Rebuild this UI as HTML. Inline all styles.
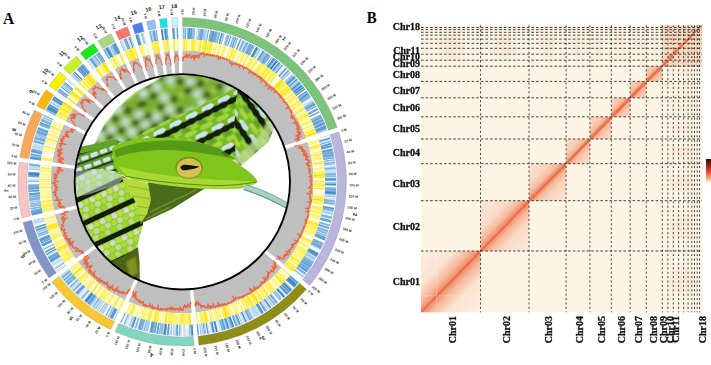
<!DOCTYPE html>
<html><head><meta charset="utf-8"><style>
html,body{margin:0;padding:0;background:#fff;}
body{width:711px;height:365px;overflow:hidden;position:relative;}
svg{position:absolute;left:0;top:0;}
.tk{font-family:"Liberation Sans",sans-serif;font-size:3.4px;font-weight:bold;fill:#333;dominant-baseline:central;}
.cn{font-family:"Liberation Sans",sans-serif;font-size:5.5px;fill:#222;}
.hl{font-family:"Liberation Serif",serif;font-weight:bold;font-size:10px;fill:#111;stroke:#111;stroke-width:0.3;}
.dv{stroke:#222;stroke-width:0.85;stroke-dasharray:2 2.4;}
.dh{stroke:#222;stroke-width:0.85;stroke-dasharray:2.6 2;}
.pl{font-family:"Liberation Serif",serif;font-weight:bold;font-size:15.5px;fill:#000;}
</style></head><body>
<svg width="711" height="365" viewBox="0 0 711 365">
<defs>
<clipPath id="pc"><circle cx="182.3" cy="181.8" r="108"/></clipPath>
<filter id="hb" x="-50%" y="-50%" width="200%" height="200%"><feGaussianBlur stdDeviation="3"/></filter>
<linearGradient id="dg0" x1="0" y1="0" x2="1" y2="1"><stop offset="0" stop-color="#fcefe4"/><stop offset="0.29" stop-color="#fae2d0"/><stop offset="0.42" stop-color="#f6b696"/><stop offset="0.48" stop-color="#f09070"/><stop offset="0.5" stop-color="#eb7050"/><stop offset="0.52" stop-color="#f09070"/><stop offset="0.58" stop-color="#f6b696"/><stop offset="0.71" stop-color="#fae2d0"/><stop offset="1" stop-color="#fcefe4"/></linearGradient>
<linearGradient id="dg1" x1="0" y1="0" x2="1" y2="1"><stop offset="0" stop-color="#fbeadd"/><stop offset="0.29" stop-color="#f9dbc7"/><stop offset="0.42" stop-color="#f6b696"/><stop offset="0.48" stop-color="#f09070"/><stop offset="0.5" stop-color="#eb7050"/><stop offset="0.52" stop-color="#f09070"/><stop offset="0.58" stop-color="#f6b696"/><stop offset="0.71" stop-color="#f9dbc7"/><stop offset="1" stop-color="#fbeadd"/></linearGradient>
<linearGradient id="dg2" x1="0" y1="0" x2="1" y2="1"><stop offset="0" stop-color="#fbe5d7"/><stop offset="0.29" stop-color="#f9d4bd"/><stop offset="0.42" stop-color="#f6b696"/><stop offset="0.47" stop-color="#f09070"/><stop offset="0.5" stop-color="#eb7050"/><stop offset="0.53" stop-color="#f09070"/><stop offset="0.58" stop-color="#f6b696"/><stop offset="0.71" stop-color="#f9d4bd"/><stop offset="1" stop-color="#fbe5d7"/></linearGradient>
<linearGradient id="dg3" x1="0" y1="0" x2="1" y2="1"><stop offset="0" stop-color="#fadfcf"/><stop offset="0.29" stop-color="#f8cdb2"/><stop offset="0.42" stop-color="#f6b696"/><stop offset="0.46" stop-color="#f09070"/><stop offset="0.5" stop-color="#eb7050"/><stop offset="0.54" stop-color="#f09070"/><stop offset="0.58" stop-color="#f6b696"/><stop offset="0.71" stop-color="#f8cdb2"/><stop offset="1" stop-color="#fadfcf"/></linearGradient>
<linearGradient id="dg4" x1="0" y1="0" x2="1" y2="1"><stop offset="0" stop-color="#fadece"/><stop offset="0.27" stop-color="#f8cbb0"/><stop offset="0.41" stop-color="#f6b696"/><stop offset="0.45" stop-color="#f09070"/><stop offset="0.5" stop-color="#eb7050"/><stop offset="0.55" stop-color="#f09070"/><stop offset="0.59" stop-color="#f6b696"/><stop offset="0.73" stop-color="#f8cbb0"/><stop offset="1" stop-color="#fadece"/></linearGradient>
<linearGradient id="dg5" x1="0" y1="0" x2="1" y2="1"><stop offset="0" stop-color="#faddcd"/><stop offset="0.24" stop-color="#f8caae"/><stop offset="0.4" stop-color="#f6b696"/><stop offset="0.44" stop-color="#f09070"/><stop offset="0.5" stop-color="#eb7050"/><stop offset="0.56" stop-color="#f09070"/><stop offset="0.6" stop-color="#f6b696"/><stop offset="0.76" stop-color="#f8caae"/><stop offset="1" stop-color="#faddcd"/></linearGradient>
<linearGradient id="dg6" x1="0" y1="0" x2="1" y2="1"><stop offset="0" stop-color="#fadccb"/><stop offset="0.19" stop-color="#f8c8ac"/><stop offset="0.38" stop-color="#f6b696"/><stop offset="0.43" stop-color="#f09070"/><stop offset="0.5" stop-color="#eb7050"/><stop offset="0.57" stop-color="#f09070"/><stop offset="0.62" stop-color="#f6b696"/><stop offset="0.81" stop-color="#f8c8ac"/><stop offset="1" stop-color="#fadccb"/></linearGradient>
<linearGradient id="dg7" x1="0" y1="0" x2="1" y2="1"><stop offset="0" stop-color="#fadccb"/><stop offset="0.19" stop-color="#f8c8ac"/><stop offset="0.38" stop-color="#f6b696"/><stop offset="0.43" stop-color="#f09070"/><stop offset="0.5" stop-color="#eb7050"/><stop offset="0.57" stop-color="#f09070"/><stop offset="0.62" stop-color="#f6b696"/><stop offset="0.81" stop-color="#f8c8ac"/><stop offset="1" stop-color="#fadccb"/></linearGradient>
<linearGradient id="dg8" x1="0" y1="0" x2="1" y2="1"><stop offset="0" stop-color="#f7c4a4"/><stop offset="0.5" stop-color="#ee7a58"/><stop offset="1" stop-color="#f7c4a4"/></linearGradient>
<linearGradient id="dg9" x1="0" y1="0" x2="1" y2="1"><stop offset="0" stop-color="#f7c4a4"/><stop offset="0.5" stop-color="#ee7a58"/><stop offset="1" stop-color="#f7c4a4"/></linearGradient>
<linearGradient id="dg10" x1="0" y1="0" x2="1" y2="1"><stop offset="0" stop-color="#f7c4a4"/><stop offset="0.5" stop-color="#ee7a58"/><stop offset="1" stop-color="#f7c4a4"/></linearGradient>
<linearGradient id="dg11" x1="0" y1="0" x2="1" y2="1"><stop offset="0" stop-color="#f7c4a4"/><stop offset="0.5" stop-color="#ee7a58"/><stop offset="1" stop-color="#f7c4a4"/></linearGradient>
<linearGradient id="dg12" x1="0" y1="0" x2="1" y2="1"><stop offset="0" stop-color="#f7c4a4"/><stop offset="0.5" stop-color="#ee7a58"/><stop offset="1" stop-color="#f7c4a4"/></linearGradient>
<linearGradient id="dg13" x1="0" y1="0" x2="1" y2="1"><stop offset="0" stop-color="#f7c4a4"/><stop offset="0.5" stop-color="#ee7a58"/><stop offset="1" stop-color="#f7c4a4"/></linearGradient>
<linearGradient id="dg14" x1="0" y1="0" x2="1" y2="1"><stop offset="0" stop-color="#f7c4a4"/><stop offset="0.5" stop-color="#ee7a58"/><stop offset="1" stop-color="#f7c4a4"/></linearGradient>
<linearGradient id="dg15" x1="0" y1="0" x2="1" y2="1"><stop offset="0" stop-color="#f7c4a4"/><stop offset="0.5" stop-color="#ee7a58"/><stop offset="1" stop-color="#f7c4a4"/></linearGradient>
<linearGradient id="dg16" x1="0" y1="0" x2="1" y2="1"><stop offset="0" stop-color="#f7c4a4"/><stop offset="0.5" stop-color="#ee7a58"/><stop offset="1" stop-color="#f7c4a4"/></linearGradient>
<linearGradient id="dg17" x1="0" y1="0" x2="1" y2="1"><stop offset="0" stop-color="#f7c4a4"/><stop offset="0.5" stop-color="#ee7a58"/><stop offset="1" stop-color="#f7c4a4"/></linearGradient>
<linearGradient id="cb" x1="0" y1="0" x2="0" y2="1"><stop offset="0" stop-color="#2b0d0a"/><stop offset="0.3" stop-color="#a0201a"/><stop offset="0.55" stop-color="#e8402a"/><stop offset="0.8" stop-color="#f8a070"/><stop offset="1" stop-color="#fde6cc"/></linearGradient>
</defs>
<text transform="translate(3 23.8) scale(1 1.12)" class="pl">A</text>
<text transform="translate(366.8 23.4) scale(0.96 1.12)" class="pl">B</text>
<g id="circos">
<path d="M182.43 50.3A131.5 131.5 0 0 1 306.27 138.23L284.57 145.85A108.5 108.5 0 0 0 182.39 73.3Z" fill="#bfbfbf"/>
<path d="M307.51 141.93A131.5 131.5 0 0 1 284.18 264.82L266.34 250.3A108.5 108.5 0 0 0 285.59 148.9Z" fill="#bfbfbf"/>
<path d="M281.67 267.81A131.5 131.5 0 0 1 195.6 312.62L193.26 289.73A108.5 108.5 0 0 0 264.27 252.77Z" fill="#bfbfbf"/>
<path d="M191.72 312.96A131.5 131.5 0 0 1 128.4 301.79L137.81 280.8A108.5 108.5 0 0 0 190.05 290.02Z" fill="#bfbfbf"/>
<path d="M124.86 300.14A131.5 131.5 0 0 1 77.94 261.94L96.18 247.93A108.5 108.5 0 0 0 134.89 279.44Z" fill="#bfbfbf"/>
<path d="M75.61 258.81A131.5 131.5 0 0 1 54.8 214.39L77.09 208.69A108.5 108.5 0 0 0 94.25 245.34Z" fill="#bfbfbf"/>
<path d="M53.89 210.6A131.5 131.5 0 0 1 51.64 166.12L74.47 168.86A108.5 108.5 0 0 0 76.33 205.56Z" fill="#bfbfbf"/>
<path d="M52.16 162.25A131.5 131.5 0 0 1 63.86 124.46L84.56 134.49A108.5 108.5 0 0 0 74.91 165.67Z" fill="#bfbfbf"/>
<path d="M65.61 120.98A131.5 131.5 0 0 1 73.31 108.08L92.36 120.97A108.5 108.5 0 0 0 86 131.62Z" fill="#bfbfbf"/>
<path d="M75.55 104.88A131.5 131.5 0 0 1 84.48 93.81L101.57 109.2A108.5 108.5 0 0 0 94.2 118.33Z" fill="#bfbfbf"/>
<path d="M87.13 90.95A131.5 131.5 0 0 1 97.59 81.14L112.39 98.75A108.5 108.5 0 0 0 103.76 106.84Z" fill="#bfbfbf"/>
<path d="M100.61 78.67A131.5 131.5 0 0 1 111.35 71.02L123.74 90.39A108.5 108.5 0 0 0 114.88 96.71Z" fill="#bfbfbf"/>
<path d="M114.67 68.96A131.5 131.5 0 0 1 125.28 63.26L135.23 83.99A108.5 108.5 0 0 0 126.48 88.7Z" fill="#bfbfbf"/>
<path d="M128.82 61.62A131.5 131.5 0 0 1 138.52 57.77L146.16 79.46A108.5 108.5 0 0 0 138.16 82.64Z" fill="#bfbfbf"/>
<path d="M142.22 56.53A131.5 131.5 0 0 1 149.83 54.35L155.49 76.64A108.5 108.5 0 0 0 149.21 78.44Z" fill="#bfbfbf"/>
<path d="M153.63 53.44A131.5 131.5 0 0 1 160.16 52.16L164.01 74.84A108.5 108.5 0 0 0 158.62 75.89Z" fill="#bfbfbf"/>
<path d="M164.01 51.56A131.5 131.5 0 0 1 169.82 50.88L171.99 73.78A108.5 108.5 0 0 0 167.19 74.34Z" fill="#bfbfbf"/>
<path d="M173.71 50.57A131.5 131.5 0 0 1 178.53 50.35L179.17 73.34A108.5 108.5 0 0 0 175.2 73.53Z" fill="#bfbfbf"/>
<path d="M182.49 17.5A164.3 164.3 0 0 1 337.22 127.36L328.63 130.38A155.2 155.2 0 0 0 182.47 26.6Z" fill="#7cc47c" stroke="#777" stroke-width="0.35" stroke-opacity="0.7"/>
<path d="M338.77 131.98A164.3 164.3 0 0 1 309.61 285.53L302.56 279.79A155.2 155.2 0 0 0 330.09 134.74Z" fill="#b9b5dc" stroke="#777" stroke-width="0.35" stroke-opacity="0.7"/>
<path d="M306.48 289.27A164.3 164.3 0 0 1 198.95 345.24L198.02 336.19A155.2 155.2 0 0 0 299.6 283.31Z" fill="#8e8e16" stroke="#777" stroke-width="0.35" stroke-opacity="0.7"/>
<path d="M194.09 345.67A164.3 164.3 0 0 1 114.98 331.72L118.7 323.42A155.2 155.2 0 0 0 193.43 336.59Z" fill="#82d5be" stroke="#777" stroke-width="0.35" stroke-opacity="0.7"/>
<path d="M110.56 329.66A164.3 164.3 0 0 1 51.94 281.93L59.15 276.39A155.2 155.2 0 0 0 114.53 321.47Z" fill="#f8c832" stroke="#777" stroke-width="0.35" stroke-opacity="0.7"/>
<path d="M49.03 278.02A164.3 164.3 0 0 1 23.03 222.52L31.84 220.27A155.2 155.2 0 0 0 56.4 272.7Z" fill="#8494c8" stroke="#777" stroke-width="0.35" stroke-opacity="0.7"/>
<path d="M21.89 217.78A164.3 164.3 0 0 1 19.07 162.2L28.11 163.29A155.2 155.2 0 0 0 30.77 215.79Z" fill="#f8c4c4" stroke="#777" stroke-width="0.35" stroke-opacity="0.7"/>
<path d="M19.73 157.37A164.3 164.3 0 0 1 34.34 110.16L42.53 114.13A155.2 155.2 0 0 0 28.72 158.73Z" fill="#f8a858" stroke="#777" stroke-width="0.35" stroke-opacity="0.7"/>
<path d="M36.53 105.81A164.3 164.3 0 0 1 46.15 89.69L53.69 94.79A155.2 155.2 0 0 0 44.6 110.02Z" fill="#f8b808" stroke="#777" stroke-width="0.35" stroke-opacity="0.7"/>
<path d="M48.94 85.69A164.3 164.3 0 0 1 60.1 71.86L66.86 77.95A155.2 155.2 0 0 0 56.32 91.01Z" fill="#f8f008" stroke="#777" stroke-width="0.35" stroke-opacity="0.7"/>
<path d="M63.42 68.29A164.3 164.3 0 0 1 76.48 56.03L82.34 63A155.2 155.2 0 0 0 70 74.58Z" fill="#c8f028" stroke="#777" stroke-width="0.35" stroke-opacity="0.7"/>
<path d="M80.26 52.95A164.3 164.3 0 0 1 93.68 43.39L98.58 51.05A155.2 155.2 0 0 0 85.9 60.09Z" fill="#18e818" stroke="#777" stroke-width="0.35" stroke-opacity="0.7"/>
<path d="M97.83 40.82A164.3 164.3 0 0 1 111.08 33.69L115.02 41.89A155.2 155.2 0 0 0 102.5 48.63Z" fill="#a8d880" stroke="#777" stroke-width="0.35" stroke-opacity="0.7"/>
<path d="M115.5 31.65A164.3 164.3 0 0 1 127.63 26.83L130.65 35.41A155.2 155.2 0 0 0 119.2 39.96Z" fill="#f87870" stroke="#777" stroke-width="0.35" stroke-opacity="0.7"/>
<path d="M132.25 25.28A164.3 164.3 0 0 1 141.76 22.56L144 31.38A155.2 155.2 0 0 0 135.01 33.95Z" fill="#5080f0" stroke="#777" stroke-width="0.35" stroke-opacity="0.7"/>
<path d="M146.5 21.43A164.3 164.3 0 0 1 154.66 19.82L156.18 28.8A155.2 155.2 0 0 0 148.48 30.31Z" fill="#90c0f8" stroke="#777" stroke-width="0.35" stroke-opacity="0.7"/>
<path d="M159.48 19.08A164.3 164.3 0 0 1 166.74 18.23L167.59 27.29A155.2 155.2 0 0 0 160.73 28.09Z" fill="#18e0f0" stroke="#777" stroke-width="0.35" stroke-opacity="0.7"/>
<path d="M171.6 17.84A164.3 164.3 0 0 1 177.61 17.56L177.87 26.66A155.2 155.2 0 0 0 172.18 26.92Z" fill="#c4f4f8" stroke="#777" stroke-width="0.35" stroke-opacity="0.7"/>
<path d="M182.47 27.8A154 154 0 0 1 327.5 130.77L316.93 134.48A142.8 142.8 0 0 0 182.45 39Z" fill="#a2c8e8"/>
<path d="M328.95 135.11A154 154 0 0 1 301.63 279.03L292.94 271.96A142.8 142.8 0 0 0 318.28 138.5Z" fill="#a2c8e8"/>
<path d="M298.69 282.53A154 154 0 0 1 197.9 335L196.75 323.86A142.8 142.8 0 0 0 290.22 275.2Z" fill="#a2c8e8"/>
<path d="M193.34 335.4A154 154 0 0 1 119.19 322.32L123.78 312.1A142.8 142.8 0 0 0 192.53 324.23Z" fill="#a2c8e8"/>
<path d="M115.05 320.39A154 154 0 0 1 60.11 275.66L68.99 268.83A142.8 142.8 0 0 0 119.94 310.31Z" fill="#a2c8e8"/>
<path d="M57.37 271.99A154 154 0 0 1 33 219.97L43.86 217.19A142.8 142.8 0 0 0 66.45 265.43Z" fill="#a2c8e8"/>
<path d="M31.94 215.53A154 154 0 0 1 29.3 163.43L40.42 164.77A142.8 142.8 0 0 0 42.87 213.07Z" fill="#a2c8e8"/>
<path d="M29.91 158.9A154 154 0 0 1 43.61 114.65L53.69 119.54A142.8 142.8 0 0 0 40.99 160.57Z" fill="#a2c8e8"/>
<path d="M45.66 110.57A154 154 0 0 1 54.68 95.46L63.95 101.74A142.8 142.8 0 0 0 55.59 115.75Z" fill="#a2c8e8"/>
<path d="M57.3 91.72A154 154 0 0 1 67.76 78.75L76.08 86.25A142.8 142.8 0 0 0 66.38 98.27Z" fill="#a2c8e8"/>
<path d="M70.86 75.4A154 154 0 0 1 83.11 63.92L90.31 72.49A142.8 142.8 0 0 0 78.96 83.14Z" fill="#a2c8e8"/>
<path d="M86.65 61.03A154 154 0 0 1 99.23 52.06L105.26 61.5A142.8 142.8 0 0 0 93.6 69.81Z" fill="#a2c8e8"/>
<path d="M103.11 49.66A154 154 0 0 1 115.54 42.98L120.39 53.07A142.8 142.8 0 0 0 108.87 59.27Z" fill="#a2c8e8"/>
<path d="M119.69 41.06A154 154 0 0 1 131.05 36.54L134.77 47.11A142.8 142.8 0 0 0 124.23 51.3Z" fill="#a2c8e8"/>
<path d="M135.38 35.09A154 154 0 0 1 144.29 32.54L147.05 43.39A142.8 142.8 0 0 0 138.78 45.76Z" fill="#a2c8e8"/>
<path d="M148.74 31.48A154 154 0 0 1 156.39 29.98L158.26 41.02A142.8 142.8 0 0 0 151.17 42.41Z" fill="#a2c8e8"/>
<path d="M160.9 29.28A154 154 0 0 1 167.71 28.48L168.76 39.63A142.8 142.8 0 0 0 162.45 40.37Z" fill="#a2c8e8"/>
<path d="M172.26 28.12A154 154 0 0 1 177.9 27.86L178.21 39.06A142.8 142.8 0 0 0 172.98 39.3Z" fill="#a2c8e8"/>
<path fill="#ffffff" d="M183.54 27.81L184.16 27.81L184.02 39.01L183.45 39.01ZM186.23 27.85L187.39 27.89L187.01 39.08L185.94 39.05ZM195.35 28.36L197.04 28.52L195.96 39.66L194.4 39.52ZM199.1 28.73L199.71 28.8L198.44 39.93L197.87 39.86ZM203.37 29.26L203.98 29.35L202.39 40.44L201.83 40.36ZM207.62 29.91L208.23 30.02L206.33 41.05L205.77 40.96ZM208.68 30.09L209.29 30.2L207.32 41.23L206.75 41.13ZM209.21 30.19L210.34 30.39L208.3 41.4L207.24 41.21ZM220.24 32.57L221.36 32.86L218.51 43.69L217.47 43.42ZM222.84 33.26L223.43 33.42L220.43 44.21L219.88 44.06ZM224.91 33.84L226.53 34.32L223.31 45.04L221.8 44.6ZM229.53 35.25L230.63 35.61L227.11 46.25L226.09 45.91ZM238.14 38.32L239.71 38.94L235.53 49.33L234.07 48.75ZM242.13 39.94L242.69 40.18L238.29 50.48L237.77 50.25ZM248.5 42.8L249.06 43.07L244.19 53.16L243.68 52.91ZM251.87 44.46L252.43 44.74L247.32 54.71L246.81 54.45ZM254.74 45.95L256.23 46.76L250.84 56.58L249.46 55.83ZM258.97 48.3L259.97 48.88L254.31 58.54L253.38 58.01ZM260.36 49.11L260.89 49.42L255.17 59.05L254.68 58.76ZM261.75 49.93L262.73 50.54L256.88 60.08L255.96 59.53ZM270.75 55.8L271.26 56.16L264.78 65.3L264.31 64.97ZM271.19 56.11L271.69 56.47L265.19 65.59L264.72 65.26ZM271.63 56.43L272.13 56.79L265.59 65.88L265.12 65.54ZM272.94 57.37L273.44 57.73L266.8 66.76L266.34 66.42ZM283.03 65.4L283.9 66.16L276.5 74.57L275.7 73.86ZM283.84 66.11L284.71 66.87L277.25 75.23L276.45 74.52ZM290.52 72.34L291.34 73.15L283.4 81.05L282.64 80.3ZM291.28 73.1L292.1 73.92L284.1 81.76L283.35 81ZM295.74 77.76L296.16 78.22L287.87 85.75L287.48 85.33ZM297.54 79.76L297.95 80.22L289.53 87.61L289.15 87.18ZM302.72 85.93L303.11 86.42L294.31 93.35L293.96 92.9ZM305.35 89.34L305.72 89.83L296.74 96.52L296.39 96.06ZM305.67 89.77L306.36 90.69L297.33 97.32L296.69 96.46ZM307.26 91.93L307.62 92.44L298.5 98.94L298.17 98.47ZM311.21 97.7L312.13 99.12L302.68 105.14L301.83 103.82ZM316.5 106.44L317.06 107.45L307.25 112.85L306.73 111.92ZM317.02 107.37L317.32 107.92L307.49 113.29L307.22 112.79ZM318.3 109.74L319.08 111.24L309.13 116.37L308.4 114.98ZM319.54 112.13L320.06 113.16L310.03 118.15L309.55 117.19ZM320.02 113.09L320.29 113.64L310.25 118.6L310 118.08ZM320.26 113.57L320.77 114.61L310.69 119.49L310.22 118.53ZM322.33 117.94L322.59 118.5L312.38 123.1L312.14 122.58ZM324.06 121.87L324.3 122.44L313.97 126.76L313.75 126.23ZM325.29 124.86L325.51 125.43L315.09 129.53L314.88 129ZM327.19 129.89L327.53 130.85L316.96 134.56L316.64 133.66ZM329.11 135.62L329.46 136.72L318.75 140L318.43 138.98ZM329.43 136.65L329.61 137.24L318.89 140.48L318.72 139.93ZM330.05 138.71L330.22 139.3L319.45 142.39L319.3 141.84ZM330.92 141.81L331.21 142.93L320.38 145.76L320.1 144.72ZM331.59 144.41L331.74 145.01L320.87 147.69L320.73 147.13ZM334.37 158.11L334.54 159.25L323.46 160.89L323.3 159.83ZM335.04 162.9L335.11 163.51L323.99 164.84L323.92 164.27ZM335.28 165.03L335.41 166.18L324.26 167.32L324.15 166.25ZM335.82 170.92L335.86 171.54L324.68 172.29L324.64 171.71ZM336.2 180.59L336.2 181.75L325 181.75L325 180.68ZM336.16 185.43L336.14 186.05L324.95 185.74L324.96 185.16ZM336.14 185.97L336.11 187.12L324.91 186.73L324.95 185.66ZM336.11 187.04L336.09 187.66L324.9 187.23L324.92 186.66ZM335.37 197.76L335.31 198.38L324.17 197.17L324.23 196.6ZM334.41 205.23L334.23 206.37L323.17 204.58L323.34 203.52ZM334.24 206.29L334.05 207.43L323.01 205.57L323.18 204.51ZM331.53 219.45L331.38 220.05L320.53 217.26L320.67 216.71ZM330.71 222.57L330.25 224.2L319.48 221.11L319.91 219.6ZM330.27 224.12L330.1 224.71L319.34 221.59L319.5 221.04ZM328.54 229.77L328.34 230.36L317.72 226.83L317.89 226.28ZM326.96 234.34L326.75 234.93L316.23 231.06L316.43 230.52ZM324.63 240.36L323.98 241.92L313.67 237.55L314.27 236.1ZM324.01 241.85L323.56 242.91L313.28 238.47L313.7 237.48ZM320.67 249.19L320.4 249.74L310.35 244.8L310.6 244.29ZM320.2 250.15L319.68 251.19L309.68 246.14L310.16 245.18ZM319.72 251.12L318.95 252.62L309 247.47L309.72 246.07ZM303.97 276.08L303.59 276.57L294.76 269.68L295.11 269.22ZM302.64 277.77L302.25 278.26L293.52 271.24L293.88 270.79ZM302.3 278.19L301.58 279.09L292.89 272.02L293.57 271.18ZM294 287.71L292.83 288.93L284.78 281.14L285.87 280.01ZM289.08 292.67L288.63 293.1L280.89 285.01L281.31 284.61ZM286.34 295.25L285.88 295.67L278.34 287.39L278.77 287ZM283.54 297.76L282.66 298.52L275.36 290.03L276.17 289.33ZM279.84 300.89L279.37 301.28L272.3 292.59L272.74 292.23ZM279.43 301.23L278.11 302.29L271.13 293.53L272.36 292.54ZM272.17 306.78L271.23 307.45L264.76 298.32L265.63 297.69ZM264.6 311.9L263.63 312.51L257.7 303.01L258.61 302.44ZM259.08 315.24L258.55 315.54L252.99 305.82L253.49 305.53ZM249.59 320.27L249.03 320.54L244.17 310.45L244.69 310.2ZM247.65 321.2L247.09 321.46L242.37 311.3L242.89 311.06ZM241.75 323.82L240.69 324.26L236.43 313.9L237.42 313.49ZM235.75 326.19L234.16 326.77L230.38 316.23L231.86 315.69ZM230.17 328.14L229.58 328.33L226.14 317.67L226.68 317.49ZM221.93 330.59L221.33 330.75L218.48 319.91L219.04 319.77ZM220.37 331L219.77 331.15L217.04 320.29L217.59 320.14ZM219.85 331.13L219.25 331.28L216.55 320.41L217.11 320.27ZM215.14 332.24L214.53 332.37L212.18 321.42L212.74 321.3ZM212.51 332.79L211.9 332.91L209.74 321.92L210.3 321.81ZM210.92 333.1L209.79 333.31L207.78 322.29L208.84 322.09ZM209.34 333.39L208.73 333.5L206.8 322.47L207.37 322.37ZM206.69 333.84L206.08 333.94L204.34 322.87L204.91 322.78ZM205.63 334.01L205.02 334.1L203.36 323.02L203.92 322.94ZM202.43 334.46L201.82 334.54L200.39 323.44L200.96 323.36ZM200.3 334.73L199.15 334.86L197.92 323.73L198.98 323.61ZM188.51 335.67L187.9 335.69L187.48 324.5L188.06 324.48ZM187.98 335.69L187.36 335.71L186.98 324.52L187.56 324.5ZM186.37 335.74L185.21 335.77L184.99 324.57L186.06 324.55ZM183.68 335.79L182.52 335.8L182.5 324.6L183.57 324.59ZM182.6 335.8L181.98 335.8L182 324.6L182.57 324.6ZM182.07 335.8L181.45 335.8L181.5 324.6L182.08 324.6ZM178.84 335.76L177.69 335.73L178.01 324.54L179.08 324.57ZM172.93 335.52L172.32 335.48L173.03 324.31L173.61 324.34ZM172.4 335.49L171.78 335.45L172.54 324.27L173.11 324.31ZM167.04 335.05L165.89 334.93L167.08 323.8L168.14 323.91ZM158.51 333.97L157.9 333.87L159.66 322.81L160.23 322.9ZM149.52 332.29L148.92 332.16L151.34 321.23L151.9 321.35ZM149 332.18L147.87 331.93L150.37 321.01L151.41 321.24ZM143.77 330.93L143.17 330.77L146.01 319.94L146.57 320.08ZM142.73 330.66L142.13 330.5L145.05 319.68L145.6 319.83ZM137.56 329.19L136.97 329.01L140.26 318.3L140.81 318.47ZM136.53 328.87L135.94 328.69L139.31 318.01L139.85 318.18ZM130.92 327.01L130.34 326.8L134.11 316.26L134.65 316.45ZM123.39 324.13L122.82 323.89L127.14 313.56L127.67 313.78ZM122.89 323.92L121.83 323.47L126.22 313.17L127.21 313.59ZM121.9 323.51L121.34 323.26L125.76 312.97L126.29 313.2ZM120.42 322.87L119.12 322.29L123.71 312.07L124.92 312.61ZM115.05 320.39L114.5 320.12L119.42 310.06L119.94 310.31ZM113.61 319.68L112.57 319.16L117.64 309.17L118.59 309.65ZM109.78 317.71L109.24 317.42L114.54 307.56L115.05 307.83ZM108.84 317.2L108.29 316.91L113.67 307.08L114.17 307.35ZM107.42 316.43L106.88 316.12L112.36 306.36L112.86 306.64ZM105.08 315.1L104.09 314.52L109.77 304.87L110.69 305.41ZM104.15 314.56L103.16 313.97L108.91 304.36L109.83 304.9ZM100.93 312.61L100.41 312.29L106.36 302.8L106.84 303.1ZM99.57 311.75L98.6 311.13L104.68 301.72L105.58 302.3ZM95.97 309.4L95.46 309.05L101.77 299.79L102.24 300.12ZM84.35 300.72L83.46 299.98L90.64 291.38L91.46 292.07ZM83.52 300.03L83.05 299.63L90.26 291.06L90.7 291.43ZM78.66 295.79L78.2 295.38L85.76 287.12L86.19 287.5ZM74.36 291.73L73.92 291.3L81.79 283.34L82.2 283.74ZM64.84 281.51L64.44 281.04L73 273.82L73.37 274.26ZM56.13 270.24L55.47 269.29L64.68 262.93L65.3 263.81ZM47.84 257.05L47.53 256.51L57.33 251.07L57.61 251.58ZM46.04 253.74L45.75 253.2L55.67 248L55.94 248.51ZM45.79 253.27L45.5 252.72L55.44 247.56L55.71 248.07ZM44.8 251.36L44.28 250.32L54.31 245.34L54.79 246.3ZM44.32 250.39L44.05 249.84L54.09 244.89L54.35 245.41ZM43.61 248.95L43.11 247.9L53.23 243.1L53.69 244.06ZM42.91 247.49L42.42 246.44L52.59 241.74L53.04 242.71ZM41.35 244.07L41.1 243.5L51.36 239.02L51.59 239.54ZM39.06 238.62L38.45 237.04L48.9 233.02L49.47 234.48ZM36.99 233.08L36.78 232.5L47.36 228.81L47.55 229.35ZM36.63 232.06L36.43 231.48L47.03 227.87L47.22 228.41ZM34.97 226.95L34.63 225.85L45.37 222.64L45.68 223.67ZM34.66 225.92L34.33 224.82L45.08 221.69L45.39 222.72ZM33.07 220.23L32.98 219.89L43.84 217.12L43.92 217.43ZM30.85 210.26L30.74 209.65L41.76 207.63L41.86 208.19ZM29.06 198.03L28.99 197.42L40.14 196.28L40.2 196.85ZM28.62 193.21L28.58 192.6L39.75 191.81L39.79 192.38ZM28.58 192.68L28.54 192.06L39.72 191.31L39.76 191.89ZM28.23 184.62L28.2 182.93L39.4 182.85L39.42 184.42ZM28.2 183.01L28.2 181.85L39.4 181.85L39.4 182.92ZM28.23 178.71L28.24 178.09L39.44 178.36L39.43 178.93ZM28.24 178.17L28.27 177.02L39.47 177.36L39.44 178.44ZM28.53 171.73L28.57 171.11L39.74 171.89L39.71 172.46ZM28.57 171.19L28.61 170.57L39.78 171.39L39.74 171.96ZM28.6 170.66L28.69 169.5L39.86 170.4L39.77 171.47ZM31.76 148.86L31.9 148.26L42.83 150.7L42.7 151.26ZM33.84 140.52L34 139.92L44.78 142.97L44.63 143.52ZM34.13 139.48L34.3 138.89L45.06 142.01L44.9 142.56ZM35.37 135.36L35.56 134.77L46.22 138.19L46.05 138.74ZM38.38 126.74L38.6 126.16L49.05 130.21L48.84 130.74ZM38.57 126.24L38.99 125.16L49.41 129.28L49.02 130.28ZM40.39 121.75L40.84 120.69L51.12 125.13L50.7 126.12ZM49.58 103.52L49.89 102.99L59.52 108.72L59.22 109.22ZM50.96 101.22L51.57 100.24L61.07 106.17L60.51 107.08ZM51.81 99.85L52.14 99.33L61.6 105.33L61.3 105.81ZM54.15 96.24L54.72 95.39L63.99 101.68L63.47 102.46ZM59.53 88.69L59.91 88.2L68.8 95.01L68.46 95.46ZM63.88 83.22L64.28 82.75L72.86 89.95L72.49 90.39ZM64.92 81.99L65.32 81.52L73.82 88.81L73.45 89.25ZM65.27 81.58L66.03 80.71L74.48 88.06L73.78 88.87ZM65.97 80.77L66.38 80.3L74.8 87.68L74.43 88.11ZM66.33 80.36L66.74 79.9L75.13 87.31L74.76 87.74ZM67.04 79.56L67.45 79.09L75.8 86.56L75.41 86.99ZM73.12 73.1L73.93 72.28L81.81 80.25L81.05 81ZM75.03 71.21L75.86 70.41L83.6 78.51L82.82 79.25ZM75.8 70.46L77.03 69.3L84.68 77.48L83.54 78.56ZM87.49 60.36L88.41 59.66L95.23 68.54L94.38 69.2ZM94.86 54.96L95.82 54.31L102.1 63.58L101.21 64.19ZM128.14 37.6L128.72 37.38L132.61 47.89L132.07 48.09ZM129.66 37.04L130.24 36.83L134.02 47.37L133.48 47.57ZM130.67 36.68L131.12 36.52L134.84 47.08L134.41 47.23ZM138.98 33.99L140.61 33.52L143.63 44.31L142.12 44.74ZM143.12 32.84L144.24 32.55L147 43.41L145.96 43.67ZM155.06 30.21L155.67 30.1L157.6 41.13L157.03 41.23ZM162.5 29.07L163.11 28.99L164.5 40.1L163.93 40.17ZM174.95 27.97L176.64 27.9L177.04 39.09L175.47 39.16Z"/>
<path fill="#e2eef8" d="M182.47 27.8L183.09 27.8L183.02 39L182.45 39ZM184.08 27.81L184.7 27.82L184.52 39.02L183.94 39.01ZM193.21 28.19L193.83 28.24L192.98 39.41L192.41 39.37ZM197.5 28.56L198.11 28.62L196.95 39.76L196.38 39.71ZM198.03 28.62L198.64 28.68L197.45 39.82L196.88 39.76ZM214.48 31.22L215.09 31.35L212.69 42.29L212.13 42.17ZM231.57 35.93L232.16 36.13L228.53 46.72L227.98 46.54ZM232.08 36.1L233.18 36.48L229.47 47.05L228.46 46.7ZM239.64 38.91L240.21 39.14L235.99 49.52L235.46 49.3ZM241.13 39.52L242.2 39.97L237.84 50.28L236.85 49.87ZM244.59 41L245.65 41.48L241.03 51.68L240.05 51.24ZM248.98 43.03L249.54 43.3L244.64 53.38L244.13 53.13ZM260.82 49.38L261.35 49.7L255.6 59.31L255.11 59.01ZM261.29 49.66L261.82 49.98L256.02 59.56L255.53 59.27ZM272.5 57.05L273 57.42L266.4 66.46L265.93 66.13ZM278.07 61.28L278.97 62L271.93 70.71L271.1 70.04ZM284.65 66.82L285.9 67.95L278.36 76.23L277.19 75.18ZM286.64 68.62L287.09 69.04L279.46 77.24L279.04 76.85ZM287.03 68.99L288.27 70.15L280.55 78.27L279.41 77.19ZM288.98 70.84L289.43 71.26L281.63 79.3L281.22 78.91ZM289.37 71.21L290.2 72.02L282.34 80L281.58 79.25ZM298.95 81.38L299.35 81.85L290.83 89.12L290.46 88.68ZM312.37 99.51L312.98 100.49L303.47 106.4L302.9 105.49ZM320.97 115.02L321.23 115.57L311.12 120.39L310.87 119.87ZM332.22 147.03L332.6 148.68L321.66 151.09L321.31 149.56ZM334.68 160.23L334.77 160.85L323.67 162.37L323.59 161.8ZM334.76 160.77L334.84 161.38L323.74 162.86L323.66 162.3ZM335.23 164.5L335.29 165.11L324.16 166.33L324.1 165.76ZM335.45 166.64L335.51 167.25L324.36 168.31L324.31 167.74ZM336.12 176.83L336.15 177.98L324.96 178.26L324.93 177.19ZM335.26 198.83L335.12 199.98L324 198.66L324.12 197.59ZM334.07 207.35L333.96 207.96L322.92 206.06L323.02 205.49ZM333.29 211.58L333.07 212.71L322.09 210.47L322.3 209.41ZM332.64 214.74L332.5 215.34L321.57 212.9L321.7 212.34ZM332.52 215.26L332.38 215.87L321.46 213.39L321.59 212.83ZM332.4 215.79L332.14 216.91L321.24 214.36L321.48 213.32ZM329.67 226.18L329.33 227.29L318.63 223.98L318.94 222.95ZM328.87 228.75L328.51 229.85L317.87 226.35L318.2 225.33ZM318.99 252.55L318.7 253.1L308.77 247.91L309.04 247.41ZM311.43 265.56L311.09 266.08L301.72 259.95L302.03 259.47ZM306.87 272.21L306.19 273.14L297.17 266.5L297.8 265.63ZM304.95 274.8L303.92 276.15L295.06 269.28L296.02 268.04ZM285.94 295.61L285.09 296.39L277.6 288.05L278.4 287.34ZM274.34 305.19L273.41 305.88L266.78 296.86L267.64 296.22ZM269.54 308.64L268.58 309.29L262.3 300.02L263.19 299.41ZM267.76 309.85L266.79 310.48L260.64 301.13L261.54 300.53ZM265.06 311.61L264.54 311.94L258.55 302.48L259.03 302.17ZM261.4 313.87L259.94 314.74L254.29 305.07L255.64 304.27ZM255.33 317.33L253.83 318.13L248.62 308.21L250.01 307.47ZM244.22 322.76L242.67 323.43L238.27 313.13L239.71 312.51ZM242.74 323.4L242.17 323.64L237.81 313.33L238.34 313.1ZM238.77 325.03L237.69 325.46L233.65 315.01L234.65 314.62ZM221.41 330.73L220.81 330.88L218 320.04L218.56 319.89ZM219.33 331.26L217.68 331.66L215.1 320.76L216.63 320.39ZM211.98 332.89L211.37 333.01L209.25 322.01L209.81 321.9ZM211.45 333L210.85 333.11L208.76 322.11L209.33 322ZM207.75 333.67L206.61 333.85L204.83 322.79L205.89 322.62ZM189.59 335.62L188.43 335.67L187.98 324.48L189.05 324.44ZM187.44 335.71L186.28 335.75L185.99 324.55L187.06 324.52ZM180.99 335.8L180.37 335.79L180.51 324.59L181.08 324.6ZM175.62 335.66L173.93 335.58L174.53 324.39L176.1 324.47ZM170.25 335.34L169.64 335.29L170.55 324.12L171.12 324.17ZM169.72 335.29L168.56 335.2L169.56 324.04L170.62 324.13ZM156.39 333.62L155.25 333.42L157.21 322.4L158.26 322.58ZM144.81 331.19L144.21 331.04L146.98 320.19L147.53 320.33ZM134.48 328.22L133.9 328.03L137.41 317.39L137.95 317.57ZM133.97 328.05L132.88 327.69L136.46 317.08L137.48 317.42ZM128.9 326.28L127.82 325.88L131.77 315.4L132.77 315.77ZM127.89 325.91L127.31 325.69L131.3 315.22L131.84 315.43ZM127.39 325.72L125.81 325.1L129.91 314.68L131.37 315.25ZM123.89 324.33L123.32 324.1L127.6 313.75L128.13 313.97ZM106.95 316.16L106.41 315.86L111.93 306.11L112.42 306.39ZM105.55 315.37L105.01 315.06L110.63 305.37L111.12 305.65ZM98.66 311.17L98.15 310.84L104.26 301.45L104.74 301.77ZM92.44 306.94L91.94 306.58L98.51 297.5L98.97 297.84ZM91.57 306.31L91.07 305.94L97.7 296.92L98.16 297.25ZM83.11 299.68L82.64 299.29L89.88 290.74L90.31 291.11ZM82.7 299.34L82.23 298.94L89.5 290.42L89.93 290.79ZM81.47 298.29L81 297.88L88.36 289.44L88.8 289.82ZM80.66 297.58L80.2 297.17L87.62 288.78L88.05 289.16ZM80.26 297.23L79.79 296.82L87.24 288.45L87.67 288.83ZM79.85 296.87L78.6 295.74L86.13 287.45L87.3 288.5ZM78.26 295.43L77.8 295.01L85.4 286.78L85.82 287.17ZM75.13 292.48L74.3 291.68L82.15 283.69L82.91 284.44ZM72.83 290.22L72.02 289.39L80.03 281.57L80.79 282.33ZM69.48 286.73L69.06 286.28L77.29 278.68L77.68 279.1ZM69.11 286.34L67.97 285.09L76.28 277.57L77.34 278.73ZM66.59 283.54L66.19 283.08L74.62 275.71L75 276.14ZM57.06 271.56L56.7 271.05L65.83 264.56L66.16 265.03ZM56.75 271.12L56.08 270.17L65.25 263.75L65.87 264.62ZM54.6 268.03L53.96 267.07L63.29 260.87L63.88 261.76ZM54 267.13L53.37 266.17L62.74 260.03L63.33 260.93ZM53.41 266.24L52.78 265.27L62.19 259.2L62.78 260.1ZM51.96 263.98L51.34 263L60.86 257.09L61.43 258ZM49.44 259.85L49.13 259.31L58.81 253.67L59.1 254.17ZM47.57 256.58L47.02 255.57L56.85 250.2L57.36 251.14ZM43.14 247.98L42.88 247.42L53.01 242.65L53.26 243.16ZM35.78 229.52L35.42 228.42L46.1 225.03L46.43 226.05ZM34.35 224.89L34.18 224.3L44.95 221.21L45.1 221.76ZM34.2 224.38L34.03 223.78L44.81 220.73L44.97 221.28ZM33.48 221.79L33.32 221.19L44.15 218.33L44.3 218.88ZM30.47 208.14L30.28 207.01L41.33 205.17L41.51 206.23ZM29.79 203.9L29.71 203.29L40.8 201.72L40.88 202.29ZM28.85 195.89L28.79 195.28L39.95 194.3L40 194.87ZM28.21 180.32L28.22 179.17L39.42 179.36L39.41 180.43ZM28.31 176.02L28.33 175.4L39.52 175.87L39.5 176.44ZM30.8 153.6L30.92 153L41.92 155.09L41.81 155.65ZM31.88 148.34L32.02 147.73L42.94 150.21L42.81 150.77ZM32.49 145.72L32.63 145.12L43.51 147.79L43.37 148.34ZM32.74 144.67L32.89 144.07L43.75 146.82L43.61 147.37ZM33 143.63L33.43 141.99L44.25 144.89L43.86 146.41ZM37.08 130.27L37.29 129.68L47.83 133.48L47.63 134.01ZM41.68 118.79L41.93 118.23L52.13 122.85L51.9 123.38ZM42.8 116.35L43.29 115.31L53.4 120.14L52.94 121.11ZM49.3 103.99L49.62 103.45L59.26 109.15L58.97 109.65ZM58.25 90.41L58.61 89.92L67.6 96.6L67.26 97.06ZM59.86 88.26L60.9 86.92L69.72 93.82L68.76 95.07ZM61.18 86.57L61.9 85.66L70.65 92.65L69.98 93.49ZM66.68 79.96L67.09 79.5L75.46 86.94L75.08 87.36ZM71.61 74.63L72.04 74.19L80.05 82.01L79.65 82.42ZM74.64 71.58L75.09 71.15L82.88 79.2L82.47 79.6ZM77.76 68.62L78.22 68.2L85.78 76.47L85.36 76.85ZM104.5 48.84L105.04 48.53L110.65 58.22L110.15 58.51ZM108.25 46.72L109.26 46.17L114.57 56.03L113.62 56.54ZM120.18 40.84L121.24 40.38L125.67 50.67L124.69 51.09ZM121.66 40.2L123.22 39.54L127.51 49.89L126.06 50.5ZM126.13 38.37L127.71 37.76L131.68 48.24L130.21 48.8ZM144.16 32.57L144.37 32.52L147.12 43.38L146.93 43.42ZM163.03 29L164.18 28.86L165.49 39.98L164.43 40.11ZM174.41 28L175.03 27.97L175.55 39.16L174.98 39.18Z"/>
<path fill="#c6dcf0" d="M185.16 27.83L185.77 27.84L185.51 39.04L184.94 39.03ZM194.82 28.32L195.43 28.37L194.47 39.53L193.9 39.48ZM204.43 29.41L205.04 29.5L203.38 40.58L202.81 40.5ZM206.03 29.65L207.7 29.93L205.84 40.97L204.29 40.72ZM236.13 37.55L237.21 37.96L233.21 48.42L232.21 48.04ZM242.62 40.15L243.19 40.39L238.75 50.68L238.23 50.45ZM275.52 59.3L276.44 60L269.59 68.86L268.74 68.21ZM281.4 64L282.28 64.75L275 73.26L274.18 72.57ZM313.51 101.34L313.83 101.86L304.26 107.68L303.96 107.19ZM315.43 104.57L315.74 105.1L306.03 110.68L305.74 110.18ZM325.87 126.36L326.1 126.94L315.63 130.93L315.43 130.39ZM326.82 128.88L327.03 129.46L316.5 133.26L316.3 132.73ZM329.59 137.16L329.77 137.75L319.03 140.96L318.87 140.41ZM330.2 139.22L330.37 139.82L319.59 142.87L319.43 142.32ZM330.34 139.74L330.8 141.37L319.99 144.31L319.57 142.8ZM335.4 166.1L335.46 166.72L324.31 167.82L324.26 167.25ZM335.65 168.78L335.78 170.47L324.61 171.29L324.49 169.73ZM335.78 170.39L335.82 171L324.65 171.79L324.61 171.22ZM335.85 171.46L335.93 172.61L324.75 173.28L324.68 172.21ZM335.92 172.53L335.96 173.15L324.77 173.78L324.74 173.21ZM335.67 194.55L335.52 196.24L324.37 195.19L324.51 193.63ZM332.75 214.21L332.62 214.82L321.68 212.42L321.8 211.86ZM326.02 236.86L325.8 237.44L315.35 233.39L315.56 232.86ZM322.05 246.27L321.79 246.83L311.64 242.1L311.88 241.58ZM316.7 256.81L316.13 257.82L306.39 252.29L306.91 251.36ZM316.17 257.75L315.86 258.29L306.14 252.72L306.43 252.23ZM314.82 260.08L313.95 261.53L304.37 255.73L305.18 254.38ZM314 261.46L313.67 261.99L304.11 256.16L304.41 255.67ZM310.25 267.36L309.9 267.87L300.61 261.61L300.93 261.14ZM303.31 276.93L302.92 277.41L294.14 270.46L294.5 270.01ZM302.97 277.35L302.59 277.84L293.83 270.85L294.19 270.4ZM286.74 294.89L286.28 295.3L278.71 287.05L279.13 286.66ZM276.48 303.57L275.14 304.6L268.38 295.66L269.62 294.71ZM272.61 306.47L272.11 306.83L265.57 297.74L266.03 297.4ZM257.68 316.03L256.2 316.85L250.82 307.03L252.19 306.27ZM256.27 316.82L255.26 317.37L249.94 307.51L250.89 307ZM253.9 318.09L253.36 318.37L248.18 308.44L248.69 308.18ZM249.1 320.51L248.06 321.01L243.27 310.88L244.24 310.42ZM245.7 322.1L244.64 322.57L240.1 312.34L241.08 311.9ZM227.1 329.11L226.51 329.29L223.28 318.56L223.83 318.4ZM220.89 330.86L220.29 331.02L217.52 320.16L218.07 320.02ZM216.19 332L215.58 332.14L213.16 321.2L213.72 321.08ZM204.56 334.17L203.42 334.33L201.88 323.24L202.94 323.09ZM191.2 335.54L190.04 335.6L189.47 324.41L190.54 324.36ZM185.29 335.77L183.6 335.79L183.5 324.59L185.07 324.57ZM181.53 335.8L180.91 335.79L181 324.59L181.58 324.6ZM163.3 334.64L162.15 334.49L163.61 323.38L164.67 323.52ZM145.34 331.32L144.74 331.17L147.46 320.31L148.02 320.45ZM143.25 330.79L142.65 330.64L145.53 319.81L146.08 319.96ZM134.99 328.39L134.41 328.2L137.88 317.55L138.43 317.73ZM125.88 325.13L125.31 324.91L129.45 314.5L129.98 314.71ZM125.38 324.94L124.81 324.71L128.98 314.31L129.52 314.53ZM124.88 324.74L124.31 324.51L128.52 314.13L129.05 314.34ZM106.48 315.9L105.95 315.6L111.49 305.87L111.99 306.15ZM103.23 314.01L102.7 313.69L108.48 304.1L108.97 304.4ZM102.31 313.46L101.78 313.13L107.63 303.58L108.12 303.88ZM98.21 310.88L96.8 309.95L103.01 300.63L104.32 301.49ZM96.87 310L95.91 309.35L102.18 300.07L103.07 300.67ZM95.08 308.79L94.58 308.44L100.95 299.23L101.42 299.56ZM94.64 308.49L93.25 307.52L99.72 298.37L101.01 299.27ZM75.51 292.86L75.07 292.43L82.86 284.38L83.27 284.78ZM72.08 289.45L70.9 288.23L78.99 280.49L80.09 281.62ZM70.96 288.29L70.16 287.46L78.31 279.77L79.05 280.55ZM63.46 279.86L63.06 279.38L71.73 272.29L72.09 272.73ZM63.11 279.44L62.38 278.55L71.1 271.51L71.77 272.34ZM61.09 276.93L60.38 276.02L69.24 269.17L69.9 270.01ZM60.43 276.08L60.06 275.59L68.94 268.77L69.29 269.22ZM57.37 271.99L57.01 271.49L66.12 264.97L66.45 265.43ZM54.91 268.47L54.56 267.96L63.84 261.69L64.16 262.17ZM52.83 265.34L51.91 263.91L61.39 257.94L62.23 259.26ZM51.39 263.07L50.78 262.08L60.34 256.24L60.9 257.16ZM44.08 249.91L43.81 249.36L53.87 244.44L54.13 244.96ZM40.49 242.1L40.25 241.53L50.58 237.18L50.8 237.71ZM37.35 234.09L36.96 233L47.52 229.28L47.88 230.29ZM33.91 223.34L33.46 221.71L44.28 218.81L44.69 220.32ZM29.5 201.77L29.35 200.62L40.47 199.25L40.61 200.32ZM28.45 190.53L28.39 189.38L39.57 188.83L39.63 189.9ZM28.2 180.86L28.21 180.24L39.41 180.35L39.4 180.93ZM28.22 179.25L28.23 178.63L39.43 178.86L39.42 179.43ZM28.77 168.51L28.93 166.83L40.08 167.91L39.93 169.48ZM28.92 166.91L29.04 165.76L40.18 166.92L40.07 167.99ZM29.03 165.84L29.09 165.22L40.23 166.43L40.17 167ZM29.21 164.23L29.28 163.62L40.4 164.94L40.33 165.51ZM30.9 153.08L31.12 151.94L42.11 154.11L41.91 155.16ZM32 147.81L32.38 146.16L43.28 148.75L42.92 150.28ZM32.61 145.2L32.76 144.6L43.63 147.3L43.49 147.86ZM32.87 144.15L33.02 143.55L43.87 146.34L43.73 146.89ZM34.89 136.9L35.23 135.8L45.92 139.14L45.6 140.17ZM36.37 132.3L36.57 131.71L47.16 135.36L46.98 135.9ZM49.85 103.06L50.17 102.53L59.77 108.3L59.48 108.79ZM62.18 85.3L63.25 83.99L71.9 91.1L70.91 92.32ZM67.4 79.15L67.81 78.69L76.13 86.19L75.75 86.62ZM86.65 61.03L87.56 60.31L94.44 69.15L93.6 69.81ZM92.66 56.5L93.61 55.84L100.05 65L99.17 65.62ZM142.6 32.98L143.2 32.82L146.04 43.66L145.48 43.8ZM150.31 31.14L151.44 30.9L153.68 41.88L152.63 42.09ZM154.53 30.31L155.14 30.2L157.11 41.22L156.54 41.32Z"/>
<path fill="#7cb2dc" d="M184.62 27.82L185.24 27.83L185.02 39.03L184.44 39.02ZM187.31 27.88L188.46 27.93L188.01 39.12L186.93 39.08ZM190.53 28.03L191.15 28.06L190.49 39.24L189.92 39.21ZM192.67 28.16L193.29 28.2L192.48 39.37L191.91 39.33ZM193.75 28.23L194.9 28.32L193.98 39.49L192.91 39.4ZM198.56 28.67L199.18 28.74L197.94 39.87L197.37 39.81ZM199.63 28.79L201.31 28.99L199.92 40.1L198.37 39.92ZM201.77 29.05L202.38 29.13L200.91 40.23L200.34 40.16ZM202.3 29.12L202.91 29.2L201.41 40.3L200.84 40.22ZM203.9 29.34L204.51 29.42L202.89 40.51L202.32 40.42ZM210.26 30.38L211.4 30.59L209.28 41.59L208.22 41.39ZM211.32 30.58L212.45 30.8L210.25 41.78L209.2 41.58ZM215.53 31.45L216.13 31.59L213.67 42.51L213.11 42.38ZM216.58 31.69L217.71 31.95L215.12 42.85L214.08 42.6ZM219.2 32.31L220.32 32.59L217.54 43.44L216.5 43.18ZM223.35 33.4L223.95 33.57L220.91 44.35L220.36 44.19ZM228 34.77L228.59 34.95L225.21 45.63L224.67 45.46ZM228.51 34.93L229.61 35.28L226.16 45.94L225.14 45.61ZM233.1 36.45L233.68 36.66L229.94 47.22L229.4 47.03ZM233.61 36.63L234.19 36.84L230.41 47.38L229.87 47.19ZM237.14 37.93L238.22 38.35L234.14 48.78L233.14 48.4ZM243.11 40.36L244.67 41.04L240.12 51.27L238.68 50.65ZM246.55 41.89L247.6 42.38L242.84 52.52L241.87 52.07ZM247.53 42.34L248.57 42.84L243.74 52.94L242.78 52.48ZM249.95 43.5L250.99 44.02L245.98 54.04L245.02 53.56ZM253.31 45.2L253.86 45.49L248.65 55.4L248.14 55.13ZM254.26 45.7L254.81 45.99L249.53 55.87L249.02 55.6ZM258.5 48.03L259.04 48.34L253.45 58.04L252.95 57.76ZM264.94 51.92L265.46 52.25L259.41 61.67L258.93 61.36ZM266.75 53.09L268.16 54.02L261.91 63.32L260.6 62.45ZM268.54 54.28L269.49 54.93L263.14 64.16L262.26 63.55ZM269.43 54.88L269.94 55.24L263.55 64.44L263.08 64.11ZM269.87 55.19L270.38 55.54L263.96 64.73L263.49 64.4ZM270.31 55.5L270.82 55.85L264.37 65.01L263.9 64.68ZM293.16 75.02L293.59 75.46L285.49 83.2L285.09 82.78ZM293.91 75.79L294.33 76.24L286.18 83.92L285.78 83.5ZM296.46 78.55L296.88 79.01L288.54 86.49L288.15 86.06ZM300.34 83.02L301.08 83.91L292.44 91.03L291.75 90.2ZM305.03 88.91L305.4 89.4L296.44 96.12L296.09 95.66ZM306.63 91.06L307.31 92L298.21 98.53L297.58 97.66ZM308.81 94.13L309.16 94.64L299.93 100.98L299.6 100.51ZM309.12 94.57L309.46 95.08L300.21 101.39L299.89 100.92ZM309.42 95.02L309.77 95.53L300.49 101.8L300.17 101.33ZM309.72 95.46L310.37 96.42L301.04 102.63L300.45 101.74ZM313.79 101.79L314.66 103.25L305.03 108.96L304.22 107.61ZM315.97 105.5L316.54 106.51L306.77 111.98L306.24 111.05ZM317.28 107.85L317.83 108.86L307.97 114.17L307.46 113.22ZM317.79 108.79L318.09 109.34L308.2 114.61L307.93 114.1ZM321.2 115.5L321.69 116.55L311.55 121.29L311.09 120.32ZM322.56 118.43L322.81 118.99L312.58 123.56L312.35 123.04ZM323.43 120.39L324.09 121.95L313.77 126.3L313.16 124.86ZM324.68 123.36L325.32 124.93L314.91 129.07L314.32 127.61ZM327 129.38L327.21 129.96L316.67 133.73L316.47 133.19ZM332.1 146.5L332.24 147.11L321.33 149.63L321.2 149.07ZM332.92 150.18L333.15 151.31L322.17 153.53L321.96 152.48ZM333.14 151.23L333.36 152.36L322.37 154.5L322.16 153.45ZM333.45 152.81L333.66 153.95L322.64 155.97L322.45 154.92ZM333.65 153.87L333.76 154.48L322.73 156.46L322.63 155.9ZM334.2 157.05L334.3 157.66L323.23 159.41L323.14 158.85ZM334.53 159.17L334.62 159.78L323.53 161.38L323.45 160.82ZM334.61 159.7L334.69 160.31L323.6 161.88L323.52 161.31ZM334.9 161.83L334.98 162.45L323.87 163.85L323.79 163.28ZM334.97 162.37L335.05 162.98L323.93 164.35L323.86 163.78ZM335.1 163.43L335.17 164.05L324.05 165.34L323.98 164.77ZM335.5 167.17L335.66 168.86L324.5 169.8L324.35 168.24ZM335.95 173.07L336.04 174.76L324.85 175.27L324.77 173.7ZM336.1 176.29L336.12 176.91L324.93 177.26L324.91 176.69ZM336.09 187.58L336.04 188.73L324.86 188.23L324.9 187.16ZM336 189.73L335.93 190.88L324.75 190.22L324.81 189.15ZM335.94 190.8L335.86 191.95L324.69 191.21L324.76 190.14ZM335.07 200.43L334.99 201.05L323.88 199.65L323.95 199.08ZM335 200.97L334.85 202.11L323.75 200.64L323.89 199.57ZM333.79 208.94L333.58 210.08L322.57 208.02L322.77 206.97ZM333.6 210L333.28 211.66L322.29 209.49L322.59 207.95ZM332.16 216.84L331.89 217.96L321.01 215.33L321.26 214.29ZM331.91 217.88L331.77 218.48L320.89 215.81L321.03 215.26ZM330.99 221.53L330.83 222.13L320.02 219.19L320.17 218.64ZM330.12 224.64L329.95 225.23L319.2 222.07L319.36 221.52ZM329.97 225.15L329.64 226.26L318.92 223.03L319.23 222ZM328.37 230.28L327.83 231.89L317.24 228.24L317.74 226.76ZM327.32 233.33L327.11 233.92L316.57 230.12L316.77 229.59ZM327.14 233.84L326.93 234.42L316.41 230.59L316.6 230.05ZM326.59 235.35L326.37 235.93L315.89 232L316.09 231.46ZM325.43 238.37L325.21 238.94L314.81 234.79L315.02 234.25ZM323.59 242.84L323.34 243.4L313.08 238.92L313.3 238.4ZM323.37 243.33L322.91 244.39L312.67 239.84L313.11 238.86ZM322.94 244.31L322.69 244.88L312.47 240.29L312.7 239.77ZM322.28 245.79L322.02 246.35L311.85 241.65L312.09 241.13ZM321.37 247.73L320.64 249.26L310.57 244.35L311.25 242.94ZM316.96 256.34L316.66 256.88L306.88 251.42L307.16 250.92ZM313.72 261.92L313.11 262.91L303.59 257.01L304.15 256.09ZM312.59 263.75L311.97 264.73L302.53 258.69L303.1 257.79ZM309.95 267.8L308.99 269.2L299.77 262.85L300.66 261.55ZM308.73 269.58L307.76 270.97L298.63 264.48L299.53 263.2ZM306.23 273.08L305.87 273.58L296.87 266.9L297.21 266.44ZM305.91 273.51L304.9 274.87L295.97 268.1L296.92 266.84ZM303.64 276.51L303.26 276.99L294.45 270.07L294.8 269.62ZM297.63 283.74L297.22 284.21L288.85 276.76L289.23 276.33ZM294.74 286.93L294.31 287.38L286.16 279.7L286.55 279.28ZM290.62 291.17L289.79 291.98L281.97 283.97L282.73 283.21ZM288.3 293.42L287.86 293.84L280.17 285.69L280.59 285.3ZM287.13 294.52L286.68 294.94L279.08 286.71L279.5 286.32ZM280.67 300.2L280.2 300.6L273.07 291.96L273.51 291.59ZM277.75 302.57L277.27 302.95L270.35 294.14L270.8 293.79ZM277.33 302.91L276.84 303.29L269.96 294.45L270.41 294.1ZM275.2 304.55L274.28 305.24L267.58 296.26L268.44 295.62ZM266.86 310.44L266.34 310.78L260.23 301.4L260.7 301.08ZM251.99 319.08L251.44 319.36L246.41 309.35L246.92 309.09ZM242.25 323.61L241.68 323.85L237.35 313.52L237.88 313.3ZM239.27 324.84L238.69 325.06L234.58 314.65L235.12 314.43ZM237.76 325.43L237.19 325.65L233.19 315.19L233.72 314.98ZM237.26 325.62L236.18 326.03L232.26 315.54L233.26 315.16ZM232.21 327.45L231.63 327.65L228.03 317.05L228.57 316.86ZM227.61 328.95L227.02 329.13L223.76 318.42L224.31 318.25ZM224.52 329.87L223.41 330.18L220.41 319.39L221.44 319.1ZM223.48 330.16L221.85 330.61L218.97 319.79L220.48 319.37ZM213.56 332.57L212.96 332.7L210.72 321.72L211.28 321.61ZM208.81 333.48L208.2 333.59L206.31 322.55L206.87 322.45ZM206.16 333.92L205.55 334.02L203.85 322.95L204.42 322.86ZM190.13 335.6L189.51 335.63L188.98 324.44L189.55 324.41ZM179.92 335.78L178.76 335.76L179.01 324.56L180.08 324.58ZM177.23 335.72L175.54 335.66L176.02 324.47L177.59 324.53ZM163.83 334.7L163.22 334.63L164.6 323.51L165.17 323.58ZM162.23 334.5L161.09 334.35L162.62 323.25L163.68 323.39ZM159.57 334.13L158.96 334.04L160.65 322.96L161.22 323.05ZM156.92 333.71L156.31 333.61L158.19 322.57L158.75 322.66ZM153.74 333.15L152.08 332.83L154.27 321.84L155.81 322.14ZM142.21 330.52L141.62 330.36L144.57 319.55L145.12 319.7ZM140.66 330.09L140.06 329.92L143.13 319.15L143.68 319.31ZM139.62 329.8L139.03 329.63L142.17 318.87L142.72 319.03ZM136.02 328.71L134.92 328.36L138.36 317.7L139.38 318.03ZM131.43 327.19L130.84 326.98L134.58 316.43L135.12 316.62ZM121.41 323.29L120.35 322.83L124.85 312.58L125.83 313ZM112.64 319.2L112.09 318.92L117.19 308.95L117.7 309.21ZM109.31 317.46L108.76 317.16L114.11 307.32L114.61 307.59ZM108.36 316.94L107.82 316.65L113.23 306.84L113.73 307.12ZM100.02 312.04L99.5 311.71L105.52 302.26L106 302.57ZM95.53 309.09L95.02 308.75L101.36 299.51L101.83 299.84ZM88.13 303.73L87.64 303.35L94.52 294.51L94.97 294.86ZM87.71 303.4L86.8 302.69L93.73 293.9L94.58 294.56ZM86.86 302.74L86.37 302.36L93.34 293.59L93.79 293.94ZM82.29 298.99L81.41 298.24L88.74 289.77L89.55 290.47ZM77.86 295.07L77.41 294.65L85.03 286.44L85.45 286.83ZM76.68 293.97L76.23 293.54L83.94 285.42L84.36 285.81ZM75.9 293.23L75.45 292.8L83.22 284.73L83.63 285.13ZM73.97 291.36L72.77 290.16L80.73 282.28L81.84 283.39ZM70.22 287.51L69.42 286.67L77.63 279.04L78.36 279.83ZM68.03 285.15L67.61 284.69L75.95 277.2L76.33 277.63ZM67.31 284.35L66.9 283.88L75.28 276.46L75.66 276.89ZM66.95 283.94L66.54 283.48L74.95 276.09L75.33 276.52ZM66.24 283.14L65.13 281.86L73.65 274.58L74.67 275.77ZM64.49 281.1L63.75 280.21L72.36 273.05L73.05 273.88ZM62.43 278.61L61.38 277.29L70.16 270.34L71.15 271.57ZM55.51 269.36L55.16 268.85L64.4 262.52L64.73 262.99ZM48.63 258.45L48.06 257.45L57.82 251.94L58.35 252.88ZM45.29 252.31L44.77 251.28L54.76 246.23L55.25 247.18ZM41.57 244.56L41.32 244L51.56 239.47L51.8 240ZM40.71 242.59L40.46 242.02L50.77 237.64L51 238.17ZM39.26 239.12L39.03 238.54L49.45 234.41L49.66 234.95ZM38.48 237.11L38.07 236.03L48.55 232.09L48.93 233.09ZM36.81 232.57L36.61 231.99L47.2 228.34L47.38 228.88ZM31.37 212.9L31.25 212.29L42.23 210.07L42.34 210.64ZM31.06 211.32L30.84 210.18L41.85 208.12L42.05 209.17ZM30.66 209.2L30.46 208.07L41.49 206.16L41.68 207.21ZM29.87 204.43L29.78 203.82L40.87 202.22L40.95 202.78ZM29.36 200.7L29.23 199.55L40.35 198.26L40.48 199.33ZM29.24 199.63L29.05 197.95L40.19 196.78L40.36 198.34ZM29 197.5L28.84 195.81L39.99 194.79L40.14 196.35ZM28.55 192.14L28.51 191.52L39.68 190.82L39.72 191.39ZM28.28 186.77L28.26 186.15L39.46 185.84L39.47 186.41ZM28.26 186.23L28.22 184.54L39.42 184.34L39.46 185.91ZM28.2 181.93L28.2 181.32L39.4 181.35L39.4 181.92ZM28.27 177.1L28.29 176.48L39.49 176.87L39.47 177.44ZM28.5 172.26L28.54 171.65L39.71 172.39L39.67 172.96ZM29.27 163.7L29.31 163.35L40.43 164.69L40.39 165.02ZM30.71 154.13L30.82 153.52L41.83 155.58L41.72 156.14ZM31.43 150.44L31.67 149.31L42.61 151.67L42.39 152.72ZM33.41 142.07L33.57 141.47L44.38 144.41L44.23 144.96ZM33.98 140L34.15 139.4L44.92 142.49L44.76 143.04ZM34.28 138.96L34.76 137.34L45.48 140.57L45.04 142.08ZM35.21 135.88L35.39 135.29L46.07 138.67L45.9 139.22ZM35.53 134.85L35.72 134.26L46.37 137.72L46.2 138.27ZM37.26 129.76L37.47 129.18L47.99 133.01L47.8 133.55ZM38.97 125.23L39.39 124.16L49.78 128.35L49.38 129.35ZM39.36 124.24L39.6 123.66L49.97 127.89L49.75 128.42ZM39.57 123.74L39.8 123.16L50.16 127.43L49.94 127.96ZM41.03 120.27L41.49 119.21L51.73 123.76L51.29 124.74ZM41.46 119.29L41.71 118.72L51.93 123.31L51.7 123.83ZM43.26 115.38L43.64 114.58L53.72 119.47L53.36 120.21ZM46.42 109.15L46.71 108.6L56.56 113.92L56.29 114.43ZM51.53 100.31L51.86 99.78L61.34 105.75L61.03 106.23ZM52.68 98.49L53.02 97.97L62.41 104.07L62.1 104.55ZM57.3 91.72L58.29 90.35L67.31 97L66.38 98.27ZM58.57 89.98L58.94 89.49L67.9 96.2L67.56 96.66ZM61.85 85.72L62.23 85.24L70.96 92.26L70.6 92.71ZM63.2 84.05L63.59 83.57L72.22 90.72L71.85 91.16ZM79.75 66.82L81.02 65.7L88.38 74.14L87.21 75.18ZM81.78 65.05L82.66 64.3L89.9 72.84L89.08 73.54ZM82.59 64.35L83.07 63.95L90.28 72.52L89.84 72.89ZM83 64L83.17 63.86L90.37 72.44L90.22 72.57ZM93.54 55.88L94.93 54.92L101.28 64.14L99.99 65.04ZM95.75 54.35L97.16 53.41L103.34 62.75L102.04 63.62ZM97.09 53.46L97.61 53.12L103.76 62.47L103.28 62.79ZM97.54 53.16L98.96 52.24L105.01 61.66L103.7 62.52ZM103.11 49.66L104.11 49.07L109.79 58.72L108.87 59.27ZM104.04 49.11L104.57 48.8L110.22 58.47L109.72 58.76ZM107.3 47.24L107.85 46.94L113.25 56.75L112.75 57.03ZM107.77 46.98L108.32 46.68L113.69 56.51L113.19 56.78ZM111.57 44.95L112.12 44.67L117.21 54.64L116.7 54.91ZM119.69 41.06L120.25 40.81L124.76 51.06L124.23 51.3ZM123.64 39.37L125.21 38.73L129.35 49.14L127.9 49.73ZM130.16 36.86L130.74 36.65L134.49 47.21L133.95 47.4ZM156.12 30.02L156.46 29.97L158.34 41.01L158.02 41.06ZM165.7 28.69L167.39 28.51L168.46 39.66L166.9 39.82ZM177.63 27.87L177.98 27.86L178.29 39.05L177.96 39.06Z"/>
<path fill="#5a9cd0" d="M183.01 27.8L183.62 27.81L183.52 39.01L182.95 39ZM188.38 27.92L189.53 27.97L189 39.16L187.93 39.12ZM189.45 27.97L190.61 28.03L190 39.21L188.93 39.16ZM191.6 28.09L192.22 28.13L191.49 39.3L190.92 39.27ZM201.23 28.98L201.85 29.06L200.42 40.17L199.85 40.09ZM212.38 30.79L212.98 30.91L210.74 41.88L210.18 41.77ZM212.9 30.89L214.03 31.13L211.72 42.08L210.67 41.87ZM215.01 31.33L215.61 31.47L213.18 42.4L212.62 42.28ZM216.06 31.57L216.66 31.7L214.15 42.62L213.59 42.49ZM221.28 32.84L221.88 33L218.99 43.82L218.44 43.67ZM221.8 32.98L222.91 33.28L219.95 44.08L218.92 43.8ZM240.14 39.11L241.21 39.55L236.92 49.9L235.92 49.49ZM249.47 43.27L250.02 43.54L245.09 53.59L244.58 53.34ZM250.91 43.98L251.47 44.26L246.43 54.26L245.92 54ZM252.35 44.71L253.38 45.24L248.2 55.17L247.25 54.68ZM259.9 48.84L260.43 49.15L254.74 58.8L254.25 58.51ZM262.66 50.49L263.19 50.82L257.3 60.34L256.81 60.04ZM263.12 50.78L264.1 51.39L258.15 60.87L257.24 60.3ZM272.07 56.74L272.57 57.1L265.99 66.17L265.53 65.83ZM274.23 58.33L275.59 59.35L268.79 68.25L267.54 67.31ZM278.91 61.95L280.22 63.02L273.09 71.66L271.87 70.67ZM282.21 64.7L283.09 65.45L275.75 73.91L274.94 73.21ZM288.21 70.09L289.04 70.89L281.27 78.96L280.5 78.22ZM290.14 71.96L290.58 72.39L282.7 80.35L282.29 79.95ZM294.28 76.18L294.7 76.63L286.52 84.28L286.13 83.87ZM294.64 76.58L295.07 77.03L286.86 84.65L286.47 84.23ZM295.01 76.97L295.8 77.82L287.53 85.38L286.81 84.59ZM296.82 78.95L297.24 79.41L288.87 86.86L288.49 86.43ZM299.3 81.79L299.7 82.26L291.16 89.5L290.79 89.06ZM303.06 86.35L303.44 86.84L294.62 93.75L294.27 93.3ZM307.57 92.37L308.24 93.32L299.07 99.75L298.46 98.88ZM308.2 93.25L308.86 94.2L299.64 100.57L299.03 99.69ZM314.62 103.18L315.2 104.17L305.53 109.82L304.99 108.89ZM315.16 104.1L315.47 104.64L305.78 110.25L305.49 109.75ZM319.05 111.17L319.33 111.72L309.36 116.81L309.09 116.3ZM319.29 111.65L319.57 112.2L309.58 117.26L309.32 116.75ZM321.66 116.47L322.37 118.01L312.17 122.65L311.52 121.22ZM322.78 118.92L323.46 120.47L313.19 124.93L312.55 123.49ZM325.48 125.36L325.71 125.93L315.27 130L315.06 129.46ZM326.26 127.36L326.66 128.45L316.16 132.33L315.78 131.32ZM330.78 141.29L330.94 141.89L320.12 144.79L319.97 144.24ZM331.19 142.85L331.35 143.45L320.5 146.24L320.36 145.68ZM331.33 143.37L331.48 143.97L320.62 146.72L320.48 146.17ZM331.46 143.89L331.61 144.49L320.75 147.21L320.61 146.65ZM331.72 144.94L332.12 146.58L321.22 149.14L320.85 147.62ZM332.58 148.6L332.93 150.25L321.97 152.55L321.64 151.01ZM333.34 152.28L333.46 152.89L322.46 154.99L322.35 154.43ZM333.74 154.4L333.85 155.01L322.82 156.95L322.72 156.39ZM334.28 157.58L334.38 158.19L323.31 159.9L323.22 159.34ZM336.15 177.9L336.17 178.52L324.97 178.76L324.95 178.19ZM336.18 179.52L336.2 180.67L325 180.75L324.98 179.68ZM336.17 184.89L336.16 185.51L324.96 185.24L324.97 184.67ZM336.05 188.65L336.02 189.27L324.83 188.73L324.86 188.15ZM336.02 189.19L335.99 189.81L324.81 189.22L324.84 188.65ZM335.71 194.02L335.66 194.63L324.5 193.7L324.55 193.13ZM331.26 220.49L330.97 221.61L320.15 218.71L320.42 217.67ZM330.85 222.05L330.68 222.64L319.89 219.67L320.04 219.12ZM329.35 227.21L328.84 228.83L318.18 225.41L318.65 223.91ZM325.83 237.36L325.41 238.44L314.99 234.32L315.38 233.32ZM325.24 238.87L324.6 240.44L314.24 236.17L314.83 234.72ZM322.5 245.3L322.24 245.86L312.06 241.2L312.3 240.68ZM321.83 246.76L321.34 247.81L311.22 243.01L311.67 242.04ZM317.73 254.93L317.18 255.94L307.36 250.55L307.87 249.61ZM312.87 263.29L312.54 263.82L303.06 257.85L303.37 257.37ZM312.01 264.66L311.38 265.63L301.99 259.53L302.57 258.63ZM310.84 266.46L310.2 267.42L300.89 261.2L301.48 260.3ZM309.04 269.14L308.69 269.65L299.49 263.26L299.81 262.79ZM307.81 270.9L307.14 271.84L298.05 265.29L298.67 264.42ZM298.69 282.53L297.57 283.8L289.18 276.38L290.22 275.2ZM294.37 287.32L293.94 287.77L285.82 280.06L286.21 279.64ZM288.69 293.04L288.25 293.47L280.53 285.35L280.95 284.95ZM285.15 296.33L284.69 296.75L277.23 288.39L277.66 288ZM271.3 307.41L269.91 308.38L263.53 299.17L264.82 298.27ZM265.96 311.03L264.99 311.65L258.97 302.21L259.87 301.63ZM262.78 313.04L261.33 313.91L255.58 304.31L256.92 303.49ZM250.55 319.8L249.52 320.31L244.62 310.24L245.58 309.76ZM240.76 324.23L239.19 324.87L235.05 314.46L236.5 313.87ZM232.72 327.28L232.13 327.48L228.5 316.88L229.04 316.7ZM229.66 328.3L229.07 328.49L225.66 317.82L226.21 317.65ZM229.15 328.47L227.53 328.98L224.24 318.27L225.73 317.8ZM225.55 329.57L224.96 329.75L221.85 318.99L222.4 318.83ZM225.04 329.72L224.44 329.89L221.37 319.12L221.92 318.96ZM213.03 332.68L212.43 332.8L210.23 321.82L210.79 321.71ZM205.1 334.09L204.48 334.18L202.86 323.1L203.43 323.01ZM192.27 335.47L191.66 335.51L190.97 324.33L191.54 324.29ZM191.74 335.5L191.12 335.54L190.47 324.36L191.04 324.33ZM168.64 335.2L166.96 335.04L168.07 323.9L169.63 324.05ZM165.97 334.94L165.35 334.88L166.58 323.74L167.15 323.8ZM157.98 333.88L156.84 333.7L158.68 322.65L159.74 322.82ZM155.33 333.44L154.19 333.23L156.23 322.22L157.28 322.41ZM152.16 332.84L150.5 332.5L152.8 321.54L154.34 321.86ZM150.58 332.52L149.45 332.28L151.83 321.33L152.88 321.56ZM144.29 331.06L143.69 330.91L146.49 320.06L147.05 320.21ZM141.69 330.38L141.1 330.21L144.09 319.42L144.64 319.57ZM140.14 329.94L139.55 329.77L142.65 319.01L143.2 319.17ZM139.11 329.65L138 329.32L141.21 318.59L142.24 318.9ZM131.94 327.37L131.35 327.16L135.05 316.59L135.59 316.78ZM124.39 324.54L123.81 324.3L128.06 313.94L128.59 314.16ZM112.17 318.95L111.62 318.67L116.75 308.72L117.26 308.98ZM111.69 318.71L110.19 317.93L115.42 308.03L116.82 308.75ZM106.02 315.64L105.48 315.33L111.06 305.62L111.56 305.9ZM93.32 307.56L92.82 307.2L99.32 298.08L99.78 298.42ZM89.41 304.71L88.49 304.01L95.31 295.12L96.16 295.77ZM84.76 301.06L84.29 300.66L91.41 292.02L91.85 292.38ZM67.67 284.75L67.25 284.29L75.61 276.83L76 277.26ZM63.8 280.27L63.4 279.8L72.04 272.67L72.41 273.11ZM50.27 261.23L49.4 259.78L59.06 254.1L59.86 255.45ZM49.17 259.38L48.86 258.85L58.56 253.24L58.84 253.74ZM48.9 258.92L48.59 258.38L58.31 252.81L58.59 253.31ZM48.1 257.52L47.8 256.98L57.57 251.51L57.85 252.01ZM46.54 254.69L46 253.67L55.91 248.44L56.41 249.39ZM43.84 249.43L43.57 248.87L53.66 244L53.91 244.51ZM42.46 246.52L41.98 245.47L52.17 240.84L52.62 241.81ZM42.01 245.54L41.54 244.49L51.77 239.93L52.21 240.9ZM41.13 243.58L40.67 242.52L50.97 238.1L51.39 239.08ZM40.29 241.6L39.84 240.53L50.19 236.26L50.61 237.25ZM39.87 240.61L39.23 239.04L49.63 234.88L50.22 236.33ZM37.53 234.6L37.32 234.02L47.86 230.22L48.05 230.76ZM36.29 231.05L35.92 229.95L46.56 226.45L46.9 227.47ZM35.95 230.03L35.75 229.44L46.4 225.98L46.58 226.52ZM35.45 228.49L35.1 227.39L45.8 224.07L46.12 225.1ZM35.13 227.47L34.94 226.88L45.65 223.6L45.82 224.15ZM31.94 215.53L31.8 214.92L42.74 212.51L42.87 213.07ZM31.82 215L31.47 213.35L42.43 211.05L42.76 212.59ZM31.48 213.42L31.36 212.82L42.33 210.56L42.44 211.12ZM31.26 212.37L31.04 211.24L42.03 209.1L42.24 210.15ZM30.29 207.08L30.19 206.47L41.24 204.68L41.34 205.25ZM28.75 194.82L28.62 193.13L39.79 192.31L39.91 193.87ZM28.51 191.6L28.44 190.45L39.63 189.82L39.69 190.89ZM28.39 189.46L28.32 187.77L39.51 187.33L39.58 188.9ZM28.3 187.31L28.28 186.69L39.47 186.34L39.49 186.91ZM28.29 176.56L28.31 175.94L39.5 176.37L39.48 176.94ZM29.09 165.3L29.21 164.15L40.34 165.44L40.22 166.5ZM29.91 158.9L30.17 157.23L41.23 159.02L40.99 160.57ZM30.16 157.31L30.35 156.17L41.39 158.03L41.22 159.09ZM30.61 154.66L30.72 154.05L41.74 156.07L41.63 156.63ZM31.11 152.02L31.44 150.36L42.41 152.65L42.1 154.19ZM31.65 149.39L31.78 148.78L42.72 151.18L42.6 151.74ZM33.55 141.55L33.86 140.44L44.65 143.45L44.36 144.48ZM34.73 137.42L34.91 136.83L45.63 140.1L45.46 140.65ZM36.55 131.79L37.11 130.19L47.66 133.94L47.14 135.43ZM37.44 129.26L37.84 128.17L48.34 132.07L47.97 133.08ZM39.77 123.24L40 122.67L50.35 126.97L50.13 127.5ZM39.97 122.74L40.42 121.68L50.73 126.05L50.32 127.04ZM45.66 110.57L45.95 110.02L55.86 115.24L55.59 115.75ZM47.97 106.32L48.54 105.31L58.26 110.88L57.73 111.81ZM52.97 98.04L53.6 97.07L62.96 103.23L62.37 104.13ZM58.89 89.55L59.58 88.63L68.5 95.4L67.86 96.26ZM63.54 83.64L63.94 83.16L72.54 90.33L72.17 90.78ZM64.23 82.81L64.63 82.34L73.18 89.57L72.81 90.01ZM64.58 82.4L64.98 81.93L73.5 89.19L73.13 89.63ZM72.74 73.48L73.17 73.04L81.1 80.95L80.7 81.36ZM78.16 68.26L79.41 67.12L86.89 75.46L85.73 76.52ZM89.63 58.73L90.12 58.36L96.82 67.34L96.36 67.68ZM90.06 58.41L90.99 57.72L97.62 66.74L96.76 67.38ZM112.05 44.71L113.08 44.18L118.1 54.19L117.15 54.68ZM113 44.22L113.56 43.94L118.55 53.97L118.04 54.23ZM113.49 43.98L115.01 43.23L119.89 53.31L118.48 54ZM115.42 43.03L115.61 42.94L120.45 53.04L120.27 53.13ZM125.13 38.76L126.21 38.34L130.28 48.77L129.28 49.17ZM129.15 37.23L129.73 37.01L133.55 47.54L133.01 47.74ZM136.4 34.77L138.02 34.27L141.24 45L139.73 45.46ZM149.79 31.25L150.39 31.12L152.71 42.08L152.14 42.2ZM152.95 30.6L154.61 30.29L156.62 41.31L155.07 41.6ZM155.59 30.12L156.2 30.01L158.09 41.05L157.53 41.15ZM172.26 28.12L173.42 28.05L174.05 39.23L172.98 39.3ZM173.34 28.06L174.49 27.99L175.05 39.18L173.98 39.24ZM176.56 27.9L177.71 27.87L178.04 39.06L176.97 39.1Z"/>
<path fill="#3f88c4" d="M185.69 27.84L186.31 27.85L186.01 39.05L185.44 39.04ZM191.06 28.06L191.68 28.09L190.99 39.27L190.42 39.24ZM202.83 29.19L203.45 29.27L201.9 40.37L201.33 40.29ZM208.15 30L208.76 30.11L206.83 41.14L206.26 41.04ZM213.96 31.11L214.56 31.24L212.21 42.19L211.65 42.07ZM230.55 35.59L231.14 35.78L227.58 46.4L227.04 46.22ZM235.63 37.37L236.21 37.58L232.28 48.07L231.74 47.87ZM251.4 44.22L251.95 44.5L246.87 54.49L246.36 54.23ZM256.15 46.72L256.7 47.02L251.28 56.82L250.78 56.54ZM256.63 46.98L258.1 47.8L252.58 57.55L251.21 56.78ZM268.09 53.98L268.61 54.32L262.32 63.59L261.85 63.27ZM273.37 57.69L273.87 58.05L267.2 67.05L266.74 66.71ZM273.8 58.01L274.3 58.37L267.6 67.35L267.14 67.01ZM276.38 59.95L276.86 60.33L269.98 69.16L269.53 68.81ZM276.8 60.28L278.13 61.33L271.15 70.09L269.92 69.12ZM285.84 67.9L286.7 68.68L279.1 76.9L278.31 76.18ZM297.18 79.35L297.59 79.82L289.2 87.23L288.82 86.81ZM299.65 82.19L300.05 82.67L291.48 89.88L291.11 89.44ZM300 82.6L300.4 83.08L291.8 90.26L291.43 89.82ZM301.71 84.68L302.77 86L294 92.96L293.02 91.74ZM303.39 86.78L304.1 87.69L295.23 94.53L294.57 93.69ZM304.7 88.48L305.08 88.97L296.14 95.72L295.79 95.26ZM306.31 90.63L306.68 91.13L297.62 97.72L297.29 97.26ZM318.05 109.26L318.34 109.81L308.44 115.05L308.17 114.54ZM320.73 114.53L321 115.09L310.91 119.94L310.66 119.42ZM324.27 122.37L324.71 123.44L314.35 127.68L313.94 126.69ZM325.68 125.86L325.9 126.44L315.45 130.46L315.25 129.93ZM326.07 126.86L326.29 127.44L315.81 131.39L315.6 130.86ZM329.74 137.68L329.92 138.27L319.18 141.43L319.01 140.88ZM329.9 138.19L330.07 138.78L319.32 141.91L319.15 141.36ZM333.84 154.93L333.94 155.53L322.91 157.44L322.81 156.88ZM336.16 178.44L336.18 179.6L324.99 179.76L324.97 178.68ZM336.19 183.82L336.17 184.97L324.97 184.74L324.99 183.67ZM335.87 191.87L335.83 192.49L324.66 191.71L324.69 191.14ZM335.83 192.41L335.71 194.1L324.54 193.2L324.66 191.64ZM334.64 203.63L334.56 204.24L323.48 202.61L323.56 202.04ZM333.98 207.88L333.78 209.02L322.75 207.04L322.94 205.98ZM318.49 253.5L317.95 254.53L308.07 249.24L308.58 248.29ZM317.98 254.45L317.69 255L307.84 249.68L308.11 249.17ZM317.22 255.87L316.92 256.41L307.12 250.99L307.4 250.49ZM311.14 266.01L310.8 266.53L301.44 260.37L301.76 259.89ZM307.18 271.77L306.82 272.28L297.76 265.7L298.09 265.23ZM296.91 284.55L295.78 285.8L287.52 278.24L288.57 277.07ZM295.83 285.74L295.41 286.2L287.18 278.6L287.57 278.18ZM295.47 286.14L294.68 286.98L286.5 279.34L287.23 278.55ZM291.76 290.03L290.56 291.23L282.68 283.27L283.79 282.16ZM289.85 291.92L289.02 292.73L281.25 284.66L282.02 283.91ZM287.91 293.78L287.07 294.58L279.44 286.37L280.23 285.64ZM284.75 296.69L283.48 297.81L276.11 289.38L277.29 288.34ZM276.91 303.24L276.42 303.62L269.57 294.76L270.02 294.4ZM263.69 312.47L263.17 312.8L257.28 303.27L257.77 302.97ZM263.24 312.75L262.71 313.08L256.86 303.53L257.34 303.23ZM246.67 321.65L245.62 322.13L241.01 311.93L241.98 311.48ZM236.26 326L235.68 326.22L231.79 315.71L232.33 315.51ZM234.24 326.74L233.15 327.13L229.44 316.56L230.45 316.2ZM233.23 327.1L232.64 327.3L228.97 316.72L229.52 316.53ZM217.76 331.64L217.16 331.78L214.61 320.87L215.17 320.74ZM217.24 331.76L216.63 331.9L214.13 320.98L214.69 320.86ZM216.71 331.88L216.11 332.02L213.64 321.1L214.2 320.97ZM214.61 332.35L213.48 332.59L211.21 321.62L212.26 321.4ZM208.28 333.58L207.67 333.68L205.82 322.63L206.38 322.54ZM198.7 334.91L197.82 335.01L196.68 323.86L197.5 323.78ZM193.34 335.4L192.19 335.48L191.46 324.3L192.53 324.23ZM177.77 335.74L177.15 335.72L177.52 324.52L178.09 324.54ZM165.43 334.88L164.82 334.82L166.08 323.69L166.65 323.75ZM164.9 334.83L164.29 334.75L165.59 323.63L166.16 323.7ZM164.37 334.76L163.75 334.69L165.09 323.57L165.66 323.64ZM132.95 327.71L131.86 327.34L135.52 316.76L136.53 317.1ZM110.26 317.96L109.71 317.67L114.98 307.79L115.49 308.06ZM88.56 304.06L88.07 303.68L94.91 294.82L95.37 295.17ZM86.44 302.41L85.12 301.35L92.18 292.65L93.4 293.63ZM85.18 301.4L84.7 301.01L91.79 292.34L92.24 292.7ZM77.07 294.34L76.62 293.91L84.3 285.76L84.72 286.15ZM76.29 293.6L75.84 293.17L83.58 285.07L83.99 285.47ZM50.82 262.15L50.22 261.16L59.82 255.39L60.38 256.31ZM45.54 252.79L45.25 252.24L55.21 247.12L55.48 247.63ZM28.8 195.36L28.74 194.74L39.9 193.8L39.95 194.37ZM28.33 175.49L28.38 174.33L39.57 174.87L39.52 175.94ZM28.38 174.41L28.41 173.79L39.59 174.38L39.56 174.95ZM28.4 173.87L28.5 172.18L39.68 172.88L39.59 174.45ZM36.2 132.81L36.4 132.22L47 135.83L46.82 136.37ZM37.81 128.25L38.03 127.67L48.51 131.6L48.31 132.14ZM40.81 120.76L41.06 120.2L51.32 124.68L51.1 125.2ZM46.67 108.67L46.96 108.13L56.8 113.49L56.53 113.99ZM46.93 108.2L47.22 107.66L57.04 113.05L56.76 113.55ZM47.18 107.73L48.01 106.25L57.77 111.74L57 113.11ZM48.76 104.92L49.07 104.38L58.76 110.01L58.47 110.51ZM49.03 104.45L49.35 103.92L59.01 109.58L58.72 110.08ZM52.1 99.4L52.72 98.42L62.14 104.49L61.56 105.39ZM53.56 97.14L53.9 96.62L63.23 102.82L62.92 103.3ZM53.86 96.69L54.2 96.18L63.51 102.4L63.19 102.88ZM60.85 86.99L61.23 86.5L70.03 93.43L69.67 93.88ZM73.88 72.34L74.32 71.9L82.16 79.9L81.76 80.3ZM74.26 71.96L74.7 71.53L82.52 79.55L82.11 79.95ZM76.98 69.36L77.82 68.57L85.41 76.8L84.63 77.53ZM79.35 67.18L79.81 66.76L87.26 75.13L86.83 75.51ZM80.96 65.75L81.84 64.99L89.14 73.49L88.33 74.19ZM98.89 52.28L99.3 52.02L105.33 61.46L104.95 61.7ZM105.43 48.3L106.91 47.46L112.38 57.23L111.02 58.01ZM106.84 47.5L107.37 47.2L112.82 56.99L112.32 57.27ZM114.93 43.27L115.49 43L120.34 53.09L119.82 53.34ZM128.65 37.41L129.23 37.2L133.08 47.71L132.54 47.91ZM135.38 35.09L136.48 34.74L139.81 45.44L138.78 45.76ZM160.9 29.28L162.58 29.06L164.01 40.16L162.45 40.37ZM164.1 28.87L164.71 28.8L165.99 39.92L165.42 39.99ZM164.63 28.81L165.78 28.68L166.98 39.81L165.91 39.93Z"/>
<path d="M182.45 39A142.8 142.8 0 0 1 316.93 134.48L306.27 138.23A131.5 131.5 0 0 0 182.43 50.3Z" fill="#fff488"/>
<path d="M318.28 138.5A142.8 142.8 0 0 1 292.94 271.96L284.18 264.82A131.5 131.5 0 0 0 307.51 141.93Z" fill="#fff488"/>
<path d="M290.22 275.2A142.8 142.8 0 0 1 196.75 323.86L195.6 312.62A131.5 131.5 0 0 0 281.67 267.81Z" fill="#fff488"/>
<path d="M192.53 324.23A142.8 142.8 0 0 1 123.78 312.1L128.4 301.79A131.5 131.5 0 0 0 191.72 312.96Z" fill="#fff488"/>
<path d="M119.94 310.31A142.8 142.8 0 0 1 68.99 268.83L77.94 261.94A131.5 131.5 0 0 0 124.86 300.14Z" fill="#fff488"/>
<path d="M66.45 265.43A142.8 142.8 0 0 1 43.86 217.19L54.8 214.39A131.5 131.5 0 0 0 75.61 258.81Z" fill="#fff488"/>
<path d="M42.87 213.07A142.8 142.8 0 0 1 40.42 164.77L51.64 166.12A131.5 131.5 0 0 0 53.89 210.6Z" fill="#fff488"/>
<path d="M40.99 160.57A142.8 142.8 0 0 1 53.69 119.54L63.86 124.46A131.5 131.5 0 0 0 52.16 162.25Z" fill="#fff488"/>
<path d="M55.59 115.75A142.8 142.8 0 0 1 63.95 101.74L73.31 108.08A131.5 131.5 0 0 0 65.61 120.98Z" fill="#fff488"/>
<path d="M66.38 98.27A142.8 142.8 0 0 1 76.08 86.25L84.48 93.81A131.5 131.5 0 0 0 75.55 104.88Z" fill="#fff488"/>
<path d="M78.96 83.14A142.8 142.8 0 0 1 90.31 72.49L97.59 81.14A131.5 131.5 0 0 0 87.13 90.95Z" fill="#fff488"/>
<path d="M93.6 69.81A142.8 142.8 0 0 1 105.26 61.5L111.35 71.02A131.5 131.5 0 0 0 100.61 78.67Z" fill="#fff488"/>
<path d="M108.87 59.27A142.8 142.8 0 0 1 120.39 53.07L125.28 63.26A131.5 131.5 0 0 0 114.67 68.96Z" fill="#fff488"/>
<path d="M124.23 51.3A142.8 142.8 0 0 1 134.77 47.11L138.52 57.77A131.5 131.5 0 0 0 128.82 61.62Z" fill="#fff488"/>
<path d="M138.78 45.76A142.8 142.8 0 0 1 147.05 43.39L149.83 54.35A131.5 131.5 0 0 0 142.22 56.53Z" fill="#fff488"/>
<path d="M151.17 42.41A142.8 142.8 0 0 1 158.26 41.02L160.16 52.16A131.5 131.5 0 0 0 153.63 53.44Z" fill="#fff488"/>
<path d="M162.45 40.37A142.8 142.8 0 0 1 168.76 39.63L169.82 50.88A131.5 131.5 0 0 0 164.01 51.56Z" fill="#fff488"/>
<path d="M172.98 39.3A142.8 142.8 0 0 1 178.21 39.06L178.53 50.35A131.5 131.5 0 0 0 173.71 50.57Z" fill="#fff488"/>
<path fill="#ffffff" d="M188.93 39.16L189.5 39.19L188.92 50.47L188.39 50.45ZM190.42 39.24L191.49 39.3L190.75 50.58L189.77 50.52ZM197.37 39.81L197.94 39.87L196.7 51.1L196.17 51.04ZM214.08 42.6L214.64 42.73L212.07 53.74L211.56 53.62ZM216.02 43.06L216.58 43.2L213.86 54.17L213.34 54.04ZM217.95 43.55L218.51 43.69L215.64 54.62L215.12 54.49ZM222.28 44.74L223.31 45.04L220.05 55.87L219.11 55.59ZM227.51 46.38L228.05 46.56L224.43 57.26L223.93 57.1ZM227.98 46.54L229.47 47.05L225.73 57.71L224.36 57.24ZM238.68 50.65L239.67 51.07L235.12 61.42L234.21 61.02ZM242.32 52.27L242.84 52.52L238.04 62.75L237.57 62.52ZM245.02 53.56L245.54 53.81L240.53 63.94L240.05 63.71ZM247.25 54.68L247.76 54.94L242.57 64.98L242.1 64.74ZM248.58 55.37L249.53 55.87L244.2 65.83L243.33 65.37ZM254.25 58.51L254.74 58.8L249 68.53L248.55 68.26ZM255.11 59.01L255.6 59.31L249.79 69L249.34 68.73ZM255.96 59.53L256.45 59.82L250.58 69.47L250.12 69.2ZM258.08 60.83L258.57 61.14L252.53 70.68L252.08 70.4ZM261.02 62.72L261.49 63.04L255.22 72.44L254.78 72.14ZM262.67 63.83L263.14 64.16L256.74 73.47L256.3 73.17ZM271.87 70.67L272.7 71.34L265.54 80.08L264.78 79.46ZM277.57 75.51L277.99 75.9L270.41 84.28L270.02 83.92ZM277.94 75.85L278.73 76.57L271.09 84.89L270.36 84.23ZM278.67 76.52L279.46 77.24L271.77 85.52L271.04 84.85ZM294.57 93.69L295.54 94.93L286.57 101.8L285.68 100.66ZM297.58 97.66L297.92 98.13L288.76 104.75L288.45 104.32ZM298.46 98.88L298.79 99.34L289.56 105.87L289.26 105.44ZM298.74 99.28L299.07 99.75L289.83 106.24L289.52 105.81ZM305.24 109.32L305.78 110.25L296 115.91L295.5 115.06ZM311.93 122.13L312.38 123.1L302.08 127.75L301.67 126.85ZM312.35 123.04L312.79 124.01L302.45 128.59L302.05 127.69ZM313.55 125.77L313.97 126.76L303.54 131.12L303.16 130.21ZM314.32 127.61L314.72 128.61L304.24 132.82L303.87 131.9ZM316.64 133.66L316.96 134.56L306.29 138.29L306 137.47ZM318.43 138.98L318.6 139.53L307.81 142.87L307.65 142.37ZM318.87 140.41L319.03 140.96L308.21 144.19L308.05 143.68ZM319.43 142.32L319.86 143.83L308.97 146.84L308.57 145.44ZM321.31 149.56L321.66 151.09L310.62 153.52L310.3 152.11ZM321.85 151.99L322.07 153.04L311 155.31L310.8 154.35ZM323.38 160.32L323.46 160.89L312.28 162.54L312.2 162.02ZM323.92 164.27L323.99 164.84L312.77 166.18L312.71 165.66ZM324.04 165.26L324.21 166.82L312.97 168.01L312.82 166.57ZM324.45 169.23L324.5 169.8L313.23 170.75L313.19 170.22ZM324.94 177.69L324.97 178.76L313.67 179L313.65 178.01ZM324.97 178.68L324.99 179.76L313.69 179.92L313.67 178.93ZM325 182.17L324.99 183.25L313.69 183.13L313.7 182.14ZM324.76 190.14L324.69 191.21L313.41 190.47L313.48 189.48ZM324.63 192.13L324.54 193.2L313.28 192.3L313.36 191.32ZM324.47 194.12L324.42 194.69L313.16 193.67L313.21 193.15ZM323.63 201.55L323.55 202.12L312.36 200.51L312.44 199.99ZM323.1 205L323.01 205.57L311.87 203.68L311.95 203.16ZM323.02 205.49L322.92 206.06L311.79 204.14L311.88 203.62ZM322.85 206.47L322.66 207.53L311.55 205.49L311.72 204.52ZM319.77 220.08L319.62 220.63L308.74 217.56L308.89 217.05ZM319.64 220.56L319.2 222.07L308.36 218.88L308.76 217.49ZM315.56 232.86L315.35 233.39L304.82 229.31L305.01 228.82ZM313.7 237.48L313.08 238.92L302.72 234.4L303.29 233.08ZM313.11 238.86L312.67 239.84L302.35 235.24L302.75 234.34ZM309.49 246.52L309.23 247.03L299.18 241.87L299.42 241.4ZM308.11 249.17L307.84 249.68L297.9 244.3L298.15 243.84ZM307.87 249.61L307.6 250.11L297.68 244.71L297.93 244.24ZM304.15 256.09L303.85 256.58L294.23 250.67L294.5 250.21ZM299.81 262.79L299.49 263.26L290.21 256.81L290.51 256.38ZM288.9 276.7L287.85 277.87L279.49 270.27L280.46 269.19ZM285.18 280.73L284.78 281.14L276.67 273.28L277.03 272.9ZM278.77 287L278.34 287.39L270.74 279.03L271.12 278.67ZM270.8 293.79L269.96 294.45L263.01 285.54L263.79 284.93ZM270.02 294.4L269.57 294.76L262.65 285.82L263.07 285.49ZM269.23 295.01L268.77 295.36L261.92 286.38L262.34 286.06ZM245.14 309.98L244.62 310.24L239.68 300.07L240.16 299.84ZM244.69 310.2L243.27 310.88L238.44 300.67L239.74 300.04ZM242.44 311.27L241.01 311.93L236.36 301.63L237.67 301.03ZM238.8 312.9L238.27 313.13L233.83 302.74L234.32 302.53ZM234.65 314.62L233.19 315.19L229.15 304.63L230.5 304.11ZM228.57 316.86L228.03 317.05L224.4 306.34L224.9 306.17ZM225.73 317.8L225.19 317.98L221.79 307.2L222.29 307.04ZM223.35 318.54L221.85 318.99L218.71 308.13L220.1 307.72ZM217.11 320.27L216.55 320.41L213.83 309.44L214.35 309.31ZM216.14 320.51L214.61 320.87L212.05 309.87L213.46 309.53ZM210.3 321.81L208.76 322.11L206.66 311.01L208.08 310.73ZM200.47 323.43L198.91 323.62L197.59 312.4L199.02 312.22ZM192.53 324.23L190.97 324.33L190.27 313.05L191.72 312.96ZM180.58 324.59L180.01 324.58L180.18 313.28L180.71 313.29ZM179.08 324.57L178.51 324.55L178.8 313.26L179.33 313.27ZM178.59 324.55L178.01 324.54L178.34 313.24L178.87 313.26ZM174.6 324.4L174.03 324.37L174.68 313.08L175.2 313.11ZM167.65 323.86L167.08 323.8L168.27 312.56L168.8 312.62ZM164.18 323.46L163.61 323.38L165.08 312.18L165.6 312.25ZM162.7 323.26L162.13 323.18L163.72 311.99L164.24 312.07ZM158.26 322.58L157.7 322.48L159.64 311.35L160.16 311.44ZM146.08 319.96L145.53 319.81L148.43 308.89L148.94 309.02ZM140.33 318.32L139.78 318.15L143.14 307.36L143.64 307.52ZM137.48 317.42L136.94 317.24L140.52 306.52L141.02 306.69ZM135.12 316.62L133.64 316.09L137.48 305.46L138.85 305.95ZM128.59 314.16L128.06 313.94L132.34 303.48L132.83 303.68ZM127.67 313.78L127.14 313.56L131.5 303.13L131.98 303.33ZM125.83 313L124.39 312.38L128.97 302.04L130.29 302.62ZM124.46 312.41L123.94 312.17L128.55 301.86L129.03 302.07ZM118.15 309.43L117.19 308.95L122.34 298.88L123.22 299.33ZM116.82 308.75L115.42 308.03L120.71 298.04L121.99 298.71ZM96.96 296.37L96.5 296.02L103.28 286.99L103.7 287.3ZM93.79 293.94L93.34 293.59L100.38 284.74L100.79 285.07ZM93.4 293.63L92.18 292.65L99.3 283.88L100.43 284.78ZM91.08 291.75L89.88 290.74L97.18 282.12L98.29 283.05ZM88.8 289.82L88.36 289.44L95.79 280.92L96.19 281.27ZM88.05 289.16L87.62 288.78L95.1 280.32L95.5 280.67ZM84.36 285.81L83.22 284.73L91.05 276.58L92.1 277.58ZM81.49 283.04L81.08 282.63L89.09 274.65L89.46 275.03ZM77.68 279.1L76.95 278.31L85.28 270.67L85.95 271.4ZM77 278.37L76.28 277.57L84.66 270L85.33 270.72ZM75 276.14L74.62 275.71L83.14 268.28L83.48 268.68ZM66.45 265.43L66.12 264.97L75.3 258.39L75.61 258.81ZM66.16 265.03L65.25 263.75L74.51 257.26L75.34 258.44ZM55.94 248.51L55.67 248L65.69 242.76L65.93 243.23ZM55.71 248.07L55.44 247.56L65.47 242.36L65.72 242.83ZM52.83 242.26L52.59 241.74L62.85 237L63.07 237.48ZM52.62 241.81L52.17 240.84L62.46 236.17L62.88 237.06ZM48.93 233.09L48.72 232.56L59.29 228.54L59.48 229.03ZM46.27 225.57L46.1 225.03L56.87 221.61L57.03 222.11ZM45.53 223.19L45.22 222.17L56.06 218.97L56.35 219.92ZM44.17 218.4L43.9 217.36L54.84 214.55L55.09 215.5ZM42.24 210.15L42.13 209.59L53.21 207.39L53.32 207.9ZM42.05 209.17L41.94 208.61L53.04 206.49L53.14 207ZM40.67 200.81L40.6 200.24L51.8 198.78L51.87 199.31ZM40.61 200.32L40.53 199.75L51.74 198.33L51.81 198.85ZM40.54 199.82L40.47 199.25L51.69 197.87L51.75 198.4ZM39.47 186.41L39.46 185.84L50.75 185.52L50.77 186.05ZM39.41 183.42L39.4 182.35L50.7 182.3L50.71 183.29ZM39.43 178.93L39.47 177.36L50.76 177.72L50.73 179.16ZM39.52 175.94L39.54 175.37L50.83 175.88L50.81 176.41ZM40.22 166.5L40.34 165.44L51.57 166.73L51.46 167.71ZM40.99 160.57L41.07 160L52.24 161.73L52.16 162.25ZM41.81 155.65L41.92 155.09L53.02 157.2L52.92 157.72ZM41.91 155.16L42.01 154.6L53.11 156.75L53.01 157.27ZM42 154.67L42.31 153.13L53.38 155.4L53.09 156.82ZM42.6 151.74L42.72 151.18L53.76 153.61L53.65 154.12ZM44.23 144.96L44.51 143.93L55.41 146.92L55.15 147.88ZM51.29 124.74L51.73 123.76L62.05 128.36L61.65 129.26ZM52.31 122.47L52.55 121.95L62.81 126.68L62.59 127.16ZM58.72 110.08L59.01 109.58L68.76 115.3L68.49 115.75ZM62.37 104.13L62.68 103.65L72.14 109.83L71.85 110.28ZM67.86 96.26L68.5 95.4L77.5 102.24L76.9 103.03ZM72.49 90.39L73.18 89.57L81.81 96.87L81.17 97.63ZM73.13 89.63L73.82 88.81L82.4 96.17L81.76 96.92ZM80.35 81.71L81.1 80.95L89.1 88.93L88.41 89.63ZM84.99 77.19L85.41 76.8L93.07 85.11L92.69 85.47ZM93.6 69.81L94.05 69.46L101.02 78.35L100.61 78.67ZM93.99 69.5L94.44 69.15L101.39 78.06L100.97 78.39ZM104.53 61.97L105.01 61.66L111.12 71.17L110.68 71.45ZM104.95 61.7L105.33 61.46L111.41 70.98L111.06 71.2ZM109.72 58.76L110.22 58.47L115.91 68.23L115.46 68.5ZM113.62 56.54L114.57 56.03L119.92 65.98L119.05 66.46ZM116.26 55.13L116.77 54.87L121.95 64.92L121.48 65.16ZM116.7 54.91L117.66 54.42L122.77 64.5L121.89 64.95ZM117.59 54.45L118.1 54.19L123.18 64.29L122.7 64.53ZM118.04 54.23L118.55 53.97L123.59 64.09L123.11 64.32ZM120.27 53.13L120.45 53.04L125.34 63.23L125.17 63.31ZM143.56 44.33L144.59 44.04L147.57 54.94L146.62 55.21ZM144.52 44.06L146.04 43.66L148.9 54.59L147.5 54.96ZM153.61 41.89L154.17 41.78L156.39 52.86L155.87 52.96ZM168.39 39.67L168.84 39.63L169.89 50.88L169.48 50.92ZM174.48 39.21L175.05 39.18L175.62 50.46L175.09 50.49Z"/>
<path fill="#fffce0" d="M185.44 39.04L186.01 39.05L185.71 50.35L185.18 50.33ZM188.43 39.14L189 39.16L188.46 50.45L187.94 50.43ZM201.83 40.36L203.38 40.58L201.71 51.75L200.27 51.55ZM213.11 42.38L214.15 42.62L211.62 53.63L210.66 53.42ZM217.47 43.42L218.03 43.57L215.19 54.51L214.68 54.37ZM218.44 43.67L218.99 43.82L216.08 54.74L215.57 54.6ZM226.56 46.07L227.58 46.4L223.99 57.12L223.05 56.81ZM230.81 47.53L231.34 47.72L227.46 58.33L226.96 58.15ZM232.21 48.04L232.75 48.25L228.75 58.81L228.25 58.63ZM237.31 50.06L238.75 50.68L234.28 61.05L232.95 60.49ZM242.78 52.48L243.29 52.73L238.46 62.94L237.98 62.72ZM246.36 54.23L247.32 54.71L242.17 64.77L241.29 64.32ZM249.46 55.83L249.97 56.1L244.6 66.05L244.14 65.8ZM249.9 56.07L250.4 56.34L245.01 66.27L244.54 66.02ZM250.78 56.54L251.28 56.82L245.81 66.71L245.35 66.46ZM258.51 61.1L259.83 61.94L253.69 71.43L252.47 70.65ZM264.31 64.97L264.78 65.3L258.24 74.52L257.81 74.21ZM279.41 77.19L280.55 78.27L272.77 86.46L271.71 85.47ZM293.02 91.74L293.69 92.57L284.87 99.63L284.25 98.87ZM302.37 104.65L303.21 105.98L293.63 111.98L292.86 110.76ZM303.7 106.76L304 107.25L294.36 113.15L294.08 112.7ZM307.46 113.22L307.73 113.73L297.8 119.11L297.54 118.65ZM311.52 121.22L311.76 121.74L301.51 126.5L301.28 126.02ZM313.35 125.32L313.58 125.84L303.18 130.27L302.98 129.79ZM315.43 130.39L315.81 131.39L305.24 135.38L304.88 134.46ZM321.2 149.07L321.33 149.63L310.32 152.17L310.2 151.66ZM323.14 158.85L323.39 160.4L312.21 162.09L311.99 160.66ZM324.49 169.73L324.54 170.3L313.27 171.21L313.23 170.68ZM324.9 187.16L324.86 188.23L313.57 187.72L313.61 186.73ZM324.69 191.14L324.62 192.21L313.35 191.39L313.42 190.4ZM324.55 193.13L324.46 194.2L313.2 193.22L313.29 192.23ZM324.28 196.11L324.22 196.68L312.98 195.5L313.04 194.97ZM321.26 214.29L321.12 214.85L310.13 212.23L310.25 211.72ZM320.91 215.74L320.77 216.3L309.8 213.57L309.93 213.06ZM316.43 230.52L316.06 231.53L305.47 227.59L305.81 226.67ZM312.7 239.77L312.47 240.29L302.16 235.66L302.38 235.18ZM312.5 240.22L312.27 240.75L301.97 236.08L302.19 235.6ZM310.6 244.29L310.35 244.8L300.21 239.82L300.44 239.34ZM310.16 245.18L309.68 246.14L299.6 241.05L300.04 240.17ZM308.34 248.73L308.07 249.24L298.11 243.9L298.36 243.43ZM307.16 250.92L306.88 251.42L297.01 245.91L297.27 245.45ZM301.21 260.72L300.61 261.61L291.24 255.3L291.79 254.48ZM296.92 266.84L296.57 267.3L287.52 260.53L287.84 260.11ZM289.56 275.95L289.18 276.38L280.72 268.9L281.07 268.5ZM289.23 276.33L288.85 276.76L280.41 269.24L280.76 268.85ZM287.57 278.18L286.84 278.97L278.56 271.28L279.23 270.56ZM282.02 283.91L280.89 285.01L273.08 276.84L274.12 275.83ZM279.86 285.98L279.08 286.71L271.41 278.41L272.13 277.74ZM277.66 288L276.49 289.05L269.02 280.56L270.11 279.6ZM264.41 298.56L263.53 299.17L257.1 289.89L257.91 289.32ZM247.36 308.87L246.85 309.13L241.74 299.05L242.21 298.81ZM231.86 315.69L231.32 315.89L227.43 305.28L227.93 305.09ZM210.79 321.71L210.23 321.82L208.01 310.74L208.53 310.64ZM175.1 324.42L174.53 324.39L175.13 313.11L175.66 313.14ZM163.68 323.39L162.62 323.25L164.17 312.06L165.15 312.19ZM161.71 323.12L161.14 323.04L162.81 311.86L163.33 311.94ZM160.23 322.9L159.66 322.81L161.45 311.65L161.97 311.73ZM152.39 321.45L151.83 321.33L154.23 310.29L154.75 310.4ZM151.41 321.24L150.85 321.12L153.34 310.09L153.85 310.21ZM139.38 318.03L138.83 317.86L142.26 307.09L142.77 307.25ZM138.43 317.73L137.88 317.55L141.39 306.81L141.89 306.97ZM133.24 315.95L132.7 315.75L136.62 305.15L137.12 305.33ZM111.99 306.15L111.49 305.87L117.09 296.05L117.55 296.31ZM110.69 305.41L109.34 304.61L115.1 294.89L116.35 295.62ZM106.42 302.84L105.1 301.99L111.2 292.48L112.42 293.26ZM103.49 300.95L103.01 300.63L109.28 291.23L109.72 291.52ZM98.16 297.25L96.9 296.32L103.65 287.26L104.81 288.12ZM89.93 290.79L89.5 290.42L96.83 281.82L97.23 282.17ZM85.82 287.17L84.66 286.1L92.38 277.85L93.44 278.83ZM83.27 284.78L82.86 284.38L90.72 276.27L91.1 276.63ZM72.73 273.49L72.36 273.05L81.05 265.83L81.39 266.24ZM72.41 273.11L71.73 272.29L80.47 265.13L81.1 265.89ZM70.21 270.4L69.86 269.95L78.75 262.98L79.07 263.39ZM65.3 263.81L64.97 263.34L74.25 256.89L74.55 257.32ZM65.01 263.4L64.68 262.93L73.98 256.51L74.28 256.94ZM64.73 262.99L64.4 262.52L73.72 256.13L74.02 256.57ZM59.86 255.45L59.57 254.96L69.27 249.17L69.54 249.63ZM59.6 255.03L59.31 254.53L69.04 248.78L69.31 249.23ZM53.04 242.71L52.8 242.2L63.04 237.42L63.26 237.89ZM51 238.17L50.77 237.64L61.17 233.22L61.38 233.71ZM50.41 236.79L50.19 236.26L60.64 231.95L60.84 232.44ZM49.66 234.95L49.45 234.41L59.95 230.25L60.15 230.74ZM48.23 231.23L48.03 230.69L58.65 226.82L58.83 227.31ZM46.12 225.1L45.65 223.6L56.46 220.29L56.89 221.67ZM45.1 221.76L44.81 220.73L55.68 217.65L55.95 218.6ZM42.65 212.1L42.53 211.54L53.58 209.19L53.69 209.7ZM41.26 204.75L41.09 203.7L52.25 201.96L52.41 202.94ZM39.95 194.37L39.9 193.8L51.17 192.85L51.21 193.38ZM39.72 191.39L39.68 190.82L50.96 190.1L51 190.63ZM39.66 190.39L39.63 189.82L50.91 189.19L50.94 189.71ZM39.51 187.41L39.49 186.83L50.78 186.44L50.8 186.96ZM39.46 185.91L39.43 184.84L50.73 184.6L50.75 185.59ZM39.4 180.93L39.41 180.35L50.71 180.47L50.7 181ZM39.41 180.43L39.41 179.86L50.71 180.01L50.71 180.54ZM39.62 173.95L39.65 173.38L50.93 174.05L50.9 174.57ZM39.71 172.46L39.78 171.39L51.05 172.21L50.98 173.2ZM41.55 157.13L41.65 156.56L52.77 158.56L52.68 159.08ZM41.63 156.63L41.83 155.58L52.94 157.66L52.76 158.63ZM42.29 153.21L42.41 152.65L53.47 154.95L53.36 155.47ZM42.39 152.72L42.61 151.67L53.66 154.06L53.46 155.02ZM42.92 150.28L43.28 148.75L54.27 151.37L53.94 152.78ZM43.37 148.34L43.63 147.3L54.6 150.03L54.36 150.99ZM44.49 144L44.65 143.45L55.53 146.48L55.39 146.99ZM44.9 142.56L45.2 141.53L56.04 144.72L55.76 145.66ZM46.66 136.84L47 135.83L57.7 139.47L57.39 140.4ZM46.98 135.9L47.16 135.36L57.85 139.03L57.68 139.53ZM47.97 133.08L48.34 132.07L58.93 136.01L58.59 136.93ZM48.49 131.67L48.69 131.14L59.25 135.15L59.07 135.64ZM49.2 129.81L49.59 128.81L60.09 133.01L59.72 133.93ZM50.13 127.5L50.35 126.97L60.78 131.31L60.58 131.8ZM50.9 125.66L51.32 124.68L61.68 129.2L61.29 130.1ZM52.52 122.02L52.76 121.5L63 126.27L62.78 126.75ZM52.94 121.11L53.4 120.14L63.59 125.02L63.17 125.91ZM53.36 120.21L53.72 119.47L63.89 124.4L63.56 125.08ZM82.47 79.6L82.88 79.2L90.74 87.32L90.36 87.69ZM89.08 73.54L89.9 72.84L97.2 81.46L96.45 82.11ZM110.15 58.51L110.65 58.22L116.31 68L115.85 68.26ZM111.02 58.01L111.95 57.48L117.51 67.31L116.65 67.8ZM115.82 55.37L116.33 55.1L121.54 65.13L121.07 65.37ZM165.42 39.99L165.99 39.92L167.27 51.15L166.74 51.21ZM175.47 39.16L177.04 39.09L177.45 50.39L176.01 50.45Z"/>
<path fill="#fff8b4" d="M195.89 39.66L196.95 39.76L195.79 51L194.8 50.91ZM196.88 39.76L197.45 39.82L196.24 51.05L195.72 51ZM216.5 43.18L217.06 43.32L214.3 54.28L213.79 54.15ZM223.24 45.02L224.26 45.33L220.93 56.13L219.99 55.85ZM229.4 47.03L229.94 47.22L226.16 57.87L225.66 57.69ZM234.07 48.75L235.07 49.15L230.89 59.64L229.97 59.28ZM243.23 52.7L243.74 52.94L238.87 63.14L238.4 62.91ZM245.47 53.78L246.43 54.26L241.35 64.35L240.46 63.91ZM251.21 56.78L251.71 57.06L246.21 66.93L245.75 66.68ZM254.68 58.76L255.17 59.05L249.4 68.76L248.94 68.5ZM260.18 62.17L260.66 62.49L254.45 71.93L254.01 71.64ZM270.7 69.73L271.15 70.09L264.11 78.93L263.7 78.6ZM277.19 75.18L277.62 75.56L270.07 83.97L269.68 83.62ZM292.07 90.58L292.44 91.03L283.71 98.21L283.38 97.8ZM292.39 90.97L293.07 91.8L284.29 98.92L283.67 98.16ZM297.87 98.07L298.5 98.94L289.3 105.49L288.72 104.69ZM300.45 101.74L300.77 102.22L291.39 108.51L291.09 108.08ZM301.83 103.82L302.14 104.3L292.65 110.43L292.36 109.99ZM303.43 106.34L303.74 106.83L294.12 112.76L293.84 112.31ZM306.49 111.48L307.01 112.42L297.13 117.91L296.65 117.05ZM309.55 117.19L310.03 118.15L299.91 123.19L299.47 122.3ZM310 118.08L310.47 119.04L300.32 124.01L299.88 123.12ZM318.58 139.45L318.75 140L307.94 143.31L307.79 142.8ZM320.61 146.65L320.87 147.69L309.89 150.39L309.65 149.43ZM320.85 147.62L321.22 149.14L310.22 151.73L309.88 150.32ZM322.35 154.43L322.46 154.99L311.36 157.11L311.26 156.6ZM323.98 164.77L324.05 165.34L312.82 166.64L312.76 166.12ZM324.53 170.22L324.61 171.29L313.34 172.12L313.27 171.14ZM324.78 189.65L324.75 190.22L313.47 189.55L313.5 189.03ZM324.42 194.62L324.27 196.18L313.03 195.04L313.17 193.6ZM323.18 204.51L323.09 205.07L311.94 203.23L312.03 202.71ZM321.8 211.86L321.68 212.42L310.64 209.99L310.75 209.48ZM321.14 214.77L321.01 215.33L310.02 212.68L310.15 212.16ZM321.03 215.26L320.89 215.81L309.92 213.12L310.04 212.61ZM319.23 222L319.06 222.55L308.23 219.32L308.38 218.82ZM319.08 222.48L318.92 223.03L308.1 219.76L308.25 219.26ZM318.94 222.95L318.77 223.5L307.97 220.2L308.12 219.7ZM315.38 233.32L315.17 233.86L304.65 229.74L304.84 229.25ZM314.65 235.18L314.05 236.63L303.62 232.29L304.17 230.95ZM310.38 244.74L310.13 245.25L300.01 240.23L300.24 239.76ZM308.58 248.29L308.31 248.8L298.33 243.49L298.58 243.03ZM297.8 265.63L297.46 266.1L288.34 259.43L288.65 259ZM297.51 266.04L296.87 266.9L287.8 260.17L288.38 259.37ZM278.4 287.34L277.97 287.72L270.4 279.34L270.79 278.98ZM276.54 289L275.36 290.03L267.99 281.46L269.08 280.52ZM261.12 300.81L260.23 301.4L254.05 291.93L254.88 291.39ZM255.21 304.52L253.86 305.32L248.19 295.54L249.44 294.81ZM250.01 307.47L249.06 307.98L243.77 297.99L244.64 297.53ZM241.08 311.9L240.56 312.13L235.94 301.82L236.42 301.6ZM240.62 312.1L239.64 312.54L235.1 302.19L236 301.79ZM239.71 312.51L238.73 312.93L234.26 302.56L235.16 302.16ZM238.34 313.1L237.81 313.33L233.41 302.92L233.9 302.71ZM236.04 314.06L234.58 314.65L230.44 304.13L231.78 303.6ZM224.31 318.25L223.28 318.56L220.03 307.74L220.98 307.45ZM221.44 319.1L220.89 319.26L217.83 308.38L218.34 308.24ZM220 319.51L218.97 319.79L216.06 308.87L217.01 308.61ZM217.59 320.14L217.04 320.29L214.28 309.33L214.79 309.2ZM189.55 324.41L188.98 324.44L188.44 313.15L188.97 313.13ZM167.15 323.8L166.08 323.69L167.36 312.46L168.34 312.57ZM161.22 323.05L160.16 322.89L161.9 311.72L162.88 311.87ZM159.74 322.82L158.19 322.57L160.09 311.43L161.52 311.66ZM155.32 322.05L154.76 321.94L156.93 310.85L157.45 310.95ZM151.9 321.35L151.34 321.23L153.78 310.19L154.3 310.31ZM145.6 319.83L145.05 319.68L147.99 308.77L148.5 308.91ZM145.12 319.7L144.57 319.55L147.54 308.65L148.05 308.79ZM141.28 318.61L140.74 318.45L144.02 307.63L144.52 307.79ZM140.81 318.47L140.26 318.3L143.58 307.5L144.08 307.65ZM133.71 316.12L133.17 315.92L137.05 305.31L137.55 305.49ZM132.77 315.77L131.77 315.4L135.76 304.83L136.69 305.17ZM128.13 313.97L127.6 313.75L131.92 303.31L132.41 303.51ZM126.29 313.2L125.76 312.97L130.23 302.59L130.71 302.8ZM112.86 306.64L112.36 306.36L117.89 296.5L118.35 296.76ZM112.42 306.39L111.93 306.11L117.49 296.27L117.95 296.53ZM111.56 305.9L110.63 305.37L116.29 295.59L117.15 296.08ZM107.27 303.36L106.36 302.8L112.36 293.22L113.2 293.74ZM101.42 299.56L100.95 299.23L107.38 289.94L107.81 290.24ZM94.58 294.56L93.73 293.9L100.74 285.03L101.51 285.64ZM81.84 283.39L81.44 282.99L89.41 274.98L89.79 275.35ZM70.52 270.79L70.16 270.34L79.03 263.34L79.36 263.75ZM69.29 269.22L68.94 268.77L77.9 261.89L78.22 262.31ZM63.05 260.51L62.46 259.62L71.94 253.46L72.48 254.28ZM61.7 258.42L61.13 257.51L70.71 251.52L71.23 252.36ZM58.59 253.31L58.31 252.81L68.11 247.19L68.38 247.65ZM58.35 252.88L57.82 251.94L67.66 246.39L68.15 247.25ZM52.21 240.9L51.97 240.38L62.28 235.75L62.49 236.23ZM50.22 236.33L49.82 235.34L60.29 231.1L60.67 232.02ZM49.47 234.48L48.9 233.02L59.45 228.97L59.98 230.32ZM48.75 232.63L48.37 231.62L58.96 227.68L59.31 228.6ZM45.25 222.24L45.08 221.69L55.93 218.53L56.08 219.04ZM44.83 220.8L44.67 220.25L55.56 217.21L55.7 217.72ZM41.1 203.77L41.01 203.2L52.19 201.51L52.27 202.03ZM40.25 197.35L40.19 196.78L51.43 195.59L51.48 196.12ZM40.05 195.36L39.95 194.3L51.2 193.31L51.29 194.29ZM39.91 193.87L39.82 192.81L51.09 191.93L51.17 192.92ZM39.69 190.89L39.65 190.32L50.93 189.64L50.97 190.17ZM39.63 189.9L39.55 188.33L50.84 187.81L50.91 189.26ZM39.4 182.42L39.4 181.35L50.7 181.39L50.7 182.37ZM39.41 179.93L39.42 179.36L50.72 179.55L50.71 180.08ZM39.47 177.44L39.5 176.37L50.8 176.8L50.76 177.78ZM39.5 176.44L39.52 175.87L50.81 176.34L50.79 176.87ZM39.64 173.46L39.71 172.39L50.99 173.13L50.92 174.12ZM40.33 165.51L40.43 164.69L51.65 166.05L51.56 166.8ZM42.81 150.77L42.94 150.21L53.96 152.71L53.84 153.23ZM44.63 143.52L44.92 142.49L55.78 145.6L55.51 146.55ZM45.46 140.65L45.77 139.62L56.57 142.96L56.28 143.9ZM49.75 128.42L49.97 127.89L60.43 132.16L60.23 132.65ZM49.94 127.96L50.16 127.43L60.6 131.73L60.4 132.22ZM51.9 123.38L52.34 122.4L62.62 127.1L62.21 128ZM56.06 114.87L56.8 113.49L66.72 118.89L66.04 120.17ZM68.46 95.46L69.11 94.61L78.06 101.51L77.46 102.3ZM82.11 79.95L82.52 79.55L90.41 87.64L90.03 88.01ZM96.76 67.38L98.02 66.45L104.68 75.58L103.52 76.44ZM97.96 66.49L99.24 65.57L105.8 74.77L104.63 75.62ZM99.58 65.33L100.05 65L106.55 74.24L106.12 74.54ZM124.23 51.3L124.76 51.06L129.3 61.41L128.82 61.62ZM142.12 44.74L143.63 44.31L146.68 55.19L145.29 55.59ZM177.96 39.06L178.29 39.05L178.6 50.35L178.3 50.36Z"/>
<path fill="#fff05a" d="M182.95 39L184.02 39.01L183.88 50.31L182.89 50.3ZM185.94 39.05L186.51 39.07L186.17 50.36L185.64 50.35ZM186.44 39.06L187.51 39.1L187.09 50.39L186.1 50.36ZM189.42 39.18L190.49 39.24L189.84 50.52L188.85 50.47ZM191.42 39.3L191.99 39.34L191.21 50.61L190.69 50.57ZM193.9 39.48L194.97 39.57L193.96 50.83L192.97 50.74ZM197.87 39.86L198.44 39.93L197.15 51.15L196.63 51.09ZM199.36 40.03L199.92 40.1L198.52 51.32L198 51.25ZM204.78 40.8L205.84 40.97L203.97 52.11L203 51.96ZM207.24 41.21L207.81 41.31L205.78 52.43L205.26 52.34ZM208.22 41.39L209.77 41.69L207.58 52.77L206.16 52.5ZM211.65 42.07L212.69 42.29L210.28 53.33L209.32 53.13ZM215.54 42.95L216.09 43.08L213.41 54.06L212.9 53.93ZM224.19 45.31L224.74 45.48L221.37 56.27L220.87 56.11ZM224.67 45.46L225.69 45.78L222.25 56.55L221.3 56.25ZM229.87 47.19L230.88 47.55L227.02 58.18L226.1 57.84ZM235 49.12L235.53 49.33L231.31 59.82L230.82 59.62ZM235.92 49.49L236.46 49.71L232.16 60.16L231.67 59.96ZM243.68 52.91L244.19 53.16L239.29 63.34L238.81 63.11ZM252.52 57.51L253.88 58.29L248.21 68.07L246.95 67.35ZM253.82 58.26L254.31 58.54L248.6 68.3L248.15 68.03ZM256.39 59.78L256.88 60.08L250.97 69.71L250.52 69.44ZM257.24 60.3L258.15 60.87L252.14 70.44L251.3 69.92ZM263.08 64.11L263.55 64.44L257.12 73.73L256.68 73.43ZM265.93 66.13L266.4 66.46L259.73 75.59L259.31 75.28ZM267.14 67.01L268 67.65L261.21 76.68L260.42 76.09ZM268.34 67.91L268.79 68.25L261.94 77.24L261.52 76.92ZM268.74 68.21L269.59 68.86L262.67 77.8L261.89 77.2ZM272.65 71.3L273.09 71.66L265.9 80.38L265.49 80.04ZM274.18 72.57L274.62 72.94L267.31 81.55L266.9 81.21ZM285.78 83.5L286.52 84.28L278.26 92L277.59 91.28ZM287.15 84.96L287.53 85.38L279.2 93.01L278.84 92.62ZM288.82 86.81L289.2 87.23L280.73 94.72L280.38 94.32ZM290.79 89.06L291.16 89.5L282.54 96.8L282.19 96.4ZM291.75 90.2L292.12 90.64L283.42 97.86L283.08 97.45ZM296.99 96.86L297.62 97.72L288.49 104.38L287.91 103.58ZM299.6 100.51L299.93 100.98L290.61 107.37L290.31 106.94ZM299.89 100.92L300.21 101.39L290.87 107.75L290.57 107.32ZM300.17 101.33L300.49 101.8L291.13 108.13L290.83 107.7ZM303.17 105.92L303.47 106.4L293.88 112.37L293.6 111.92ZM304.99 108.89L305.28 109.39L295.54 115.12L295.27 114.66ZM306.97 112.35L307.49 113.29L297.58 118.71L297.1 117.85ZM308.63 115.42L309.13 116.37L299.08 121.55L298.63 120.67ZM311.09 120.32L311.33 120.84L301.12 125.66L300.89 125.19ZM312.76 123.95L313.38 125.38L303 129.85L302.42 128.52ZM313.94 126.69L314.35 127.68L303.89 131.97L303.51 131.05ZM318.72 139.93L318.89 140.48L308.07 143.75L307.92 143.24ZM319.01 140.88L319.18 141.43L308.34 144.63L308.19 144.12ZM319.84 143.76L320.25 145.27L309.33 148.16L308.95 146.77ZM321.64 151.01L321.76 151.57L310.72 153.97L310.61 153.45ZM321.75 151.5L321.87 152.06L310.82 154.41L310.71 153.9ZM323.06 158.35L323.16 158.92L312 160.73L311.92 160.21ZM323.52 161.31L323.67 162.37L312.48 163.91L312.34 162.93ZM324.64 171.71L324.75 173.28L313.47 173.96L313.37 172.51ZM324.87 175.7L324.89 176.27L313.6 176.71L313.58 176.18ZM324.99 183.17L324.99 183.74L313.69 183.59L313.69 183.06ZM324.97 184.67L324.96 185.24L313.66 184.97L313.67 184.44ZM324.96 185.16L324.95 185.74L313.65 185.43L313.66 184.9ZM324.93 186.16L324.91 186.73L313.62 186.34L313.64 185.82ZM324.92 186.66L324.9 187.23L313.6 186.8L313.62 186.27ZM324.23 196.6L324.12 197.67L312.89 196.41L312.99 195.43ZM324.12 197.59L324 198.66L312.78 197.32L312.89 196.34ZM323.95 199.08L323.82 200.14L312.61 198.69L312.73 197.71ZM323.41 203.03L323.33 203.6L312.16 201.87L312.24 201.35ZM323.34 203.52L323.25 204.09L312.09 202.33L312.17 201.8ZM323.26 204.02L323.17 204.58L312.02 202.78L312.1 202.26ZM322.4 208.93L322.29 209.49L311.2 207.3L311.31 206.78ZM322.3 209.41L322.09 210.47L311.02 208.2L311.22 207.23ZM321.59 212.83L321.24 214.36L310.24 211.78L310.56 210.37ZM320.79 216.23L320.65 216.78L309.69 214.01L309.82 213.5ZM320.67 216.71L320.53 217.26L309.58 214.46L309.71 213.95ZM317.42 227.7L317.07 228.72L306.4 225L306.72 224.07ZM317.1 228.64L316.91 229.19L306.25 225.44L306.42 224.94ZM316.93 229.12L316.41 230.59L305.79 226.73L306.27 225.37ZM316.09 231.46L315.53 232.93L304.98 228.88L305.49 227.53ZM313.89 237.02L313.67 237.55L303.26 233.14L303.47 232.65ZM311.67 242.04L311.43 242.56L301.2 237.75L301.43 237.27ZM311.04 243.39L310.79 243.91L300.61 238.99L300.84 238.52ZM309.27 246.96L309 247.47L298.97 242.28L299.21 241.81ZM307.4 250.49L307.12 250.99L297.23 245.51L297.49 245.05ZM306.18 252.66L305.89 253.16L296.11 247.51L296.37 247.05ZM305.93 253.09L305.39 254.02L295.64 248.3L296.14 247.45ZM304.92 254.81L304.37 255.73L294.7 249.88L295.21 249.04ZM303.89 256.52L303.33 257.43L293.74 251.45L294.26 250.61ZM300.66 261.55L300.34 262.02L290.99 255.68L291.28 255.24ZM299.53 263.2L298.63 264.48L289.42 257.94L290.25 256.75ZM298.38 264.83L298.05 265.29L288.88 258.68L289.19 258.26ZM298.09 265.23L297.76 265.7L288.61 259.06L288.92 258.63ZM296.62 267.24L295.97 268.1L286.97 261.27L287.56 260.48ZM294.8 269.62L294.14 270.46L285.28 263.44L285.89 262.67ZM287.9 277.81L287.52 278.24L279.18 270.61L279.54 270.22ZM284.84 281.09L284.44 281.5L276.35 273.61L276.71 273.23ZM284.49 281.44L284.09 281.85L276.02 273.94L276.39 273.56ZM284.14 281.8L283.03 282.92L275.05 274.91L276.07 273.89ZM275.04 290.3L274.6 290.68L267.29 282.06L267.69 281.72ZM274.66 290.63L274.22 291L266.94 282.36L267.34 282.02ZM274.28 290.95L273.84 291.32L266.59 282.65L266.99 282.31ZM273.89 291.27L272.69 292.27L265.53 283.53L266.64 282.61ZM271.97 292.85L271.13 293.53L264.1 284.68L264.87 284.07ZM268.04 295.92L267.18 296.56L260.46 287.48L261.25 286.89ZM267.24 296.52L266.78 296.86L260.09 287.75L260.51 287.44ZM263.6 299.13L262.71 299.74L256.34 290.41L257.15 289.85ZM261.95 300.26L261.06 300.85L254.82 291.43L255.64 290.88ZM259.03 302.17L258.55 302.48L252.51 292.93L252.95 292.64ZM257.34 303.23L256 304.05L250.16 294.38L251.4 293.62ZM256.07 304.01L255.15 304.56L249.38 294.85L250.22 294.34ZM251.76 306.51L251.26 306.79L245.79 296.9L246.25 296.65ZM249.13 307.94L248.62 308.21L243.37 298.21L243.83 297.96ZM247.81 308.64L247.3 308.9L242.15 298.84L242.61 298.6ZM237.88 313.3L236.43 313.9L232.14 303.45L233.48 302.89ZM236.5 313.87L235.97 314.09L231.72 303.62L232.2 303.42ZM233.26 315.16L232.72 315.36L228.72 304.79L229.22 304.61ZM231.39 315.86L230.85 316.06L227 305.43L227.5 305.25ZM224.78 318.1L224.24 318.27L220.91 307.47L221.41 307.32ZM219.04 319.77L218.48 319.91L215.61 308.98L216.12 308.85ZM212.26 321.4L211.69 321.52L209.36 310.46L209.88 310.35ZM211.77 321.51L210.72 321.72L208.46 310.65L209.43 310.45ZM205.89 322.62L204.83 322.79L203.04 311.64L204.02 311.48ZM203.92 322.94L202.86 323.1L201.23 311.92L202.2 311.77ZM185.07 324.57L184.49 324.58L184.31 313.28L184.84 313.27ZM184.57 324.58L183.5 324.59L183.39 313.29L184.38 313.28ZM183.57 324.59L183 324.6L182.93 313.3L183.46 313.29ZM180.08 324.58L179.51 324.57L179.72 313.28L180.25 313.29ZM179.58 324.58L179.01 324.56L179.26 313.27L179.79 313.28ZM175.6 324.45L175.03 324.42L175.59 313.13L176.12 313.16ZM173.61 324.34L172.04 324.24L172.84 312.97L174.29 313.06ZM172.11 324.24L170.55 324.12L171.47 312.86L172.91 312.97ZM170.62 324.13L169.06 323.99L170.1 312.74L171.54 312.87ZM169.13 324L168.07 323.9L169.19 312.65L170.17 312.75ZM164.67 323.52L164.1 323.45L165.54 312.24L166.06 312.31ZM162.2 323.19L161.64 323.11L163.26 311.93L163.79 312ZM157.77 322.49L156.72 322.31L158.73 311.19L159.7 311.36ZM155.81 322.14L155.25 322.03L157.38 310.94L157.9 311.03ZM153.85 321.76L153.29 321.64L155.58 310.58L156.1 310.68ZM146.57 320.08L146.01 319.94L148.88 309.01L149.39 309.14ZM141.76 318.75L141.21 318.59L144.46 307.77L144.96 307.92ZM139.85 318.18L139.31 318.01L142.7 307.23L143.2 307.39ZM131.84 315.43L131.3 315.22L135.33 304.66L135.83 304.85ZM130.44 314.89L129.45 314.5L133.62 304L134.54 304.36ZM127.21 313.59L126.22 313.17L130.65 302.77L131.56 303.16ZM119.94 310.31L118.53 309.62L123.57 299.5L124.86 300.14ZM118.59 309.65L118.08 309.4L123.16 299.3L123.63 299.54ZM108.12 303.88L107.21 303.32L113.14 293.71L113.98 294.22ZM103.07 300.67L102.18 300.07L108.51 290.72L109.33 291.27ZM101.01 299.27L99.72 298.37L106.25 289.15L107.43 289.98ZM98.57 297.55L98.1 297.21L104.76 288.08L105.19 288.39ZM96.56 296.07L96.1 295.73L102.91 286.71L103.34 287.03ZM95.37 295.17L94.91 294.82L101.82 285.87L102.24 286.2ZM94.97 294.86L94.52 294.51L101.46 285.59L101.88 285.92ZM88.42 289.49L87.99 289.11L95.44 280.62L95.84 280.97ZM86.19 287.5L85.76 287.12L93.39 278.78L93.78 279.14ZM81.14 282.69L80.73 282.28L88.76 274.33L89.13 274.7ZM79.74 281.27L79.34 280.85L87.48 273.02L87.85 273.39ZM79.05 280.55L78.31 279.77L86.53 272.02L87.21 272.73ZM76.33 277.63L75.95 277.2L84.35 269.65L84.71 270.05ZM74.67 275.77L73.97 274.96L82.54 267.59L83.18 268.33ZM73.05 273.88L72.68 273.44L81.35 266.19L81.69 266.59ZM71.77 272.34L71.41 271.9L80.18 264.77L80.51 265.18ZM70.83 271.18L70.47 270.73L79.32 263.7L79.65 264.11ZM69.6 269.62L69.24 269.17L78.18 262.25L78.51 262.67ZM64.44 262.58L63.56 261.28L72.95 254.99L73.76 256.19ZM63.6 261.34L63.29 260.87L72.7 254.61L72.99 255.05ZM62.51 259.68L62.19 259.2L71.69 253.07L71.98 253.52ZM62.23 259.26L61.66 258.36L71.2 252.3L71.73 253.13ZM60.64 256.73L60.34 256.24L69.98 250.35L70.26 250.8ZM60.38 256.31L59.82 255.39L69.51 249.57L70.02 250.41ZM58.84 253.74L58.56 253.24L68.34 247.59L68.61 248.05ZM56.88 250.27L56.61 249.76L66.55 244.38L66.8 244.85ZM55.02 246.74L54.76 246.23L64.85 241.13L65.08 241.6ZM52 240.45L51.56 239.47L61.9 234.91L62.3 235.81ZM51.19 238.63L50.97 238.1L61.35 233.65L61.56 234.13ZM49.84 235.41L49.63 234.88L60.12 230.68L60.32 231.17ZM46.58 226.52L46.4 225.98L57.15 222.48L57.31 222.98ZM46.43 226.05L46.25 225.5L57.01 222.04L57.17 222.54ZM44.69 220.32L44.54 219.77L55.43 216.76L55.58 217.27ZM44.3 218.88L44.15 218.33L55.07 215.44L55.21 215.95ZM43.92 217.43L43.84 217.12L54.79 214.32L54.86 214.61ZM42.76 212.59L42.64 212.03L53.68 209.63L53.79 210.15ZM42.14 209.66L42.03 209.1L53.12 206.94L53.23 207.45ZM41.59 206.72L41.33 205.17L52.47 203.32L52.72 204.75ZM41.02 203.28L40.87 202.22L52.05 200.6L52.2 201.58ZM40.3 197.84L40.24 197.27L51.47 196.05L51.53 196.57ZM39.55 188.4L39.51 187.33L50.8 186.89L50.84 187.88ZM39.49 186.91L39.47 186.34L50.77 185.98L50.78 186.5ZM39.42 184.42L39.41 183.35L50.71 183.22L50.72 184.21ZM41.14 159.58L41.23 159.02L52.38 160.82L52.3 161.34ZM41.22 159.09L41.48 157.54L52.61 159.46L52.37 160.89ZM41.46 157.62L41.56 157.05L52.69 159.01L52.6 159.53ZM43.26 148.83L43.39 148.27L54.38 150.92L54.25 151.44ZM43.86 146.41L44 145.85L54.93 148.7L54.8 149.21ZM43.98 145.93L44.12 145.37L55.05 148.25L54.92 148.76ZM46.05 138.74L46.37 137.72L57.12 141.21L56.82 142.15ZM48.84 130.74L49.05 130.21L59.58 134.29L59.39 134.78ZM51.7 123.83L51.93 123.31L62.24 127.94L62.02 128.42ZM52.73 121.56L52.97 121.04L63.2 125.85L62.97 126.33ZM55.59 115.75L55.86 115.24L65.86 120.51L65.61 120.98ZM57.49 112.24L57.77 111.74L67.61 117.29L67.35 117.75ZM57.97 111.37L58.76 110.01L68.52 115.69L67.8 116.95ZM59.48 108.79L60.03 107.87L69.7 113.72L69.19 114.56ZM60.51 107.08L61.34 105.75L70.9 111.77L70.14 112.99ZM61.56 105.39L61.87 104.91L71.39 110.99L71.11 111.44ZM73.78 88.87L74.15 88.43L82.7 95.82L82.36 96.22ZM74.1 88.49L74.48 88.06L83 95.48L82.66 95.88ZM83.54 78.56L83.96 78.17L91.73 86.37L91.35 86.73ZM99.99 65.04L101.28 64.14L107.68 73.45L106.49 74.28ZM108.87 59.27L109.79 58.72L115.52 68.46L114.67 68.96ZM110.58 58.26L111.08 57.97L116.71 67.77L116.25 68.03ZM113.19 56.78L113.69 56.51L119.11 66.42L118.65 66.68ZM118.48 54L119.44 53.53L124.41 63.68L123.52 64.12ZM126.52 50.3L127.97 49.7L132.26 60.15L130.92 60.71ZM127.9 49.73L128.43 49.51L132.68 59.98L132.2 60.18ZM131.61 48.26L132.61 47.89L136.53 58.48L135.61 58.83ZM134.41 47.23L134.84 47.08L138.59 57.74L138.2 57.88ZM139.26 45.61L140.28 45.29L143.6 56.09L142.66 56.39ZM151.17 42.41L151.73 42.29L154.14 53.33L153.63 53.44ZM152.14 42.2L152.71 42.08L155.04 53.14L154.52 53.25ZM154.1 41.79L154.66 41.68L156.84 52.77L156.32 52.87ZM156.54 41.32L157.11 41.22L159.09 52.35L158.57 52.44ZM162.45 40.37L163.02 40.29L164.54 51.49L164.01 51.56ZM163.93 40.17L164.99 40.04L166.36 51.26L165.38 51.38ZM167.89 39.72L168.46 39.66L169.55 50.91L169.03 50.96Z"/>
<path fill="#fcea30" d="M183.94 39.01L185.51 39.04L185.25 50.34L183.81 50.31ZM191.91 39.33L192.98 39.41L192.13 50.68L191.14 50.6ZM192.91 39.4L193.98 39.49L193.04 50.75L192.06 50.67ZM194.89 39.57L195.46 39.62L194.42 50.87L193.89 50.82ZM195.39 39.61L195.96 39.66L194.87 50.91L194.35 50.86ZM200.84 40.22L201.9 40.37L200.34 51.56L199.36 51.43ZM203.31 40.57L204.86 40.81L203.07 51.97L201.64 51.74ZM209.69 41.67L210.25 41.78L208.03 52.86L207.52 52.76ZM216.99 43.3L217.54 43.44L214.75 54.39L214.24 54.26ZM232.68 48.22L234.14 48.78L230.03 59.31L228.68 58.79ZM236.39 49.68L236.92 49.9L232.59 60.34L232.1 60.13ZM236.85 49.87L237.38 50.09L233.01 60.51L232.52 60.31ZM244.13 53.13L245.09 53.59L240.11 63.74L239.23 63.31ZM255.53 59.27L256.02 59.56L250.18 69.24L249.73 68.96ZM260.6 62.45L261.08 62.76L254.84 72.18L254.4 71.89ZM261.43 63L262.32 63.59L255.98 72.95L255.16 72.4ZM262.26 63.55L262.73 63.88L256.36 73.21L255.92 72.91ZM263.49 64.4L264.37 65.01L257.87 74.25L257.06 73.69ZM266.34 66.42L266.8 66.76L260.11 75.86L259.68 75.55ZM269.92 69.12L270.76 69.78L263.75 78.64L262.98 78.04ZM271.1 70.04L271.93 70.71L264.83 79.5L264.06 78.89ZM273.42 71.93L273.86 72.3L266.6 80.96L266.2 80.62ZM273.8 72.25L274.24 72.62L266.95 81.26L266.55 80.92ZM274.56 72.89L275 73.26L267.65 81.85L267.25 81.51ZM276.82 74.85L277.25 75.23L269.73 83.66L269.33 83.31ZM283.35 81L284.45 82.12L276.36 90.01L275.35 88.98ZM285.09 82.78L285.83 83.56L277.63 91.33L276.95 90.62ZM288.15 86.06L288.87 86.86L280.43 94.37L279.77 93.64ZM289.15 87.18L289.86 87.98L281.34 95.41L280.69 94.67ZM291.43 89.82L291.8 90.26L283.13 97.5L282.79 97.1ZM293.65 92.52L294.62 93.75L285.72 100.71L284.83 99.58ZM295.49 94.87L296.14 95.72L287.12 102.53L286.53 101.75ZM303.96 107.19L304.26 107.68L294.6 113.54L294.32 113.09ZM304.47 108.04L304.77 108.53L295.07 114.33L294.8 113.88ZM307.93 114.1L308.2 114.61L298.23 119.92L297.98 119.46ZM311.73 121.68L311.97 122.2L301.7 126.91L301.48 126.43ZM314.7 128.54L315.09 129.53L304.58 133.67L304.21 132.75ZM315.06 129.46L315.27 130L304.74 134.1L304.55 133.61ZM315.25 129.93L315.45 130.46L304.91 134.52L304.72 134.03ZM320.23 145.2L320.38 145.76L309.44 148.61L309.31 148.1ZM320.48 146.17L320.62 146.72L309.67 149.5L309.54 148.99ZM323.66 162.3L323.8 163.36L312.6 164.82L312.47 163.84ZM324.74 173.21L324.8 174.28L313.52 174.87L313.46 173.89ZM324.89 176.19L324.94 177.76L313.65 178.08L313.6 176.64ZM325 181.18L325 182.25L313.7 182.21L313.7 181.23ZM324.99 183.67L324.98 184.24L313.68 184.05L313.69 183.52ZM324.98 184.17L324.97 184.74L313.67 184.51L313.68 183.98ZM324.95 185.66L324.93 186.24L313.64 185.88L313.65 185.36ZM324.86 188.15L324.81 189.22L313.52 188.64L313.57 187.65ZM324.01 198.58L323.94 199.15L312.73 197.78L312.79 197.26ZM322.68 207.46L322.48 208.51L311.38 206.4L311.56 205.43ZM318.8 223.43L318.33 224.93L307.56 221.52L307.99 220.14ZM318.35 224.86L318.18 225.41L307.42 221.96L307.58 221.45ZM318.05 225.81L317.72 226.83L306.99 223.26L307.3 222.33ZM315.2 233.79L314.81 234.79L304.31 230.59L304.68 229.67ZM309.72 246.07L309.46 246.59L299.39 241.46L299.63 240.99ZM305.18 254.38L304.88 254.88L295.18 249.09L295.45 248.64ZM295.41 268.83L294.76 269.68L285.85 262.72L286.46 261.94ZM294.19 270.4L293.52 271.24L284.71 264.16L285.33 263.39ZM293.57 271.18L292.89 272.02L284.13 264.88L284.75 264.11ZM283.09 282.86L282.68 283.27L274.73 275.24L275.1 274.87ZM279.13 286.66L278.71 287.05L271.07 278.72L271.46 278.36ZM275.41 289.98L274.98 290.35L267.64 281.76L268.04 281.42ZM268.83 295.32L267.98 295.97L261.19 286.93L261.98 286.34ZM262.77 299.7L261.89 300.3L255.58 290.92L256.4 290.37ZM259.45 301.9L258.97 302.21L252.89 292.68L253.34 292.4ZM253.92 305.28L253.43 305.57L247.79 295.77L248.25 295.51ZM250.89 307L249.94 307.51L244.58 297.56L245.45 297.09ZM248.69 308.18L247.74 308.67L242.55 298.63L243.43 298.18ZM246.03 309.54L245.52 309.8L240.51 299.67L240.98 299.43ZM245.58 309.76L245.07 310.02L240.09 299.87L240.57 299.64ZM243.34 310.85L242.37 311.3L237.61 301.06L238.5 300.64ZM229.99 316.37L228.97 316.72L225.27 306.05L226.2 305.72ZM229.04 316.7L228.5 316.88L224.84 306.2L225.34 306.02ZM225.26 317.95L224.71 318.13L221.35 307.34L221.85 307.18ZM218.56 319.89L218 320.04L215.17 309.1L215.68 308.97ZM216.63 320.39L216.07 320.53L213.39 309.55L213.9 309.42ZM202.94 323.09L201.88 323.24L200.32 312.05L201.3 311.91ZM190.05 324.38L189.47 324.41L188.9 313.13L189.43 313.1ZM183.07 324.6L182 324.6L182.02 313.3L183 313.3ZM182.08 324.6L180.51 324.59L180.64 313.29L182.09 313.3ZM174.1 324.37L173.53 324.34L174.22 313.06L174.74 313.09ZM168.14 323.91L167.57 323.85L168.73 312.61L169.25 312.66ZM165.17 323.58L164.6 323.51L165.99 312.3L166.52 312.36ZM156.79 322.32L155.74 322.13L157.83 311.02L158.8 311.2ZM149.96 320.91L148.91 320.67L151.55 309.68L152.51 309.9ZM148.5 320.57L147.46 320.31L150.21 309.35L151.17 309.59ZM130.91 315.07L130.37 314.86L134.48 304.33L134.97 304.52ZM114.17 307.35L112.79 306.6L118.29 296.72L119.55 297.42ZM92.24 292.7L91.79 292.34L98.95 283.59L99.36 283.92ZM87.67 288.83L87.24 288.45L94.76 280.01L95.15 280.36ZM84.72 286.15L84.3 285.76L92.05 277.53L92.43 277.89ZM63.33 260.93L63.01 260.45L72.44 254.23L72.73 254.67ZM60.9 257.16L60.6 256.67L70.22 250.74L70.5 251.19ZM57.85 252.01L57.33 251.07L67.21 245.59L67.69 246.45ZM57.12 250.7L56.85 250.2L66.77 244.79L67.02 245.25ZM56.65 249.83L56.14 248.88L66.11 243.58L66.58 244.45ZM56.17 248.95L55.91 248.44L65.9 243.17L66.15 243.64ZM50.8 237.71L50.38 236.72L60.82 232.38L61.2 233.29ZM48.05 230.76L47.69 229.75L58.33 225.96L58.67 226.88ZM47.72 229.82L47.2 228.34L57.88 224.66L58.36 226.02ZM47.06 227.94L46.72 226.92L57.44 223.35L57.75 224.29ZM45.68 223.67L45.51 223.12L56.33 219.85L56.48 220.36ZM42.44 211.12L42.23 210.07L53.3 207.84L53.5 208.8ZM41.77 207.7L41.67 207.14L52.79 205.13L52.88 205.65ZM41.68 207.21L41.58 206.65L52.71 204.68L52.8 205.2ZM41.34 205.25L41.24 204.68L52.4 202.87L52.48 203.39ZM40.88 202.29L40.8 201.72L51.99 200.15L52.06 200.67ZM40.81 201.8L40.73 201.23L51.92 199.69L52 200.21ZM39.4 181.43L39.4 180.85L50.7 180.93L50.7 181.46ZM40.07 167.99L40.13 167.42L51.37 168.56L51.32 169.08ZM47.8 133.55L47.99 133.01L58.61 136.87L58.44 137.36ZM50.32 127.04L50.93 125.59L61.32 130.04L60.75 131.37ZM56.76 113.55L57.04 113.05L66.94 118.49L66.69 118.95ZM57 113.11L57.28 112.61L67.17 118.09L66.91 118.55ZM59.22 109.22L59.52 108.72L69.22 114.51L68.95 114.96ZM66.38 98.27L67.31 97L76.4 103.71L75.55 104.88ZM69.98 93.49L70.65 92.65L79.47 99.71L78.86 100.48ZM71.54 91.55L72.54 90.33L81.21 97.57L80.29 98.69ZM75.41 86.99L75.8 86.56L84.22 94.1L83.86 94.49ZM78.96 83.14L79.7 82.37L87.81 90.24L87.13 90.95ZM81.4 80.65L82.16 79.9L90.08 87.96L89.38 88.65ZM83.18 78.91L83.6 78.51L91.4 86.68L91.02 87.05ZM83.9 78.22L84.68 77.48L92.4 85.74L91.68 86.41ZM84.63 77.53L85.05 77.14L92.74 85.42L92.35 85.78ZM87.58 74.85L88.38 74.14L95.81 82.66L95.07 83.31ZM88.33 74.19L88.76 73.82L96.15 82.36L95.76 82.71ZM88.7 73.86L89.14 73.49L96.5 82.06L96.1 82.41ZM95.57 68.28L96.82 67.34L103.58 76.39L102.42 77.26ZM101.21 64.19L102.1 63.58L108.44 72.94L107.62 73.49ZM104.11 62.24L104.59 61.93L110.73 71.41L110.29 71.7ZM112.75 57.03L113.25 56.75L118.71 66.64L118.25 66.9ZM114.5 56.07L115.01 55.8L120.32 65.77L119.86 66.02ZM119.82 53.34L120.34 53.09L125.24 63.28L124.76 63.51ZM124.69 51.09L125.21 50.86L129.72 61.22L129.24 61.44ZM125.14 50.89L125.67 50.67L130.14 61.04L129.66 61.25ZM128.36 49.54L129.82 48.95L133.96 59.47L132.62 60ZM130.68 48.62L131.68 48.24L135.68 58.81L134.75 59.16ZM133.48 47.57L134.02 47.37L137.83 58.01L137.33 58.19ZM133.95 47.4L134.49 47.21L138.26 57.86L137.76 58.04ZM138.78 45.76L139.33 45.59L142.72 56.37L142.22 56.53ZM146.93 43.42L147.12 43.38L149.9 54.33L149.72 54.37ZM152.63 42.09L153.68 41.88L155.94 52.95L154.97 53.15ZM154.59 41.7L155.64 41.49L157.74 52.59L156.77 52.78ZM155.56 41.51L156.62 41.31L158.64 52.43L157.67 52.61ZM157.03 41.23L158.09 41.05L160 52.19L159.03 52.36ZM158.02 41.06L158.34 41.01L160.22 52.15L159.93 52.2ZM166.41 39.88L167.47 39.76L168.64 51L167.66 51.11ZM172.98 39.3L173.56 39.26L174.24 50.54L173.71 50.57ZM173.48 39.27L174.05 39.23L174.7 50.51L174.17 50.55ZM173.98 39.24L174.55 39.2L175.16 50.49L174.63 50.52Z"/>
<path fill="#f8e410" d="M200.34 40.16L200.91 40.23L199.43 51.43L198.91 51.37ZM205.77 40.96L207.32 41.23L205.33 52.35L203.9 52.1ZM210.67 41.87L211.72 42.08L209.38 53.14L208.42 52.94ZM212.62 42.28L213.18 42.4L210.73 53.43L210.21 53.32ZM247.7 54.91L248.65 55.4L243.39 65.4L242.51 64.95ZM251.65 57.03L252.15 57.31L246.61 67.16L246.15 66.9ZM267.94 67.61L268.4 67.95L261.58 76.96L261.16 76.64ZM281.58 79.25L282.34 80L274.42 88.06L273.71 87.37ZM282.29 79.95L283.05 80.7L275.07 88.7L274.37 88.01ZM283 80.65L283.4 81.05L275.4 89.03L275.02 88.65ZM287.82 85.69L288.2 86.12L279.82 93.69L279.46 93.3ZM289.81 87.93L290.18 88.36L281.64 95.75L281.29 95.36ZM290.14 88.3L290.83 89.12L282.24 96.45L281.59 95.7ZM299.32 100.1L299.64 100.57L290.35 107L290.05 106.56ZM301.55 103.4L301.87 103.88L292.4 110.05L292.11 109.6ZM304.73 108.47L305.03 108.96L295.31 114.72L295.04 114.27ZM307.7 113.66L307.97 114.17L298.02 119.52L297.76 119.05ZM311.3 120.77L311.55 121.29L301.31 126.08L301.09 125.6ZM315.78 131.32L315.98 131.86L305.4 135.81L305.21 135.32ZM315.96 131.79L316.5 133.26L305.87 137.1L305.37 135.75ZM316.47 133.19L316.67 133.73L306.03 137.54L305.85 137.04ZM320.36 145.68L320.5 146.24L309.56 149.05L309.42 148.54ZM322.06 152.96L322.27 154.01L311.19 156.21L310.99 155.25ZM324.8 174.2L324.83 174.77L313.54 175.33L313.51 174.8ZM324.82 174.7L324.87 175.77L313.58 176.25L313.54 175.26ZM323.83 200.07L323.62 201.62L312.43 200.06L312.62 198.62ZM312.09 241.13L311.64 242.1L301.4 237.33L301.81 236.44ZM306.91 251.36L306.63 251.86L296.79 246.31L297.05 245.85ZM300.38 261.96L299.77 262.85L290.47 256.43L291.03 255.62ZM290.22 275.2L289.84 275.64L281.32 268.21L281.67 267.81ZM285.87 280.01L285.47 280.42L277.3 272.62L277.67 272.24ZM282.73 283.21L281.97 283.97L274.07 275.88L274.78 275.19ZM271.19 293.48L270.74 293.84L263.74 284.97L264.15 284.64ZM269.62 294.71L269.17 295.06L262.29 286.1L262.71 285.78ZM258.61 302.44L258.13 302.74L252.12 293.17L252.56 292.89ZM258.19 302.7L257.28 303.27L251.34 293.66L252.18 293.14ZM253.49 305.53L252.13 306.31L246.59 296.45L247.85 295.74ZM228.1 317.02L227.09 317.36L223.53 306.64L224.47 306.32ZM227.16 317.34L225.66 317.82L222.22 307.06L223.6 306.61ZM221.92 318.96L221.37 319.12L218.27 308.26L218.78 308.11ZM207.86 322.28L206.31 322.55L204.4 311.41L205.83 311.16ZM206.38 322.54L205.82 322.63L203.95 311.49L204.47 311.4ZM191.04 324.33L189.97 324.39L189.36 313.11L190.34 313.05ZM189.05 324.44L188.48 324.46L187.98 313.17L188.51 313.15ZM166.16 323.7L165.09 323.57L166.45 312.35L167.43 312.47ZM154.83 321.95L153.78 321.74L156.03 310.67L157 310.86ZM131.37 315.25L130.84 315.04L134.9 304.5L135.4 304.69ZM91.85 292.38L91.02 291.7L98.24 283.01L99 283.63ZM78.02 279.46L77.63 279.04L85.9 271.35L86.26 271.73ZM74.02 275.01L73 273.82L81.64 266.54L82.58 267.64ZM57.36 251.14L57.09 250.64L66.99 245.19L67.24 245.65ZM47.22 228.41L47.03 227.87L57.73 224.22L57.9 224.72ZM46.74 226.99L46.56 226.45L57.29 222.92L57.46 223.42ZM39.42 179.43L39.43 178.86L50.73 179.09L50.72 179.62ZM55.82 115.31L56.09 114.8L66.07 120.11L65.82 120.57ZM57.73 111.81L58.01 111.31L67.84 116.89L67.58 117.35ZM59.99 107.93L60.55 107.02L70.17 112.93L69.66 113.78ZM61.83 104.97L62.41 104.07L71.89 110.22L71.36 111.05ZM62.64 103.71L63.23 102.82L72.65 109.07L72.1 109.89ZM63.19 102.88L63.99 101.68L73.35 108.02L72.61 109.12ZM70.6 92.71L71.59 91.49L80.34 98.63L79.43 99.76ZM74.43 88.11L74.8 87.68L83.3 95.13L82.96 95.53ZM74.76 87.74L75.13 87.31L83.61 94.79L83.26 95.18ZM75.75 86.62L76.13 86.19L84.52 93.76L84.17 94.15ZM81.05 81L81.45 80.6L89.43 88.6L89.05 88.98ZM85.36 76.85L85.78 76.47L93.41 84.8L93.02 85.16ZM85.73 76.52L86.15 76.13L93.75 84.49L93.36 84.85ZM86.09 76.18L86.52 75.8L94.09 84.18L93.7 84.54ZM86.46 75.85L87.63 74.8L95.12 83.27L94.04 84.23ZM102.04 63.62L103.34 62.75L109.58 72.17L108.38 72.97ZM103.28 62.79L103.76 62.47L109.97 71.92L109.52 72.21ZM103.7 62.52L104.17 62.2L110.35 71.67L109.91 71.95ZM111.88 57.51L112.82 56.99L118.31 66.87L117.45 67.35ZM119.38 53.56L119.89 53.31L124.82 63.48L124.35 63.71ZM129.75 48.98L130.28 48.77L134.39 59.3L133.9 59.49ZM130.21 48.8L130.75 48.59L134.82 59.13L134.33 59.32ZM165.91 39.93L166.48 39.87L167.72 51.1L167.2 51.16ZM167.4 39.77L167.97 39.71L169.09 50.95L168.57 51.01Z"/>
<path fill="none" stroke="#f0633d" stroke-width="1.05" stroke-linejoin="round" d="M182.42 56.86L182.81 58.18L183.17 60.86L183.6 56.92L184 56.24L184.37 57.71L184.79 56.15L185.17 56.93L185.61 55.11L185.94 57.46L186.46 53.56L186.74 57.1L187.18 55.85L187.49 57.91L188.01 55.08L188.3 57.28L188.7 57.18L189.22 54.86L189.58 55.57L190.09 53.91L190.33 56.35L190.58 58.49L191.02 57.9L191.52 56.44L191.83 57.52L192.4 55.27L192.81 55.27L193.06 56.97L193.39 57.65L193.72 58.36L194.38 55.62L194.32 60.24L195.25 54.99L195.58 55.69L195.93 56.1L196.17 57.55L196.71 56.32L197.21 55.49L197.35 57.65L198.13 54.56L198.56 54.43L198.91 54.88L198.82 58.52L199.77 54.52L200.22 54.18L200.77 53.21L201 54.48L201.54 53.63L201.72 55.12L202.39 53.5L202.96 52.5L203.18 53.73L203.68 53.17L203.96 54L204.26 54.66L204.3 56.77L205.15 54.31L205.47 54.8L205.91 54.66L206.39 54.33L206.59 55.46L207.34 53.74L207.49 55.07L207.91 55.08L208.5 54.23L208.65 55.5L209.02 55.72L209.41 55.81L210.09 54.62L210.27 55.72L210.98 54.41L211.02 56.06L211.57 55.49L212.07 55.16L212.36 55.7L212.8 55.62L213.1 56.12L213.57 55.91L214.28 54.79L214.65 55L214.84 55.92L215.19 56.17L215.55 56.43L215.99 56.34L216.64 55.52L216.75 56.68L217.3 56.22L217.69 56.37L218.26 55.86L218.66 55.98L218.1 59.36L219.08 57.45L219.54 57.34L219.64 58.43L220.62 56.62L220.33 58.94L221.08 57.89L221.45 58.07L221.89 58.06L222.34 57.98L222.83 57.8L222.96 58.73L223.58 58.16L224.17 57.7L224.19 58.9L224.63 58.88L224.94 59.23L225.45 59.02L225.8 59.28L226.17 59.46L226.76 59.03L226.9 59.83L227.05 60.62L227.76 59.87L228.23 59.79L228.56 60.06L228.98 60.12L229.2 60.69L229.39 61.34L229.84 61.31L229.87 62.32L230.36 62.21L230.04 64.05L231.22 62.23L231.72 62.09L231.81 62.93L232.16 63.15L231.26 66.3L232.99 63.28L232.87 64.58L233.85 63.34L234.53 62.81L234.69 63.45L234.75 64.32L235.11 64.5L235.94 63.65L235.96 64.58L236.77 63.81L237.07 64.13L237 65.25L237.87 64.36L238.24 64.52L238.6 64.72L238.58 65.7L239.4 64.96L239.88 64.9L238.96 67.67L240.66 65.18L240.8 65.82L241.35 65.64L241.67 65.92L242.27 65.65L242.27 66.54L242.81 66.39L242.51 67.82L243.2 67.4L244 66.78L244.28 67.12L243.48 69.44L244.98 67.56L245.08 68.21L245.64 68.06L246.37 67.59L246.5 68.2L247.09 68L247.28 68.5L247.8 68.41L247.97 68.94L247.91 69.86L248.55 69.59L248.66 70.2L249.15 70.18L249.76 69.96L249.95 70.44L248.66 73.33L250.5 71.1L250.71 71.55L251.52 71.02L251.41 71.98L250.91 73.53L252.36 72L252.72 72.2L252.99 72.54L253.7 72.2L253.77 72.85L252.86 74.96L254.14 73.77L253.78 75.04L255.35 73.44L255.68 73.69L255.43 74.78L256.3 74.24L256.02 75.37L256.74 75.04L257.21 75.08L257.67 75.15L257.83 75.63L257.02 77.47L258.18 76.55L258.96 76.18L258.88 76.98L259.88 76.31L259.43 77.62L260.54 76.81L260.27 77.86L261.19 77.32L259.65 80.02L261.73 77.96L261.93 78.38L261.98 78.99L262.42 79.09L262.56 79.58L260.59 82.73L263.27 80L264.02 79.72L264.07 80.32L264.06 80.98L263.82 81.91L264.66 81.54L264.95 81.83L265.01 82.4L265.09 82.93L265.97 82.52L266.17 82.92L266.1 83.63L266.78 83.46L264.92 86.24L266.87 84.6L267.07 84.98L267.72 84.87L268.02 85.14L268.02 85.75L268.6 85.71L268.63 86.29L269.36 86.08L268.46 87.67L270.17 86.41L267.98 89.37L270.77 86.97L270.16 88.21L270.86 88.06L271.93 87.52L272.03 88.01L272.56 88.05L271.01 90.24L272.95 88.82L274 88.34L273.38 89.55L273.72 89.79L274.04 90.05L274.56 90.11L275.19 90.07L275.51 90.33L273.82 92.55L276 91L276.36 91.22L275.97 92.16L276.77 91.97L277.46 91.88L277.59 92.32L277.09 93.36L277.24 93.77L277.97 93.65L278.27 93.94L279.09 93.75L278.43 94.9L279.49 94.5L279.62 94.93L279.3 95.76L280.42 95.32L279.88 96.34L280.43 96.4L281.33 96.17L280.15 97.72L281.69 96.94L281.23 97.87L281.78 97.95L281.81 98.46L282.63 98.3L282.41 99.02L282.68 99.33L282.26 100.2L283.98 99.33L283.73 100.06L284 100.37L283.84 101.02L284.38 101.11L283.73 102.15L285.35 101.4L284.45 102.61L285.28 102.49L285.46 102.87L286.38 102.69L286.54 103.08L286.18 103.86L286.24 104.33L287.4 103.98L287.11 104.7L287.46 104.96L287.32 105.57L287.96 105.61L288.7 105.58L288.29 106.38L285.61 108.77L287.01 108.28L288.89 107.46L289.04 107.86L289.57 107.99L289.12 108.79L289.42 109.08L289.48 109.53L289.91 109.73L289.81 110.29L290.61 110.25L289.97 111.16L291.69 110.53L290.25 111.95L290.37 112.35L291.5 112.11L291.36 112.68L291.26 113.22L291.53 113.53L291.84 113.82L291.57 114.47L291.07 115.24L290.91 115.81L292.24 115.48L292.02 116.08L293.18 115.86L290.41 117.96L292.86 116.99L293.21 117.25L292.72 118L293.74 117.88L292.65 118.96L294.18 118.56L294.81 118.68L294.38 119.38L294.53 119.76L295.27 119.81L295.92 119.92L295.5 120.61L294.98 121.35L294.72 121.94L293.11 123.25L296.58 121.88L296.24 122.51L297.62 122.26L295.09 124.01L297.18 123.4L296.65 124.12L297.57 124.11L296.63 125.03L297.8 124.9L298.58 124.97L296.88 126.25L297.14 126.57L296.76 127.19L299.32 126.43L298.42 127.3L299.51 127.24L296.27 129.18L297.07 129.25L299.04 128.79L298.64 129.42L299.82 129.33L297.86 130.64L297.38 131.28L296.78 131.98L298.44 131.69L300.29 131.33L297.93 132.78L298.97 132.77L300.74 132.46L298.67 133.75L300.46 133.45L295.55 135.87L298.1 135.27L300.61 134.69L297.09 136.51L297.77 136.66L297.02 137.37L297.42 137.63L301.04 136.67L296.54 138.79L294.89 139.82L295.95 139.83L299.11 139.08L298.96 139.55L299.61 139.74L297.37 140.95L296.32 141.72"/>
<path fill="none" stroke="#f0633d" stroke-width="1.05" stroke-linejoin="round" d="M294.31 146.13L296.13 145.95L299.02 145.44L298.92 145.87L299.23 146.18L300.55 146.18L300.95 146.47L300.11 147.12L302.4 146.86L297.92 148.56L301.48 147.94L302.62 148.03L301.25 148.81L302.76 148.81L301.48 149.56L303.4 149.45L302.92 149.98L302.02 150.62L304.86 150.3L301.59 151.54L305.31 151.01L305.04 151.48L304.71 151.97L303.29 152.72L303.21 153.14L304.33 153.28L306.97 153.08L306.24 153.66L303.75 154.63L302.78 155.24L306.68 154.79L305.86 155.38L304.07 156.16L307.49 155.85L306.84 156.4L308.72 156.43L305.66 157.45L308.16 157.36L306.05 158.18L305.8 158.63L306.8 158.85L305.56 159.48L307.67 159.5L306.59 160.1L309.42 160.02L308.65 160.56L309.43 160.84L308.11 161.46L307.87 161.91L308.18 162.26L308.08 162.69L310.61 162.71L305.77 163.83L307.91 163.92L308.33 164.27L306.51 164.92L308.59 165.04L307.54 165.58L310.28 165.64L308.76 166.24L308.49 166.67L308.19 167.11L308.48 167.48L309.12 167.81L307.89 168.35L310.01 168.53L308.37 169.1L309.18 169.42L308.92 169.85L310.8 170.08L309.66 170.59L308.97 171.05L308.91 171.46L310.74 171.71L310 172.18L308.55 172.69L309.82 173L310.05 173.39L310.33 173.77L310.75 174.15L310.34 174.58L310.85 174.96L310.71 175.37L310.95 175.76L311.49 176.15L310.02 176.61L308.92 177.06L311.1 177.38L311.44 177.78L311.66 178.18L311.64 178.59L311.01 179.01L311.71 179.4L310.91 179.82L309.55 180.24L310.63 180.63L311.79 181.03L311.28 181.44L311.36 181.85L310.22 182.25L311.26 182.66L311.18 183.07L310.82 183.47L310.39 183.86L312.18 184.3L311.84 184.7L310.26 185.07L311.16 185.5L311.95 185.93L310.42 186.29L310.93 186.71L309.88 187.07L310.4 187.5L308.14 187.8L311.94 188.39L310.93 188.74L311.24 189.17L311.75 189.6L311.1 189.97L311.1 190.38L310.08 190.72L311.82 191.25L309.42 191.47L310.8 191.99L311.2 192.43L311.38 192.85L311.09 193.24L306.69 193.24L309.71 193.92L310.28 194.38L309.55 194.72L309.82 195.15L309.62 195.53L310.26 196.01L309.77 196.36L309.65 196.76L309.53 197.15L311.14 197.75L309.95 198.02L309.55 198.37L309.39 198.76L310.67 199.34L311.13 199.82L311.88 200.34L310.15 200.5L310.26 200.93L311.39 201.51L311.19 201.9L310.89 202.27L307.42 202.12L310.48 203.03L310.78 203.5L310.45 203.86L310.25 204.24L309.59 204.54L309.31 204.9L309.21 205.29L309.62 205.78L309.14 206.11L308.78 206.45L309.12 206.93L308.94 207.31L308.93 207.73L308.94 208.14L307.96 208.35L305.31 208.2L308.36 209.27L308.1 209.63L308.26 210.08L308.79 210.62L307.8 210.81L308.75 211.45L307.76 211.63L305.53 211.51L308.36 212.61L308.5 213.07L308.5 213.49L308.39 213.89L308.33 214.29L307.52 214.51L308.24 215.12L308.74 215.68L307.35 215.73L307.74 216.26L308.41 216.87L307.84 217.14L306.79 217.27L307.27 217.83L307.89 218.43L306.7 218.51L307.41 219.15L305.86 219.11L305.93 219.56L306.51 220.16L304.51 219.97L306.23 220.94L306.8 221.54L306.49 221.88L305.84 222.1L305.03 222.26L306.49 223.18L306.36 223.57L305.3 223.64L304.74 223.88L305.35 224.53L305.02 224.85L304.82 225.21L304.79 225.63L304.87 226.1L305.26 226.68L303.52 226.48L304.62 227.32L303.39 227.3L303.36 227.72L303.81 228.33L302.85 228.4L302.9 228.86L303.67 229.6L303.73 230.06L303.02 230.22L302.02 230.26L302.28 230.8L302.41 231.3L301.91 231.53L302.81 232.35L302.25 232.56L301.63 232.75L300.99 232.91L300.89 233.32L301.44 234L300.41 234L301.13 234.76L301.13 235.21L297.06 233.82L301.14 236.12L299.54 235.83L300.23 236.6L299.33 236.63L299.99 237.39L299.35 237.54L298.86 237.76L298.82 238.19L298.39 238.44L298.05 238.72L297.78 239.04L298.38 239.8L298.14 240.13L297.92 240.48L296.96 240.45L297.74 241.3L294.22 239.94L296.45 241.55L297.12 242.37L296.07 242.27L296.08 242.73L295.2 242.72L295.69 243.45L295.09 243.58L293.85 243.37L294.59 244.23L293.73 244.22L292.54 244.01L293.8 245.18L291.4 244.27L292.65 245.45L292.36 245.75L292.87 246.51L291.4 246.11L293.23 247.66L291.81 247.28L291.28 247.43L291.54 248.06L290.58 247.95L290.73 248.5L291.31 249.34L291.03 249.64L290.61 249.85L289.77 249.8L288.86 249.69L289.62 250.65L288.48 250.4L289.36 251.44L290.36 252.58L289.1 252.24L287.5 251.65L285.84 251.02L287.1 252.35L286.83 252.64L289.1 254.67L288.69 254.88L286.51 253.87L287.46 255.02L285.49 254.13L286.72 255.48L284.25 254.23L284.36 254.79L285.3 255.95L285.23 256.39L283.48 255.61L283.18 255.88L284.28 257.18L284.14 257.58L284.32 258.21L283.64 258.2L283.69 258.74L283.47 259.08L281.99 258.45L278.73 256.42L277.52 255.97L279.22 257.79L280.05 258.94L278.6 258.28L279.06 259.14L277.71 258.57L276.78 258.3L277.39 259.3"/>
<path fill="none" stroke="#f0633d" stroke-width="1.05" stroke-linejoin="round" d="M276.27 263.14L273.35 261.12L274.26 262.43L275.67 264.18L275.5 264.55L275.58 265.15L273.54 263.84L276.86 267.37L274.05 265.36L274.24 266.06L275.77 268L273.75 266.68L275.06 268.43L273.95 267.95L271.83 266.49L274.54 269.6L274.16 269.79L272.54 268.79L273.56 270.33L273.27 270.6L273.45 271.34L273.68 272.14L270.99 270.03L271.86 271.45L270.39 270.55L270.6 271.32L270.33 271.61L270.21 272.05L270.46 272.88L268.99 271.93L269.68 273.22L268.64 272.71L266.84 271.38L268.67 273.89L268.49 274.29L268.76 275.16L267.32 274.19L268.74 276.33L267.27 275.31L268.5 277.26L267.53 276.79L267 276.8L267.57 278.04L266.97 277.98L266.66 278.24L267.4 279.71L264.84 277.37L266.07 279.41L265.81 279.73L265.96 280.54L262.91 277.55L265.68 281.46L264.89 281.16L264.11 280.86L264.37 281.81L264.28 282.34L263.23 281.69L263.34 282.47L262.52 282.11L263.11 283.5L262.27 283.1L260.8 281.88L261.22 283.08L261.39 283.96L260.78 283.82L260.48 284.11L260.47 284.76L260.89 285.99L260.04 285.54L259.83 285.94L259.25 285.85L258.82 285.95L258.84 286.66L259.06 287.67L258.08 287.02L258.49 288.29L257.3 287.32L257.27 287.99L257.25 288.67L256.1 287.74L256.39 288.88L255.94 288.95L253.58 286.22L255.27 289.41L254.37 288.82L254.8 290.19L254.3 290.17L253.15 289.19L253.8 290.91L252.78 290.11L252.97 291.14L252.73 291.53L250.36 288.57L251.84 291.66L249.4 288.54L251 291.86L251.29 293.1L250.68 292.9L250.51 293.41L249.9 293.2L249.51 293.34L249.13 293.51L248.53 293.3L248.55 294.15L247.86 293.78L247.44 293.87L247.05 294L247.04 294.81L246.49 294.67L246.35 295.25L245.76 295.04L245.1 294.7L245.01 295.37L244.55 295.39L244.36 295.89L244.13 296.33L243.21 295.48L243.6 297.08L242.77 296.38L242.97 297.65L241.93 296.54L241.73 297.04L241.59 297.66L240.64 296.7L240.11 296.55L239.82 296.88L239.37 296.88L239.01 297.07L239.23 298.43L238.39 297.64L237.82 297.39L237.63 297.94L236.97 297.49L236.66 297.77L236.17 297.67L235.41 296.99L235.99 299.21L235.48 299.08L235.23 299.52L234.76 299.45L232.8 296.03L233.99 299.71L234.2 301.23L233.33 300.24L233.14 300.83L232.74 300.92L232.02 300.26L232.08 301.47L231.66 301.5L231.68 302.63L231 302.07L230.71 302.42L230.59 303.24L229.93 302.69L229.59 302.94L229.04 302.64L228.87 303.36L228.2 302.74L228.05 303.5L227.46 303.09L227.29 303.79L226.85 303.79L226.84 304.96L226.3 304.69L225.79 304.47L225.25 304.18L224.53 303.36L224.78 305.33L224.29 305.16L223.68 304.62L222.9 303.58L223.09 305.45L222.76 305.76L221.68 303.76L221.77 305.35L221.27 305.15L220.73 304.76L220.46 305.26L220.27 306.05L219.19 303.88L219.58 306.6L217.86 302.24L218.4 305.47L218.07 305.82L217.43 305.05L217.37 306.33L217.04 306.65L216.35 305.68L216.13 306.4L215.61 306.05L215.52 307.28L214.86 306.36L214.58 306.92L214.23 307.19L212.85 303.37L213.3 306.82L212.9 306.89L212.46 306.8L212.16 307.3L211.5 306.26L211.46 307.87L210.61 305.98L210.16 305.82L210.34 308.45L209.42 306.17L209.03 306.29L208.14 303.99L207.86 304.61L208.21 308.23L207.4 306.28L207.08 306.75L206.8 307.37L206.46 307.76L206.04 307.69L205.63 307.73L205.19 307.54L204.4 305.43L204.31 307.2L203.85 306.92L203.21 305.51L202.86 305.82L202.48 305.96L202.22 306.79L201.62 305.55L201.59 307.95L201.09 307.35L200.14 303.68L200.02 305.51L199.4 303.96L198.85 302.82L198.82 305.49L197.85 301.1L197.72 303.08L197.43 303.85L197.12 304.51L196.49 302.52L195.97 301.34L196.08 305.67L195.36 302.74L195.17 304.59L194.95 306.23"/>
<path fill="none" stroke="#f0633d" stroke-width="1.05" stroke-linejoin="round" d="M191.09 304.28L190.61 302.99L190.16 301.97L190.1 306.99L189.72 307.3L189.27 306.42L188.8 304.96L188.42 305.15L187.97 303.87L187.72 306.81L187.35 307.53L186.88 305.46L186.55 307.25L186.14 306.79L185.72 305.67L185.34 306.24L184.98 307.51L184.53 304.53L184.18 307.11L183.78 306.48L183.4 308.26L183.02 310.54L182.61 309.23L182.21 310.4L181.81 308.45L181.4 310.4L181 310.43L180.64 306.71L180.25 306.5L179.79 310L179.41 308.92L178.97 310.46L178.55 310.9L178.21 309L177.83 308.15L177.41 308.89L177.02 308.54L176.59 309.27L176.18 309.52L175.83 308.46L175.35 309.87L174.97 309.54L174.55 309.86L174.26 308L173.9 307.44L173.32 310.07L173.01 308.75L172.56 309.36L172.3 307.5L171.81 308.7L171.26 310.34L171.19 306.58L170.58 308.9L170.24 308.28L169.68 309.82L169.5 307.61L169.01 308.45L168.53 309.19L168.12 309.26L167.64 309.87L167.3 309.29L167.06 307.92L166.39 310.06L166.07 309.36L165.71 308.99L165.21 309.72L164.79 309.76L164.5 308.95L163.98 309.69L163.68 308.95L163.21 309.37L162.79 309.4L162.48 308.77L162 309.21L161.31 310.94L161.26 308.7L160.77 309.18L160.61 307.69L159.87 309.63L159.45 309.66L158.9 310.38L158.86 308.32L158.41 308.56L157.98 308.66L158.35 304.6L156.98 309.52L156.77 308.49L156.28 308.82L156.03 308.01L155.59 308.15L155.28 307.66L154.8 307.96L154.55 307.19L153.97 307.97L153.81 306.81L153.06 308.28L152.52 308.78L152.47 307.21L152.62 304.86L151.73 306.84L151.02 308.01L150.98 306.51L150.78 305.63L150.23 306.18L149.85 306.01L150.15 303.31L149.14 305.57L148.46 306.52L148.06 306.45L147.78 305.95L147.48 305.5L146.79 306.44L146.78 304.99L146.05 306.07L145.82 305.42L145.47 305.18L145.4 304L144.26 306.38L144.42 304.45L143.69 305.43L143.81 303.7L142.93 305.13L143.63 301.64L143.07 302.09L142.43 302.76L141.84 303.26L141.86 301.92L141.66 301.29L140.84 302.46L140.27 302.86L140.2 301.86L139.39 302.95L140.01 300.01L139.38 300.59L138.66 301.4L138.46 300.78L137.97 300.95L137.9 300L137.33 300.39L137.31 299.32L136.71 299.77L136.84 298.34L136.03 299.32L136.12 298.02L135.67 298.1L136.24 295.63L134.95 297.76L134.51 297.81L135.63 294.09L136.33 291.41L134 295.98L133.7 295.68L132.78 296.84L134.09 292.81L133.19 293.94L133.7 291.83L133.09 292.27L133.33 290.78"/>
<path fill="none" stroke="#f0633d" stroke-width="1.05" stroke-linejoin="round" d="M130.46 288.58L128.92 290.88L127.08 293.75L128.63 289.74L126.47 293.21L125.66 293.94L125.78 292.84L124.9 293.69L124.72 293.19L124.65 292.46L124.27 292.33L122.91 294.07L123.39 292.3L123.45 291.37L122.76 291.81L121.39 293.5L121.75 292L120.8 292.9L120.97 291.78L119.93 292.81L119.33 293.06L120.1 290.89L119.14 291.77L118.15 292.68L118.17 291.85L118.27 290.87L118.43 289.82L116.97 291.5L116.9 290.83L116.77 290.27L116.22 290.4L117.96 286.8L114.29 292.01L115.86 288.71L114.85 289.57L114.03 290.13L113.72 289.85L113.63 289.25L112.61 290.1L113.71 287.64L112.29 289.09L112.15 288.56L111.57 288.72L111.62 287.9L113.24 284.76L110.84 287.62L108.77 289.95L110.25 287.06L108.93 288.27L109.14 287.25L108.97 286.78L109.28 285.64L107.71 287.17L107.42 286.86L107.79 285.65L108.02 284.64L107.87 284.17L106.73 285.05L106.48 284.71L106.87 283.51L107.79 281.6L105.57 283.91L105.38 283.49L104.46 284.04L104.33 283.54L104.92 282.11L103.56 283.21L104.26 281.65L103.12 282.46L102.78 282.23L102.62 281.79L102.14 281.74L102.79 280.29L100.77 282.14L101.84 280.19L100.91 280.69L99.37 281.91L99.3 281.36L99.23 280.8L99.93 279.34L100.49 278.06L98.38 279.92L97.38 280.46L97.73 279.42L97.58 278.97L97.79 278.12L97.1 278.28L96.9 277.9L95.85 278.46L96.57 277.05L95.86 277.23L95.87 276.62L94.6 277.41L94.48 276.94L94.27 276.56L95.04 275.14L94.81 274.8L94.63 274.39L93.05 275.47L93.76 274.14L92.46 274.91L95.49 271.19L91.74 274.48L91.99 273.63L92.03 273.02L91.36 273.12L91.55 272.35L89.9 273.42L92.04 270.73L90.83 271.36L90.42 271.19L88.67 272.33L89.33 271.12L89.89 270.02L90.41 268.97L88.28 270.43L92.53 265.88L90.34 267.39L89.31 267.81L89.17 267.39L91.15 265.04L88.46 266.96L86.31 268.36L88.4 265.94L87.06 266.6L87.53 265.64L86.33 266.17L88.33 263.89L86.46 264.99L88.32 262.85L86.2 264.16L86.99 262.96L84.5 264.55L85.1 263.52L87.25 261.2L87.33 260.62L83.88 262.96L85.97 260.73L86.91 259.46L89.49 256.87L85.69 259.44L83.44 260.74L84.4 259.46L84.67 258.75L84.33 258.52L87.55 255.52L85.84 256.36L84.07 257.23"/>
<path fill="none" stroke="#f0633d" stroke-width="1.05" stroke-linejoin="round" d="M84.06 252.71L82.52 253.35L81.64 253.5L81.81 252.9L83.27 251.4L82.92 251.18L81.86 251.45L80.54 251.89L80.75 251.27L81.41 250.36L79.13 251.44L78.97 251.07L79.68 250.12L77.04 251.41L76.67 251.17L75.57 251.42L76.58 250.29L78.48 248.59L76.19 249.59L76.22 249.1L76.27 248.6L76.42 248.04L76.54 247.5L74.09 248.56L74.52 247.82L73.77 247.81L73.82 247.32L72.67 247.54L73.29 246.7L73.25 246.26L72.07 246.49L72.32 245.88L72.39 245.37L70.86 245.79L71.54 244.94L70.17 245.25L73.01 243.19L71.85 243.39L69.41 244.28L73.91 241.34L68.77 243.7L69.06 243.09L70.42 241.89L68.5 242.46L67.84 242.35L70.25 240.62L70.3 240.15L69.05 240.35L67.35 240.77L70.85 238.53L68.58 239.23L66.59 239.78L68.13 238.56L67.92 238.22L67.33 238.06L65.27 238.61L65.09 238.24L65.24 237.72L66.7 236.57L67.36 235.82L65.49 236.25L66.14 235.5L65.06 235.55L63.45 235.84L65.12 234.63L64.01 234.69L65.98 233.36L64.95 233.38L65.98 232.49L63.53 233.11L64.62 232.2L64.22 231.94L63.71 231.71L63.7 231.27L63.84 230.78L65.13 229.81L63.92 229.87L64.8 229.09L60.95 230.19L62.3 229.22L61.5 229.09L61.82 228.53L61.99 228.03L61.19 227.9L62.87 226.83L63.83 226.04L63.85 225.61L63.82 225.2L61.32 225.68L62.24 224.92L61.32 224.82L63.57 223.6L63.69 223.13L63.23 222.88L63.4 222.4L64.31 221.67L62.95 221.71L62.57 221.42L65.06 220.19L63.09 220.42L63.68 219.81L64.72 219.07L67.21 217.88L61.63 219.22L62.45 218.55L61.59 218.4L63.63 217.37L61.83 217.5L62.71 216.83L65.02 215.75L65.77 215.13L64.9 214.98L63.87 214.87L63.39 214.6L63.11 214.27L61.16 214.4L66.32 212.62L63.87 212.87L68.16 211.36L63.64 212.13"/>
<path fill="none" stroke="#f0633d" stroke-width="1.05" stroke-linejoin="round" d="M63.95 208.34L64.85 207.75L62.69 207.83L61.96 207.59L61.95 207.2L59.13 207.39L64.02 205.99L59.57 206.5L58.42 206.32L58.05 205.99L57.77 205.64L60.07 204.8L61.42 204.15L60.52 203.92L60.7 203.49L57.74 203.62L58.52 203.08L60.49 202.34L59.34 202.14L59.19 201.77L59.32 201.35L59.03 201L57.74 200.8L62.02 199.75L54.58 200.45L55.96 199.85L57.6 199.21L56.71 198.93L58.29 198.32L56.89 198.11L57.2 197.67L56.31 197.38L57.19 196.87L55.83 196.63L56.09 196.19L55.55 195.85L55.12 195.49L55.78 195.02L53.83 194.81L54.63 194.33L56.76 193.72L55.06 193.48L55.03 193.07L55.67 192.62L52.96 192.44L54.74 191.89L54.29 191.52L56.67 190.94L55.27 190.64L56.89 190.13L57.34 189.7L55.15 189.44L55.51 189.02L55.94 188.6L55.94 188.2L58.19 187.69L55.77 187.41L57.18 186.95L54.54 186.65L57 186.17L55.33 185.82L54.58 185.45L56.26 185L56.66 184.59L54.16 184.25L55.84 183.82L54.79 183.43L52.07 183.06L52.48 182.64L55.17 182.22L54.74 181.82L58.7 181.43L55.25 181.02L53.91 180.61L55.01 180.22L54.69 179.82L55.13 179.42L56.36 179.05L55.75 178.64L53.28 178.17L55.44 177.83L56.72 177.47L57.25 177.1L54.82 176.6L55.3 176.22L53.88 175.75L57.19 175.52L53.44 174.92L55.72 174.64L57.12 174.33L55.03 173.8L54.85 173.38L58.56 173.24L59.23 172.9L57.87 172.4L59.11 172.11L57.16 171.56L56.07 171.07L59.42 170.96L63.48 170.94L60.91 170.32L61.08 169.95L57.33 169.19L61.29 169.2L60.47 168.73L57.81 168.05L57.47 167.61L60.58 167.58L59.31 167.04"/>
<path fill="none" stroke="#f0633d" stroke-width="1.05" stroke-linejoin="round" d="M63.55 163.96L63.56 163.58L59.89 162.62L62.23 162.6L58.68 161.64L57.99 161.12L59.64 161L61.85 160.99L61.6 160.55L59.11 159.71L58.47 159.2L58.41 158.78L63.95 159.43L60.6 158.4L60.6 158L63.06 158.1L58.03 156.69L59.67 156.62L58.57 155.99L57.39 155.33L57.44 154.93L61.14 155.33L60.05 154.69L59.29 154.11L60.48 153.98L58.09 153.02L61.83 153.49L61.37 152.98L61.33 152.57L57.2 151.15L58.45 151.05L59.23 150.83L61.26 150.94L57.81 149.64L57.99 149.27L61.05 149.66L62.71 149.7L61.38 148.93L60.57 148.3L60.26 147.8L60.66 147.5L60.81 147.13L60.04 146.5L59.6 145.95L60.07 145.67L60.09 145.26L61.48 145.26L61.91 144.98L59.47 143.81L59.63 143.44L61.69 143.66L66.45 144.77L62.27 143.02L61.19 142.24L60.72 141.67L61.83 141.61L62.99 141.58L60.4 140.28L62.42 140.55L60.88 139.59L63.45 140.07L62.17 139.19L61.17 138.41L62.72 138.54L62.93 138.19L64.75 138.44L63.59 137.59L63.29 137.05L62.52 136.33L63.86 136.41L65.18 136.49L65.33 136.13L69.24 137.25L64.75 135.05L67.16 135.59L68.43 135.68L66 134.27L67.69 134.54L67.48 134.03L65.68 132.85L66.04 132.57L65.55 131.93L68.03 132.57L68.21 132.22L68.81 132.05L67.11 130.88L70.11 131.78L71.98 132.2L72.99 132.24L71.35 131.07L72.67 131.26L70.45 129.81L71.11 129.69L71.17 129.29L74.05 130.24L71.62 128.65L75.83 130.26"/>
<path fill="none" stroke="#f0633d" stroke-width="1.05" stroke-linejoin="round" d="M76.17 126.49L74.74 125.31L74.71 124.86L73.8 123.93L73.51 123.33L73.25 122.74L73.5 122.43L72.58 121.48L71.53 120.44L71.6 120.02L71.42 119.46L71.27 118.91L70.66 118.09L71.37 118.03L71.81 117.82L74.05 118.66L72.21 117.11L74.82 118.19L70.7 115.27L72.97 116.15L75.27 117.07L75.49 116.74L72.33 114.33L76.16 116.22L73.47 114.08L74.31 114.13L75.57 114.44L76.03 114.26L76.11 113.84L77.53 114.28L78.13 114.19L78.46 113.94L79.76 114.33L80.23 114.17L84.53 116.57L84.28 115.96L84.34 115.54"/>
<path fill="none" stroke="#f0633d" stroke-width="1.05" stroke-linejoin="round" d="M85.78 112.26L84.67 110.98L84.17 110.14L85.82 110.88L84.26 109.25L82.13 107.18L82.52 106.98L82.46 106.43L82.04 105.61L83.29 106.07L80.87 103.7L82.08 104.12L80.51 102.39L81.29 102.47L82.37 102.81L83.15 102.91L82.46 101.84L81.58 100.61L82.86 101.12L82.85 100.58L82.61 99.85L84.01 100.49L83.56 99.59L85.39 100.59L84.85 99.6L89.48 103L85.72 99.28L89.73 102.2L86.48 98.87L88.95 100.49L89 100L88.98 99.46L91.39 101.07L91.59 100.74L94.2 102.56"/>
<path fill="none" stroke="#f0633d" stroke-width="1.05" stroke-linejoin="round" d="M94.8 98.28L95.37 98.29L95 97.4L96.27 98.09L92.85 94.19L94.59 95.35L93.18 93.39L92.98 92.62L95.13 94.21L93.71 92.2L96.22 94.19L95.79 93.18L93.07 89.8L92.67 88.79L93.68 89.25L94.21 89.22L94.03 88.43L94.39 88.21L95.15 88.42L94.92 87.57L95.81 87.93L94.78 86.2L96.02 86.94L97.12 87.55L98.79 88.8L97.8 87.08L99.71 88.63L101.51 90.07L101.06 88.96L103.2 90.82L101.71 88.51L103.34 89.8L102.79 88.55L104.01 89.38L107 92.34"/>
<path fill="none" stroke="#f0633d" stroke-width="1.05" stroke-linejoin="round" d="M106.85 86.57L107.27 86.46L106.9 85.35L107 84.83L108.35 85.93L107.44 84.09L107.07 82.95L106.81 81.94L106.76 81.19L106.3 79.9L106.24 79.12L107.58 80.25L106.7 78.36L106.7 77.65L107.27 77.72L107.82 77.78L107.47 76.57L108.45 77.24L109.09 77.44L109.38 77.13L109.74 76.93L110.58 77.41L111 77.31L111.01 76.59L111.77 76.98L112.26 76.98L113.17 77.61L113.45 77.31L115.4 79.55L116.02 79.79L116.52 79.83L117.48 80.59"/>
<path fill="none" stroke="#f0633d" stroke-width="1.05" stroke-linejoin="round" d="M121.1 79.71L120.05 77.21L119.88 76.15L121.74 78.57L119.69 74.29L120.41 74.76L120.12 73.47L121.11 74.41L120.02 71.69L120.27 71.3L120.23 70.42L120.75 70.52L121.03 70.2L121.47 70.17L121.53 69.42L121.25 68.06L123.55 71.51L122.8 69.25L122.95 68.67L125.2 72.12L124.25 69.42L125.99 71.95L125.27 69.68L125.58 69.4L126.19 69.72L126.92 70.31L127.79 71.2L128.62 72L129.54 73.02L130.62 74.39"/>
<path fill="none" stroke="#f0633d" stroke-width="1.05" stroke-linejoin="round" d="M133.78 72.78L133.47 71.16L133.35 69.91L133.26 68.73L134.31 70.18L133.68 67.72L133.2 65.55L133.45 65.13L133.53 64.26L133.57 63.3L134.6 64.76L133.94 62.05L134.54 62.44L134.88 62.18L135.71 63.18L135.68 61.99L136.54 63.09L136.79 62.62L137.41 63.11L138.28 64.28L138.96 64.97L139.37 64.94L139.9 65.25L140.8 66.57L141.26 66.72L142.21 68.24"/>
<path fill="none" stroke="#f0633d" stroke-width="1.05" stroke-linejoin="round" d="M146.81 70.91L145.89 66.77L145.46 64.11L146.36 65.7L145.53 61.66L145.9 61.52L145.34 58.23L146.25 59.87L146.65 59.8L146.34 57.29L147.24 58.95L147.44 58.15L148.57 60.69L148.82 60.1L149.47 60.99L149.3 58.82L150.41 61.44L151.39 63.62L152.19 65.2L153.19 67.59"/>
<path fill="none" stroke="#f0633d" stroke-width="1.05" stroke-linejoin="round" d="M155.98 64.03L156.16 63.06L155.89 59.98L156.41 60.55L156.41 58.64L156.32 56.2L156.82 56.62L156.92 55.06L157.41 55.42L157.76 55.11L158.93 59.1L158.95 57.05L159.51 57.86L160.13 59.08L160.72 60.16L161.44 62.02L162.43 65.51"/>
<path fill="none" stroke="#f0633d" stroke-width="1.05" stroke-linejoin="round" d="M165.9 65.05L165.62 60.22L165.8 58.68L166.07 57.63L166.67 59.24L166.48 54.48L166.88 54.42L167.46 55.83L167.7 54.37L168.02 53.55L168.6 55.15L169.42 59.09L169.83 59.29L170.24 59.48L171.22 65.67"/>
<path fill="none" stroke="#f0633d" stroke-width="1.05" stroke-linejoin="round" d="M174.49 62.61L174.72 59.87L174.94 56.59L175.46 58.35L175.77 56.53L176.04 53.32L176.56 55.4L177.04 56.73L177.41 55.42L177.9 57.47L178.36 58.87L178.83 61.21"/>
</g>
<g class="tk">
<text transform="translate(182.49 14.8) rotate(-89.9)" >0 M</text>
<text transform="translate(193.47 15.18) rotate(-86.13)" >20 M</text>
<text transform="translate(204.4 16.28) rotate(-82.36)" >40 M</text>
<text transform="translate(215.24 18.1) rotate(-78.59)" >60 M</text>
<text transform="translate(225.93 20.63) rotate(-74.82)" >80 M</text>
<text transform="translate(236.43 23.85) rotate(-71.05)" >100 M</text>
<text transform="translate(246.7 27.76) rotate(-67.28)" >120 M</text>
<text transform="translate(256.69 32.33) rotate(-63.51)" >140 M</text>
<text transform="translate(266.36 37.55) rotate(-59.74)" >160 M</text>
<text transform="translate(275.66 43.4) rotate(-55.97)" >180 M</text>
<text transform="translate(284.56 49.84) rotate(-52.2)" >200 M</text>
<text transform="translate(293.01 56.86) rotate(-48.43)" >220 M</text>
<text transform="translate(300.99 64.42) rotate(-44.66)" >240 M</text>
<text transform="translate(308.45 72.48) rotate(-40.89)" >260 M</text>
<text transform="translate(315.36 81.02) rotate(-37.12)" >280 M</text>
<text transform="translate(321.7 89.99) rotate(-33.35)" >300 M</text>
<text transform="translate(327.43 99.36) rotate(-29.58)" >320 M</text>
<text transform="translate(332.54 109.09) rotate(-25.81)" >340 M</text>
<text transform="translate(337 119.13) rotate(-22.04)" >360 M</text>
<text class="cn" transform="translate(284.09 38.29) rotate(35.38)" text-anchor="middle">1</text>
<text transform="translate(341.34 131.17) rotate(-17.65)" >0 M</text>
<text transform="translate(344.32 141.74) rotate(-13.88)" >20 M</text>
<text transform="translate(346.61 152.49) rotate(-10.11)" >40 M</text>
<text transform="translate(348.18 163.36) rotate(-6.34)" >60 M</text>
<text transform="translate(349.03 174.31) rotate(-2.57)" >80 M</text>
<text transform="translate(349.16 185.3) rotate(1.2)" >100 M</text>
<text transform="translate(348.57 196.27) rotate(4.97)" >120 M</text>
<text transform="translate(347.26 207.18) rotate(8.74)" >140 M</text>
<text transform="translate(345.24 217.97) rotate(12.51)" >160 M</text>
<text transform="translate(342.5 228.62) rotate(16.28)" >180 M</text>
<text transform="translate(339.08 239.05) rotate(20.05)" >200 M</text>
<text transform="translate(334.97 249.25) rotate(23.82)" >220 M</text>
<text transform="translate(330.21 259.14) rotate(27.59)" >240 M</text>
<text transform="translate(324.8 268.71) rotate(31.36)" >260 M</text>
<text transform="translate(318.78 277.9) rotate(35.13)" >280 M</text>
<text transform="translate(312.17 286.67) rotate(38.9)" >300 M</text>
<text class="cn" transform="translate(355.11 214.63) rotate(100.75)" text-anchor="middle">2</text>
<text transform="translate(308.52 291.03) rotate(40.85)" >0 M</text>
<text transform="translate(301.07 299.1) rotate(44.62)" >20 M</text>
<text transform="translate(293.1 306.66) rotate(48.39)" >40 M</text>
<text transform="translate(284.65 313.68) rotate(52.16)" >60 M</text>
<text transform="translate(275.75 320.14) rotate(55.93)" >80 M</text>
<text transform="translate(266.46 325.99) rotate(59.7)" >100 M</text>
<text transform="translate(256.79 331.22) rotate(63.47)" >120 M</text>
<text transform="translate(246.81 335.8) rotate(67.24)" >140 M</text>
<text transform="translate(236.54 339.71) rotate(71.01)" >160 M</text>
<text transform="translate(226.04 342.94) rotate(74.78)" >180 M</text>
<text transform="translate(215.35 345.48) rotate(78.55)" >200 M</text>
<text transform="translate(204.52 347.3) rotate(82.32)" >220 M</text>
<text class="cn" transform="translate(263.47 337.91) rotate(152.5)" text-anchor="middle">3</text>
<text transform="translate(194.29 348.36) rotate(85.85)" >0 M</text>
<text transform="translate(183.31 348.8) rotate(89.62)" >20 M</text>
<text transform="translate(172.32 348.51) rotate(273.39)" text-anchor="end">40 M</text>
<text transform="translate(161.39 347.5) rotate(277.16)" text-anchor="end">60 M</text>
<text transform="translate(150.54 345.77) rotate(280.93)" text-anchor="end">80 M</text>
<text transform="translate(139.82 343.33) rotate(284.7)" text-anchor="end">100 M</text>
<text transform="translate(129.29 340.2) rotate(288.47)" text-anchor="end">120 M</text>
<text transform="translate(118.99 336.38) rotate(292.24)" text-anchor="end">140 M</text>
<text class="cn" transform="translate(151.64 355.13) rotate(190)" text-anchor="middle">4</text>
<text transform="translate(109.39 332.09) rotate(295.85)" text-anchor="end">0 M</text>
<text transform="translate(99.66 326.98) rotate(299.62)" text-anchor="end">20 M</text>
<text transform="translate(90.29 321.24) rotate(303.39)" text-anchor="end">40 M</text>
<text transform="translate(81.32 314.89) rotate(307.16)" text-anchor="end">60 M</text>
<text transform="translate(72.79 307.97) rotate(310.93)" text-anchor="end">80 M</text>
<text transform="translate(64.73 300.5) rotate(314.7)" text-anchor="end">100 M</text>
<text transform="translate(57.18 292.52) rotate(318.47)" text-anchor="end">120 M</text>
<text transform="translate(50.17 284.06) rotate(322.24)" text-anchor="end">140 M</text>
<text class="cn" transform="translate(71.08 318.29) rotate(219.15)" text-anchor="middle">5</text>
<text transform="translate(46.84 279.61) rotate(324.15)" text-anchor="end">0 M</text>
<text transform="translate(40.7 270.49) rotate(327.92)" text-anchor="end">20 M</text>
<text transform="translate(35.17 261) rotate(331.69)" text-anchor="end">40 M</text>
<text transform="translate(30.28 251.16) rotate(335.46)" text-anchor="end">60 M</text>
<text transform="translate(26.05 241.02) rotate(339.23)" text-anchor="end">80 M</text>
<text transform="translate(22.5 230.63) rotate(343)" text-anchor="end">100 M</text>
<text class="cn" transform="translate(22.82 256.46) rotate(244.9)" text-anchor="middle">6</text>
<text transform="translate(19.25 218.37) rotate(347.35)" text-anchor="end">0 M</text>
<text transform="translate(17.2 207.58) rotate(351.12)" text-anchor="end">20 M</text>
<text transform="translate(15.86 196.67) rotate(354.89)" text-anchor="end">40 M</text>
<text transform="translate(15.25 185.71) rotate(358.66)" text-anchor="end">60 M</text>
<text transform="translate(15.35 174.72) rotate(362.43)" text-anchor="end">80 M</text>
<text transform="translate(16.18 163.76) rotate(366.2)" text-anchor="end">100 M</text>
<text class="cn" transform="translate(6.43 190.7) rotate(267.1)" text-anchor="middle">7</text>
<text transform="translate(17.06 156.97) rotate(368.55)" text-anchor="end">0 M</text>
<text transform="translate(19.05 146.17) rotate(372.32)" text-anchor="end">20 M</text>
<text transform="translate(21.74 135.52) rotate(376.09)" text-anchor="end">40 M</text>
<text transform="translate(25.13 125.07) rotate(379.86)" text-anchor="end">60 M</text>
<text transform="translate(29.2 114.86) rotate(383.63)" text-anchor="end">80 M</text>
<text class="cn" transform="translate(14.07 129.76) rotate(287.2)" text-anchor="middle">8</text>
<text transform="translate(34.14 104.56) rotate(387.55)" text-anchor="end">0 M</text>
<text transform="translate(39.54 94.99) rotate(391.32)" text-anchor="end">20 M</text>
<text class="cn" transform="translate(31.06 91.61) rotate(300.82)" text-anchor="middle">9</text>
<text transform="translate(46.75 84.11) rotate(395.8)" text-anchor="end">0 M</text>
<text transform="translate(53.47 75.42) rotate(399.57)" text-anchor="end">20 M</text>
<text class="cn" transform="translate(45.23 71.28) rotate(308.9)" text-anchor="middle">10</text>
<text transform="translate(61.46 66.42) rotate(403.7)" text-anchor="end">0 M</text>
<text transform="translate(69.31 58.73) rotate(407.47)" text-anchor="end">20 M</text>
<text class="cn" transform="translate(61.78 53.45) rotate(316.83)" text-anchor="middle">11</text>
<text transform="translate(78.58 50.83) rotate(411.65)" text-anchor="end">0 M</text>
<text transform="translate(87.42 44.3) rotate(415.42)" text-anchor="end">20 M</text>
<text class="cn" transform="translate(80.06 38.47) rotate(324.52)" text-anchor="middle">12</text>
<text transform="translate(96.44 38.5) rotate(419.1)" text-anchor="end">0 M</text>
<text transform="translate(106.05 33.17) rotate(422.87)" text-anchor="end">20 M</text>
<text class="cn" transform="translate(98.83 26.8) rotate(331.73)" text-anchor="middle">13</text>
<text transform="translate(114.41 29.18) rotate(426.05)" text-anchor="end">0 M</text>
<text transform="translate(124.59 25.05) rotate(429.82)" text-anchor="end">20 M</text>
<text class="cn" transform="translate(117.2 18.24) rotate(338.32)" text-anchor="middle">14</text>
<text transform="translate(131.43 22.71) rotate(432.3)" text-anchor="end">0 M</text>
<text class="cn" transform="translate(133.76 12.6) rotate(344.02)" text-anchor="middle">15</text>
<text transform="translate(145.91 18.79) rotate(437.45)" text-anchor="end">0 M</text>
<text class="cn" transform="translate(148.32 9.09) rotate(348.9)" text-anchor="middle">16</text>
<text transform="translate(159.1 16.41) rotate(442.05)" text-anchor="end">0 M</text>
<text class="cn" transform="translate(161.74 6.99) rotate(353.32)" text-anchor="middle">17</text>
<text transform="translate(171.42 15.15) rotate(446.3)" text-anchor="end">0 M</text>
<text class="cn" transform="translate(174.06 5.99) rotate(357.35)" text-anchor="middle">18</text>
</g>
<g clip-path="url(#pc)">
<rect x="70" y="70" width="226" height="226" fill="#fff"/>
<defs>
<filter id="bl3" x="-20%" y="-20%" width="140%" height="140%"><feGaussianBlur stdDeviation="2.2"/></filter>
<filter id="bl1" x="-10%" y="-10%" width="120%" height="120%"><feGaussianBlur stdDeviation="0.55"/></filter>
<filter id="bl2" x="-10%" y="-10%" width="120%" height="120%"><feGaussianBlur stdDeviation="1.2"/></filter>
<pattern id="chk" width="18" height="22" patternUnits="userSpaceOnUse" patternTransform="translate(135.5 140.5) rotate(-27)">
<rect width="18" height="22" fill="#76b828"/>
<polygon points="2,1 12,0.8 14.5,3.4 12,5.8 2,5.6 0,3.4" fill="#cfe3ef"/>
<polygon points="0,6 4.5,5.2 9,6.6 13.5,5.2 18,6 18,10.6 13.5,11.6 9,10.2 4.5,11.6 0,10.6" fill="#121a0a"/>
<polygon points="1,12 8,12 8.5,16 1,16" fill="#96d236"/>
<polygon points="10,12 17,12 17.5,16 10,16" fill="#62a420"/>
<polygon points="11,16.8 21,16.6 23,19 21,21.4 11,21.2 9,19" fill="#a6d23c"/>
<polygon points="-7,16.8 3,16.6 5,19 3,21.4 -7,21.2" fill="#a6d23c"/>
</pattern>
<pattern id="chkb" width="18" height="22" patternUnits="userSpaceOnUse" patternTransform="translate(250 90) rotate(55)">
<rect width="18" height="22" fill="#76b828"/>
<polygon points="2,1 12,0.8 14.5,3.4 12,5.8 2,5.6 0,3.4" fill="#c4dce8"/>
<polygon points="0,6 4.5,5.2 9,6.6 13.5,5.2 18,6 18,10.6 13.5,11.6 9,10.2 4.5,11.6 0,10.6" fill="#121a0a"/>
<polygon points="1,12 8,12 8.5,16 1,16" fill="#96d236"/>
<polygon points="10,12 17,12 17.5,16 10,16" fill="#62a420"/>
<polygon points="11,16.8 21,16.6 23,19 21,21.4 11,21.2 9,19" fill="#a6d23c"/>
<polygon points="-7,16.8 3,16.6 5,19 3,21.4 -7,21.2" fill="#a6d23c"/>
</pattern>
<pattern id="chk2" width="13" height="24" patternUnits="userSpaceOnUse" patternTransform="translate(80 196) rotate(-25)">
<rect width="13" height="24" fill="#8cc42a"/>
<rect x="0" y="0" width="13" height="5" fill="#161a0e"/>
<rect x="0.4" y="5.6" width="5.8" height="5.6" rx="1.8" fill="#b4e440"/>
<rect x="6.9" y="5.6" width="5.8" height="5.6" rx="1.8" fill="#d0dcc6"/>
<rect x="3.6" y="11.8" width="5.8" height="5.6" rx="1.8" fill="#a8dc3a"/>
<rect x="10.1" y="11.8" width="5.8" height="5.6" rx="1.8" fill="#c6da9c"/>
<rect x="-2.9" y="11.8" width="5.8" height="5.6" rx="1.8" fill="#c6da9c"/>
<rect x="0.4" y="18" width="5.8" height="5.4" rx="1.8" fill="#9cd232"/>
<rect x="6.9" y="18" width="5.8" height="5.4" rx="1.8" fill="#b8d884"/>
</pattern>
<pattern id="chk3" width="10" height="9" patternUnits="userSpaceOnUse" patternTransform="translate(70 160) rotate(-20)">
<rect width="10" height="9" fill="#5e9c2a"/>
<rect x="0.6" y="1" width="8" height="4.2" rx="1.6" fill="#d0e4f0"/>
<rect x="0" y="6" width="10" height="1.6" fill="#1e2a14"/>
</pattern>
<clipPath id="bbclip"><path d="M60 215 L78 162 L86 155 L93.5 147.5 L104 126 L118 108.5 L135 93 L155.4 81.5 L166 74 L170 50 L310 50 L310 96 L262 96 L240 150 L200 150 L120 175 L60 220 Z"/></clipPath>
</defs>
<!-- blurred back body -->
<path d="M60 215 L78 162 L86 155 L93.5 147.5 L104 126 L118 108.5 L135 93 L155.4 81.5 L166 74 L170 50 L310 50 L310 96 L262 96 L240 150 L200 150 L120 175 L60 220 Z" fill="#7aae34" filter="url(#bl2)"/>
<g clip-path="url(#bbclip)"><g filter="url(#bl3)">
<g fill="#a6d046"><ellipse cx="64.0" cy="165.4" rx="5.5" ry="2.8" transform="rotate(-30 64.0 165.4)"/><ellipse cx="70.3" cy="176.7" rx="5.5" ry="2.8" transform="rotate(-30 70.3 176.7)"/><ellipse cx="63.4" cy="135.9" rx="5.5" ry="2.8" transform="rotate(-30 63.4 135.9)"/><ellipse cx="69.6" cy="147.8" rx="5.5" ry="2.8" transform="rotate(-30 69.6 147.8)"/><ellipse cx="75.5" cy="157.8" rx="5.5" ry="2.8" transform="rotate(-30 75.5 157.8)"/><ellipse cx="82.4" cy="168.3" rx="5.5" ry="2.8" transform="rotate(-30 82.4 168.3)"/><ellipse cx="89.8" cy="178.9" rx="5.5" ry="2.8" transform="rotate(-30 89.8 178.9)"/><ellipse cx="63.7" cy="105.6" rx="5.5" ry="2.8" transform="rotate(-30 63.7 105.6)"/><ellipse cx="70.3" cy="116.4" rx="5.5" ry="2.8" transform="rotate(-30 70.3 116.4)"/><ellipse cx="75.7" cy="128.5" rx="5.5" ry="2.8" transform="rotate(-30 75.7 128.5)"/><ellipse cx="82.8" cy="139.6" rx="5.5" ry="2.8" transform="rotate(-30 82.8 139.6)"/><ellipse cx="88.4" cy="149.3" rx="5.5" ry="2.8" transform="rotate(-30 88.4 149.3)"/><ellipse cx="70.5" cy="87.7" rx="5.5" ry="2.8" transform="rotate(-30 70.5 87.7)"/><ellipse cx="76.7" cy="97.4" rx="5.5" ry="2.8" transform="rotate(-30 76.7 97.4)"/><ellipse cx="89.6" cy="120.0" rx="5.5" ry="2.8" transform="rotate(-30 89.6 120.0)"/><ellipse cx="103.2" cy="141.3" rx="5.5" ry="2.8" transform="rotate(-30 103.2 141.3)"/><ellipse cx="108.6" cy="152.4" rx="5.5" ry="2.8" transform="rotate(-30 108.6 152.4)"/><ellipse cx="76.8" cy="68.3" rx="5.5" ry="2.8" transform="rotate(-30 76.8 68.3)"/><ellipse cx="83.7" cy="80.4" rx="5.5" ry="2.8" transform="rotate(-30 83.7 80.4)"/><ellipse cx="96.2" cy="101.4" rx="5.5" ry="2.8" transform="rotate(-30 96.2 101.4)"/><ellipse cx="101.5" cy="112.7" rx="5.5" ry="2.8" transform="rotate(-30 101.5 112.7)"/><ellipse cx="108.8" cy="122.7" rx="5.5" ry="2.8" transform="rotate(-30 108.8 122.7)"/><ellipse cx="114.8" cy="134.7" rx="5.5" ry="2.8" transform="rotate(-30 114.8 134.7)"/><ellipse cx="122.7" cy="146.4" rx="5.5" ry="2.8" transform="rotate(-30 122.7 146.4)"/><ellipse cx="129.0" cy="157.1" rx="5.5" ry="2.8" transform="rotate(-30 129.0 157.1)"/><ellipse cx="89.9" cy="60.9" rx="5.5" ry="2.8" transform="rotate(-30 89.9 60.9)"/><ellipse cx="101.9" cy="82.8" rx="5.5" ry="2.8" transform="rotate(-30 101.9 82.8)"/><ellipse cx="108.5" cy="92.9" rx="5.5" ry="2.8" transform="rotate(-30 108.5 92.9)"/><ellipse cx="120.9" cy="115.1" rx="5.5" ry="2.8" transform="rotate(-30 120.9 115.1)"/><ellipse cx="128.7" cy="127.1" rx="5.5" ry="2.8" transform="rotate(-30 128.7 127.1)"/><ellipse cx="135.2" cy="137.4" rx="5.5" ry="2.8" transform="rotate(-30 135.2 137.4)"/><ellipse cx="107.9" cy="64.2" rx="5.5" ry="2.8" transform="rotate(-30 107.9 64.2)"/><ellipse cx="121.5" cy="85.6" rx="5.5" ry="2.8" transform="rotate(-30 121.5 85.6)"/><ellipse cx="128.3" cy="97.3" rx="5.5" ry="2.8" transform="rotate(-30 128.3 97.3)"/><ellipse cx="155.2" cy="140.7" rx="5.5" ry="2.8" transform="rotate(-30 155.2 140.7)"/><ellipse cx="160.3" cy="152.8" rx="5.5" ry="2.8" transform="rotate(-30 160.3 152.8)"/><ellipse cx="129.1" cy="67.7" rx="5.5" ry="2.8" transform="rotate(-30 129.1 67.7)"/><ellipse cx="134.3" cy="79.1" rx="5.5" ry="2.8" transform="rotate(-30 134.3 79.1)"/><ellipse cx="141.2" cy="88.8" rx="5.5" ry="2.8" transform="rotate(-30 141.2 88.8)"/><ellipse cx="154.3" cy="111.4" rx="5.5" ry="2.8" transform="rotate(-30 154.3 111.4)"/><ellipse cx="167.9" cy="132.3" rx="5.5" ry="2.8" transform="rotate(-30 167.9 132.3)"/><ellipse cx="147.2" cy="70.5" rx="5.5" ry="2.8" transform="rotate(-30 147.2 70.5)"/><ellipse cx="153.8" cy="81.0" rx="5.5" ry="2.8" transform="rotate(-30 153.8 81.0)"/><ellipse cx="160.1" cy="92.8" rx="5.5" ry="2.8" transform="rotate(-30 160.1 92.8)"/><ellipse cx="167.7" cy="103.0" rx="5.5" ry="2.8" transform="rotate(-30 167.7 103.0)"/><ellipse cx="172.9" cy="114.7" rx="5.5" ry="2.8" transform="rotate(-30 172.9 114.7)"/><ellipse cx="180.9" cy="125.5" rx="5.5" ry="2.8" transform="rotate(-30 180.9 125.5)"/><ellipse cx="186.0" cy="136.1" rx="5.5" ry="2.8" transform="rotate(-30 186.0 136.1)"/><ellipse cx="161.2" cy="63.2" rx="5.5" ry="2.8" transform="rotate(-30 161.2 63.2)"/><ellipse cx="166.6" cy="72.7" rx="5.5" ry="2.8" transform="rotate(-30 166.6 72.7)"/><ellipse cx="173.4" cy="85.4" rx="5.5" ry="2.8" transform="rotate(-30 173.4 85.4)"/><ellipse cx="181.2" cy="94.8" rx="5.5" ry="2.8" transform="rotate(-30 181.2 94.8)"/><ellipse cx="199.2" cy="128.6" rx="5.5" ry="2.8" transform="rotate(-30 199.2 128.6)"/><ellipse cx="181.2" cy="66.4" rx="5.5" ry="2.8" transform="rotate(-30 181.2 66.4)"/><ellipse cx="186.9" cy="77.5" rx="5.5" ry="2.8" transform="rotate(-30 186.9 77.5)"/><ellipse cx="200.2" cy="98.9" rx="5.5" ry="2.8" transform="rotate(-30 200.2 98.9)"/><ellipse cx="205.4" cy="108.9" rx="5.5" ry="2.8" transform="rotate(-30 205.4 108.9)"/><ellipse cx="211.9" cy="121.1" rx="5.5" ry="2.8" transform="rotate(-30 211.9 121.1)"/><ellipse cx="200.6" cy="69.7" rx="5.5" ry="2.8" transform="rotate(-30 200.6 69.7)"/><ellipse cx="206.2" cy="79.2" rx="5.5" ry="2.8" transform="rotate(-30 206.2 79.2)"/><ellipse cx="213.0" cy="90.3" rx="5.5" ry="2.8" transform="rotate(-30 213.0 90.3)"/><ellipse cx="225.0" cy="113.3" rx="5.5" ry="2.8" transform="rotate(-30 225.0 113.3)"/><ellipse cx="212.7" cy="61.6" rx="5.5" ry="2.8" transform="rotate(-30 212.7 61.6)"/><ellipse cx="218.6" cy="72.2" rx="5.5" ry="2.8" transform="rotate(-30 218.6 72.2)"/><ellipse cx="226.3" cy="83.1" rx="5.5" ry="2.8" transform="rotate(-30 226.3 83.1)"/><ellipse cx="232.3" cy="95.0" rx="5.5" ry="2.8" transform="rotate(-30 232.3 95.0)"/><ellipse cx="232.8" cy="63.4" rx="5.5" ry="2.8" transform="rotate(-30 232.8 63.4)"/><ellipse cx="244.5" cy="86.2" rx="5.5" ry="2.8" transform="rotate(-30 244.5 86.2)"/><ellipse cx="252.5" cy="96.6" rx="5.5" ry="2.8" transform="rotate(-30 252.5 96.6)"/><ellipse cx="251.2" cy="67.3" rx="5.5" ry="2.8" transform="rotate(-30 251.2 67.3)"/><ellipse cx="257.8" cy="77.5" rx="5.5" ry="2.8" transform="rotate(-30 257.8 77.5)"/><ellipse cx="265.6" cy="89.9" rx="5.5" ry="2.8" transform="rotate(-30 265.6 89.9)"/><ellipse cx="272.2" cy="70.3" rx="5.5" ry="2.8" transform="rotate(-30 272.2 70.3)"/><ellipse cx="278.1" cy="82.0" rx="5.5" ry="2.8" transform="rotate(-30 278.1 82.0)"/></g>
<g fill="#c6dce6"><ellipse cx="60.7" cy="159.9" rx="5.2" ry="3.5" transform="rotate(-30 60.7 159.9)"/><ellipse cx="67.0" cy="171.2" rx="5.2" ry="3.5" transform="rotate(-30 67.0 171.2)"/><ellipse cx="60.1" cy="130.4" rx="5.2" ry="3.5" transform="rotate(-30 60.1 130.4)"/><ellipse cx="72.3" cy="152.3" rx="5.2" ry="3.5" transform="rotate(-30 72.3 152.3)"/><ellipse cx="79.1" cy="162.8" rx="5.2" ry="3.5" transform="rotate(-30 79.1 162.8)"/><ellipse cx="86.6" cy="173.4" rx="5.2" ry="3.5" transform="rotate(-30 86.6 173.4)"/><ellipse cx="60.5" cy="100.1" rx="5.2" ry="3.5" transform="rotate(-30 60.5 100.1)"/><ellipse cx="67.1" cy="110.9" rx="5.2" ry="3.5" transform="rotate(-30 67.1 110.9)"/><ellipse cx="79.5" cy="134.1" rx="5.2" ry="3.5" transform="rotate(-30 79.5 134.1)"/><ellipse cx="85.1" cy="143.8" rx="5.2" ry="3.5" transform="rotate(-30 85.1 143.8)"/><ellipse cx="92.6" cy="154.9" rx="5.2" ry="3.5" transform="rotate(-30 92.6 154.9)"/><ellipse cx="100.0" cy="167.5" rx="5.2" ry="3.5" transform="rotate(-30 100.0 167.5)"/><ellipse cx="60.5" cy="71.4" rx="5.2" ry="3.5" transform="rotate(-30 60.5 71.4)"/><ellipse cx="67.3" cy="82.2" rx="5.2" ry="3.5" transform="rotate(-30 67.3 82.2)"/><ellipse cx="73.4" cy="91.9" rx="5.2" ry="3.5" transform="rotate(-30 73.4 91.9)"/><ellipse cx="79.2" cy="104.1" rx="5.2" ry="3.5" transform="rotate(-30 79.2 104.1)"/><ellipse cx="86.3" cy="114.5" rx="5.2" ry="3.5" transform="rotate(-30 86.3 114.5)"/><ellipse cx="92.3" cy="126.8" rx="5.2" ry="3.5" transform="rotate(-30 92.3 126.8)"/><ellipse cx="100.0" cy="135.8" rx="5.2" ry="3.5" transform="rotate(-30 100.0 135.8)"/><ellipse cx="105.3" cy="146.9" rx="5.2" ry="3.5" transform="rotate(-30 105.3 146.9)"/><ellipse cx="111.5" cy="159.6" rx="5.2" ry="3.5" transform="rotate(-30 111.5 159.6)"/><ellipse cx="80.5" cy="74.9" rx="5.2" ry="3.5" transform="rotate(-30 80.5 74.9)"/><ellipse cx="86.0" cy="85.9" rx="5.2" ry="3.5" transform="rotate(-30 86.0 85.9)"/><ellipse cx="98.2" cy="107.2" rx="5.2" ry="3.5" transform="rotate(-30 98.2 107.2)"/><ellipse cx="105.6" cy="117.2" rx="5.2" ry="3.5" transform="rotate(-30 105.6 117.2)"/><ellipse cx="111.5" cy="129.2" rx="5.2" ry="3.5" transform="rotate(-30 111.5 129.2)"/><ellipse cx="119.5" cy="140.9" rx="5.2" ry="3.5" transform="rotate(-30 119.5 140.9)"/><ellipse cx="125.8" cy="151.6" rx="5.2" ry="3.5" transform="rotate(-30 125.8 151.6)"/><ellipse cx="86.6" cy="55.4" rx="5.2" ry="3.5" transform="rotate(-30 86.6 55.4)"/><ellipse cx="92.0" cy="66.8" rx="5.2" ry="3.5" transform="rotate(-30 92.0 66.8)"/><ellipse cx="98.7" cy="77.3" rx="5.2" ry="3.5" transform="rotate(-30 98.7 77.3)"/><ellipse cx="112.1" cy="99.2" rx="5.2" ry="3.5" transform="rotate(-30 112.1 99.2)"/><ellipse cx="117.7" cy="109.6" rx="5.2" ry="3.5" transform="rotate(-30 117.7 109.6)"/><ellipse cx="125.4" cy="121.6" rx="5.2" ry="3.5" transform="rotate(-30 125.4 121.6)"/><ellipse cx="132.0" cy="131.9" rx="5.2" ry="3.5" transform="rotate(-30 132.0 131.9)"/><ellipse cx="144.1" cy="153.8" rx="5.2" ry="3.5" transform="rotate(-30 144.1 153.8)"/><ellipse cx="104.7" cy="58.7" rx="5.2" ry="3.5" transform="rotate(-30 104.7 58.7)"/><ellipse cx="111.5" cy="68.8" rx="5.2" ry="3.5" transform="rotate(-30 111.5 68.8)"/><ellipse cx="125.1" cy="91.8" rx="5.2" ry="3.5" transform="rotate(-30 125.1 91.8)"/><ellipse cx="138.8" cy="114.3" rx="5.2" ry="3.5" transform="rotate(-30 138.8 114.3)"/><ellipse cx="145.1" cy="124.2" rx="5.2" ry="3.5" transform="rotate(-30 145.1 124.2)"/><ellipse cx="152.0" cy="135.2" rx="5.2" ry="3.5" transform="rotate(-30 152.0 135.2)"/><ellipse cx="157.1" cy="147.3" rx="5.2" ry="3.5" transform="rotate(-30 157.1 147.3)"/><ellipse cx="125.9" cy="62.2" rx="5.2" ry="3.5" transform="rotate(-30 125.9 62.2)"/><ellipse cx="131.0" cy="73.6" rx="5.2" ry="3.5" transform="rotate(-30 131.0 73.6)"/><ellipse cx="137.9" cy="83.3" rx="5.2" ry="3.5" transform="rotate(-30 137.9 83.3)"/><ellipse cx="143.8" cy="93.9" rx="5.2" ry="3.5" transform="rotate(-30 143.8 93.9)"/><ellipse cx="156.8" cy="117.1" rx="5.2" ry="3.5" transform="rotate(-30 156.8 117.1)"/><ellipse cx="164.6" cy="126.8" rx="5.2" ry="3.5" transform="rotate(-30 164.6 126.8)"/><ellipse cx="143.9" cy="65.0" rx="5.2" ry="3.5" transform="rotate(-30 143.9 65.0)"/><ellipse cx="150.6" cy="75.5" rx="5.2" ry="3.5" transform="rotate(-30 150.6 75.5)"/><ellipse cx="156.9" cy="87.3" rx="5.2" ry="3.5" transform="rotate(-30 156.9 87.3)"/><ellipse cx="164.4" cy="97.5" rx="5.2" ry="3.5" transform="rotate(-30 164.4 97.5)"/><ellipse cx="169.7" cy="109.2" rx="5.2" ry="3.5" transform="rotate(-30 169.7 109.2)"/><ellipse cx="177.7" cy="120.0" rx="5.2" ry="3.5" transform="rotate(-30 177.7 120.0)"/><ellipse cx="182.7" cy="130.6" rx="5.2" ry="3.5" transform="rotate(-30 182.7 130.6)"/><ellipse cx="157.9" cy="57.7" rx="5.2" ry="3.5" transform="rotate(-30 157.9 57.7)"/><ellipse cx="163.4" cy="67.2" rx="5.2" ry="3.5" transform="rotate(-30 163.4 67.2)"/><ellipse cx="170.2" cy="79.9" rx="5.2" ry="3.5" transform="rotate(-30 170.2 79.9)"/><ellipse cx="190.2" cy="111.2" rx="5.2" ry="3.5" transform="rotate(-30 190.2 111.2)"/><ellipse cx="196.0" cy="123.1" rx="5.2" ry="3.5" transform="rotate(-30 196.0 123.1)"/><ellipse cx="183.6" cy="72.0" rx="5.2" ry="3.5" transform="rotate(-30 183.6 72.0)"/><ellipse cx="190.8" cy="81.8" rx="5.2" ry="3.5" transform="rotate(-30 190.8 81.8)"/><ellipse cx="197.0" cy="93.4" rx="5.2" ry="3.5" transform="rotate(-30 197.0 93.4)"/><ellipse cx="202.1" cy="103.4" rx="5.2" ry="3.5" transform="rotate(-30 202.1 103.4)"/><ellipse cx="208.6" cy="115.6" rx="5.2" ry="3.5" transform="rotate(-30 208.6 115.6)"/><ellipse cx="197.3" cy="64.2" rx="5.2" ry="3.5" transform="rotate(-30 197.3 64.2)"/><ellipse cx="209.4" cy="56.1" rx="5.2" ry="3.5" transform="rotate(-30 209.4 56.1)"/><ellipse cx="215.4" cy="66.7" rx="5.2" ry="3.5" transform="rotate(-30 215.4 66.7)"/><ellipse cx="223.1" cy="77.6" rx="5.2" ry="3.5" transform="rotate(-30 223.1 77.6)"/><ellipse cx="229.0" cy="89.5" rx="5.2" ry="3.5" transform="rotate(-30 229.0 89.5)"/><ellipse cx="235.7" cy="99.1" rx="5.2" ry="3.5" transform="rotate(-30 235.7 99.1)"/><ellipse cx="229.6" cy="57.9" rx="5.2" ry="3.5" transform="rotate(-30 229.6 57.9)"/><ellipse cx="236.4" cy="68.9" rx="5.2" ry="3.5" transform="rotate(-30 236.4 68.9)"/><ellipse cx="241.3" cy="80.7" rx="5.2" ry="3.5" transform="rotate(-30 241.3 80.7)"/><ellipse cx="249.3" cy="91.1" rx="5.2" ry="3.5" transform="rotate(-30 249.3 91.1)"/><ellipse cx="247.9" cy="61.8" rx="5.2" ry="3.5" transform="rotate(-30 247.9 61.8)"/><ellipse cx="254.5" cy="72.0" rx="5.2" ry="3.5" transform="rotate(-30 254.5 72.0)"/><ellipse cx="262.3" cy="84.4" rx="5.2" ry="3.5" transform="rotate(-30 262.3 84.4)"/><ellipse cx="269.0" cy="64.8" rx="5.2" ry="3.5" transform="rotate(-30 269.0 64.8)"/></g>
<g fill="#2a4410"><ellipse cx="70.5" cy="161.5" rx="4.6" ry="2.6" transform="rotate(-30 70.5 161.5)"/><ellipse cx="76.8" cy="172.8" rx="4.6" ry="2.6" transform="rotate(-30 76.8 172.8)"/><ellipse cx="69.9" cy="132.0" rx="4.6" ry="2.6" transform="rotate(-30 69.9 132.0)"/><ellipse cx="76.1" cy="143.9" rx="4.6" ry="2.6" transform="rotate(-30 76.1 143.9)"/><ellipse cx="96.3" cy="175.0" rx="4.6" ry="2.6" transform="rotate(-30 96.3 175.0)"/><ellipse cx="70.2" cy="101.7" rx="4.6" ry="2.6" transform="rotate(-30 70.2 101.7)"/><ellipse cx="76.8" cy="112.5" rx="4.6" ry="2.6" transform="rotate(-30 76.8 112.5)"/><ellipse cx="89.3" cy="135.7" rx="4.6" ry="2.6" transform="rotate(-30 89.3 135.7)"/><ellipse cx="94.9" cy="145.4" rx="4.6" ry="2.6" transform="rotate(-30 94.9 145.4)"/><ellipse cx="102.4" cy="156.5" rx="4.6" ry="2.6" transform="rotate(-30 102.4 156.5)"/><ellipse cx="109.7" cy="169.1" rx="4.6" ry="2.6" transform="rotate(-30 109.7 169.1)"/><ellipse cx="70.2" cy="73.0" rx="4.6" ry="2.6" transform="rotate(-30 70.2 73.0)"/><ellipse cx="77.0" cy="83.8" rx="4.6" ry="2.6" transform="rotate(-30 77.0 83.8)"/><ellipse cx="83.2" cy="93.5" rx="4.6" ry="2.6" transform="rotate(-30 83.2 93.5)"/><ellipse cx="89.0" cy="105.7" rx="4.6" ry="2.6" transform="rotate(-30 89.0 105.7)"/><ellipse cx="96.1" cy="116.1" rx="4.6" ry="2.6" transform="rotate(-30 96.1 116.1)"/><ellipse cx="102.0" cy="128.4" rx="4.6" ry="2.6" transform="rotate(-30 102.0 128.4)"/><ellipse cx="109.7" cy="137.4" rx="4.6" ry="2.6" transform="rotate(-30 109.7 137.4)"/><ellipse cx="115.1" cy="148.5" rx="4.6" ry="2.6" transform="rotate(-30 115.1 148.5)"/><ellipse cx="121.3" cy="161.2" rx="4.6" ry="2.6" transform="rotate(-30 121.3 161.2)"/><ellipse cx="83.3" cy="64.4" rx="4.6" ry="2.6" transform="rotate(-30 83.3 64.4)"/><ellipse cx="95.7" cy="87.5" rx="4.6" ry="2.6" transform="rotate(-30 95.7 87.5)"/><ellipse cx="102.7" cy="97.5" rx="4.6" ry="2.6" transform="rotate(-30 102.7 97.5)"/><ellipse cx="108.0" cy="108.8" rx="4.6" ry="2.6" transform="rotate(-30 108.0 108.8)"/><ellipse cx="115.3" cy="118.8" rx="4.6" ry="2.6" transform="rotate(-30 115.3 118.8)"/><ellipse cx="121.3" cy="130.8" rx="4.6" ry="2.6" transform="rotate(-30 121.3 130.8)"/><ellipse cx="129.2" cy="142.5" rx="4.6" ry="2.6" transform="rotate(-30 129.2 142.5)"/><ellipse cx="135.5" cy="153.2" rx="4.6" ry="2.6" transform="rotate(-30 135.5 153.2)"/><ellipse cx="96.4" cy="57.0" rx="4.6" ry="2.6" transform="rotate(-30 96.4 57.0)"/><ellipse cx="101.8" cy="68.4" rx="4.6" ry="2.6" transform="rotate(-30 101.8 68.4)"/><ellipse cx="115.0" cy="89.0" rx="4.6" ry="2.6" transform="rotate(-30 115.0 89.0)"/><ellipse cx="121.9" cy="100.8" rx="4.6" ry="2.6" transform="rotate(-30 121.9 100.8)"/><ellipse cx="127.4" cy="111.2" rx="4.6" ry="2.6" transform="rotate(-30 127.4 111.2)"/><ellipse cx="135.2" cy="123.2" rx="4.6" ry="2.6" transform="rotate(-30 135.2 123.2)"/><ellipse cx="141.7" cy="133.5" rx="4.6" ry="2.6" transform="rotate(-30 141.7 133.5)"/><ellipse cx="148.6" cy="145.7" rx="4.6" ry="2.6" transform="rotate(-30 148.6 145.7)"/><ellipse cx="114.4" cy="60.3" rx="4.6" ry="2.6" transform="rotate(-30 114.4 60.3)"/><ellipse cx="121.2" cy="70.4" rx="4.6" ry="2.6" transform="rotate(-30 121.2 70.4)"/><ellipse cx="128.0" cy="81.7" rx="4.6" ry="2.6" transform="rotate(-30 128.0 81.7)"/><ellipse cx="141.9" cy="104.3" rx="4.6" ry="2.6" transform="rotate(-30 141.9 104.3)"/><ellipse cx="148.5" cy="115.9" rx="4.6" ry="2.6" transform="rotate(-30 148.5 115.9)"/><ellipse cx="154.9" cy="125.8" rx="4.6" ry="2.6" transform="rotate(-30 154.9 125.8)"/><ellipse cx="161.7" cy="136.8" rx="4.6" ry="2.6" transform="rotate(-30 161.7 136.8)"/><ellipse cx="166.8" cy="148.9" rx="4.6" ry="2.6" transform="rotate(-30 166.8 148.9)"/><ellipse cx="135.6" cy="63.8" rx="4.6" ry="2.6" transform="rotate(-30 135.6 63.8)"/><ellipse cx="140.8" cy="75.2" rx="4.6" ry="2.6" transform="rotate(-30 140.8 75.2)"/><ellipse cx="147.7" cy="84.9" rx="4.6" ry="2.6" transform="rotate(-30 147.7 84.9)"/><ellipse cx="153.6" cy="95.5" rx="4.6" ry="2.6" transform="rotate(-30 153.6 95.5)"/><ellipse cx="160.8" cy="107.5" rx="4.6" ry="2.6" transform="rotate(-30 160.8 107.5)"/><ellipse cx="166.6" cy="118.7" rx="4.6" ry="2.6" transform="rotate(-30 166.6 118.7)"/><ellipse cx="174.4" cy="128.4" rx="4.6" ry="2.6" transform="rotate(-30 174.4 128.4)"/><ellipse cx="180.2" cy="140.1" rx="4.6" ry="2.6" transform="rotate(-30 180.2 140.1)"/><ellipse cx="153.7" cy="66.6" rx="4.6" ry="2.6" transform="rotate(-30 153.7 66.6)"/><ellipse cx="160.3" cy="77.1" rx="4.6" ry="2.6" transform="rotate(-30 160.3 77.1)"/><ellipse cx="174.2" cy="99.1" rx="4.6" ry="2.6" transform="rotate(-30 174.2 99.1)"/><ellipse cx="179.4" cy="110.8" rx="4.6" ry="2.6" transform="rotate(-30 179.4 110.8)"/><ellipse cx="187.4" cy="121.6" rx="4.6" ry="2.6" transform="rotate(-30 187.4 121.6)"/><ellipse cx="173.1" cy="68.8" rx="4.6" ry="2.6" transform="rotate(-30 173.1 68.8)"/><ellipse cx="179.9" cy="81.5" rx="4.6" ry="2.6" transform="rotate(-30 179.9 81.5)"/><ellipse cx="187.7" cy="90.9" rx="4.6" ry="2.6" transform="rotate(-30 187.7 90.9)"/><ellipse cx="200.0" cy="112.8" rx="4.6" ry="2.6" transform="rotate(-30 200.0 112.8)"/><ellipse cx="205.7" cy="124.7" rx="4.6" ry="2.6" transform="rotate(-30 205.7 124.7)"/><ellipse cx="187.7" cy="62.5" rx="4.6" ry="2.6" transform="rotate(-30 187.7 62.5)"/><ellipse cx="193.4" cy="73.6" rx="4.6" ry="2.6" transform="rotate(-30 193.4 73.6)"/><ellipse cx="200.6" cy="83.4" rx="4.6" ry="2.6" transform="rotate(-30 200.6 83.4)"/><ellipse cx="206.7" cy="95.0" rx="4.6" ry="2.6" transform="rotate(-30 206.7 95.0)"/><ellipse cx="211.9" cy="105.0" rx="4.6" ry="2.6" transform="rotate(-30 211.9 105.0)"/><ellipse cx="218.4" cy="117.2" rx="4.6" ry="2.6" transform="rotate(-30 218.4 117.2)"/><ellipse cx="207.1" cy="65.8" rx="4.6" ry="2.6" transform="rotate(-30 207.1 65.8)"/><ellipse cx="219.5" cy="86.4" rx="4.6" ry="2.6" transform="rotate(-30 219.5 86.4)"/><ellipse cx="226.2" cy="97.6" rx="4.6" ry="2.6" transform="rotate(-30 226.2 97.6)"/><ellipse cx="231.5" cy="109.4" rx="4.6" ry="2.6" transform="rotate(-30 231.5 109.4)"/><ellipse cx="225.1" cy="68.3" rx="4.6" ry="2.6" transform="rotate(-30 225.1 68.3)"/><ellipse cx="232.8" cy="79.2" rx="4.6" ry="2.6" transform="rotate(-30 232.8 79.2)"/><ellipse cx="238.8" cy="91.1" rx="4.6" ry="2.6" transform="rotate(-30 238.8 91.1)"/><ellipse cx="245.5" cy="100.7" rx="4.6" ry="2.6" transform="rotate(-30 245.5 100.7)"/><ellipse cx="239.3" cy="59.5" rx="4.6" ry="2.6" transform="rotate(-30 239.3 59.5)"/><ellipse cx="246.2" cy="70.5" rx="4.6" ry="2.6" transform="rotate(-30 246.2 70.5)"/><ellipse cx="251.0" cy="82.3" rx="4.6" ry="2.6" transform="rotate(-30 251.0 82.3)"/><ellipse cx="259.0" cy="92.7" rx="4.6" ry="2.6" transform="rotate(-30 259.0 92.7)"/><ellipse cx="257.7" cy="63.4" rx="4.6" ry="2.6" transform="rotate(-30 257.7 63.4)"/><ellipse cx="264.3" cy="73.6" rx="4.6" ry="2.6" transform="rotate(-30 264.3 73.6)"/><ellipse cx="272.1" cy="86.0" rx="4.6" ry="2.6" transform="rotate(-30 272.1 86.0)"/><ellipse cx="284.6" cy="78.1" rx="4.6" ry="2.6" transform="rotate(-30 284.6 78.1)"/></g>
</g></g>
<!-- sharp arch coil -->
<path d="M112 156 L144 132 L170 119 L193 109 L215 98 L232 88 L246 80 L250 100 L242 130 L238 160 L200 160 L150 160 Z" fill="url(#chk)" filter="url(#bl1)"/>
<path d="M240 72 L246 70 L262 74 L274 94 L280 116 L276 124 L268 142 L253 155 L240 166 L236 160 L234 130 L236 100 Z" fill="url(#chkb)" filter="url(#bl1)"/>
<path d="M280 114 L276 124 L268 142 L253 155 L240 166 L232 160 L246 148 L260 134 L270 116 Z" fill="#bcd68c" opacity="0.85" filter="url(#bl2)"/>
<!-- left neck with pale scales -->
<path d="M64 150 L90 145 L113 139 L122 142 L125 172 L100 177 L64 184 Z" fill="url(#chk3)" filter="url(#bl1)"/>
<path d="M64 150 L90 145 L113 139 L118 140 L116 145 L92 151 L64 157 Z" fill="#5ea42a" filter="url(#bl1)"/>
<!-- lower-left coil -->
<path d="M64 174 L92 169 L114 171 L126 178 L135 190 L142 200 L143 224 L138 244 L131 262 L126 282 L100 290 L64 256 Z" fill="url(#chk2)" filter="url(#bl1)"/>
<path d="M64 174 L92 169 L114 171 L124 177 L118 185 L90 194 L64 200 Z" fill="#cce0f0" opacity="0.5" filter="url(#bl1)"/>
<!-- dark body lower -->
<path d="M108 263 L124 256 L138 247 L139.5 262 L140 300 L104 300 Z" fill="#4a6216" filter="url(#bl1)"/>
<path d="M126 262 L136 256 L138 272 L130 280 Z" fill="#98a828" opacity="0.7" filter="url(#bl2)"/>
<!-- neck going down-left (yellow green) -->
<path d="M121 177 L152 184 L152 200 L147 214 L141 224 L137 205 L129 190 Z" fill="#b6d83a" filter="url(#bl1)"/>
<path d="M128 186 L150 190 M132 196 L151 199 M136 206 L149 208 M138 215 L146 216" stroke="#8cb82a" stroke-width="1.2" fill="none"/>
<!-- dark shadow body under head -->
<path d="M148 182 L212 186 L204 189 L172 209 L140 224 L147 214 L151 200 Z" fill="#4a6c1c" filter="url(#bl1)"/>
<path d="M150 212 L196 190 M146 219 L170 207" stroke="#6c8c2c" stroke-width="1.5" fill="none" filter="url(#bl1)"/>
<!-- head -->
<g filter="url(#bl1)">
<path d="M112 148 C120 142 134 138.5 150 138 C170 137.5 190 138 205 144.5 C220 151.5 235 161.5 246 169.5 C251 173.5 255 176.5 257 180.5 L257.5 182.5 C252 185 246 188 238 188.5 C225 189.5 210 189.5 195 188 C175 186 155 183.5 137 180.5 C126 178 118 173 114 166 Z" fill="#80c41e"/>
<path d="M118 166 C135 171 160 175 185 177.5 C210 179.5 235 180.5 255 181.5 L256 183 C246 188 225 189.5 200 188.5 C170 186.5 145 182.5 127 177.5 Z" fill="#a8d832"/>
<path d="M114 151 C130 141 170 138 200 142.5 C215 145.5 226 151.5 236 159.5 C215 154.5 190 150.5 165 150 C148 150 128 152.5 116 157.5 Z" fill="#4a8e14" opacity="0.75"/>
<path d="M125 176 C150 181 180 184 210 185.5 C230 186 245 184 256 182" stroke="#4c8410" stroke-width="0.9" fill="none"/>
</g>
<!-- eye -->
<ellipse cx="189" cy="167.8" rx="13.6" ry="11" fill="#7a8a18" filter="url(#bl1)"/>
<ellipse cx="189" cy="168.2" rx="12.4" ry="9.9" fill="#d6c052"/>
<path d="M180.5 167 C182 164.3 186 164.6 190 165.3 L199.5 166.6 C196 168.8 190 169.6 186 170.2 C183 170.8 180.5 169.6 180.5 167 Z" fill="#111"/>
<!-- tongue -->
<path d="M244 184 C260 188 277 196 294 206.5 L292 212 C276 202.5 259 195 243 190 Z" fill="#a6d2c2" filter="url(#bl1)"/>
<path d="M245 184.5 C261 188.5 277 196.5 294 207" stroke="#78a898" stroke-width="0.9" fill="none"/>
<path d="M244 189.5 C260 194.5 276 202 292 211.5" stroke="#5e8c78" stroke-width="1" fill="none"/>

</g>
<circle cx="182.3" cy="181.8" r="107.7" fill="none" stroke="#000" stroke-width="1.9"/>
<rect x="421" y="25.3" width="281" height="287.0" fill="#fcf5e5"/>
<g filter="url(#hb)"><ellipse cx="450.75" cy="47" rx="13.09" ry="13" fill="#f8d8c0" opacity="0.4"/><ellipse cx="682" cy="281.65" rx="13" ry="13.49" fill="#f8d8c0" opacity="0.4"/><ellipse cx="504.75" cy="47" rx="10.67" ry="13" fill="#f8d8c0" opacity="0.4"/><ellipse cx="682" cy="225.85" rx="13" ry="11.07" fill="#f8d8c0" opacity="0.4"/><ellipse cx="547.55" cy="47" rx="8.16" ry="13" fill="#f8d8c0" opacity="0.4"/><ellipse cx="682" cy="182.2" rx="13" ry="8.14" fill="#f8d8c0" opacity="0.4"/><ellipse cx="578" cy="47" rx="5.24" ry="13" fill="#f8d8c0" opacity="0.4"/><ellipse cx="682" cy="151.35" rx="13" ry="5.43" fill="#f8d8c0" opacity="0.4"/><ellipse cx="600.6" cy="47" rx="4.71" ry="13" fill="#f8d8c0" opacity="0.4"/><ellipse cx="682" cy="127.9" rx="13" ry="4.88" fill="#f8d8c0" opacity="0.4"/><ellipse cx="620.75" cy="47" rx="4.16" ry="13" fill="#f8d8c0" opacity="0.4"/><ellipse cx="682" cy="107.3" rx="13" ry="4.18" fill="#f8d8c0" opacity="0.4"/><ellipse cx="638.25" cy="47" rx="3.54" ry="13" fill="#f8d8c0" opacity="0.4"/><ellipse cx="682" cy="89.6" rx="13" ry="3.61" fill="#f8d8c0" opacity="0.4"/><ellipse cx="654.3" cy="47" rx="3.52" ry="13" fill="#f8d8c0" opacity="0.4"/><ellipse cx="682" cy="73.8" rx="13" ry="3.34" fill="#f8d8c0" opacity="0.4"/></g>
<rect x="662.3" y="25.3" width="39.7" height="40.9" fill="#f9d8be"/>
<rect x="421" y="251" width="59.5" height="61.3" fill="url(#dg0)"/>
<rect x="480.5" y="200.7" width="48.5" height="50.3" fill="url(#dg1)"/>
<rect x="529" y="163.7" width="37.1" height="37" fill="url(#dg2)"/>
<rect x="566.1" y="139" width="23.8" height="24.7" fill="url(#dg3)"/>
<rect x="589.9" y="116.8" width="21.4" height="22.2" fill="url(#dg4)"/>
<rect x="611.3" y="97.8" width="18.9" height="19" fill="url(#dg5)"/>
<rect x="630.2" y="81.4" width="16.1" height="16.4" fill="url(#dg6)"/>
<rect x="646.3" y="66.2" width="16" height="15.2" fill="url(#dg7)"/>
<rect x="662.3" y="60.2" width="5.6" height="6" fill="url(#dg8)"/>
<rect x="667.9" y="54.2" width="5.4" height="6" fill="url(#dg9)"/>
<rect x="673.3" y="48.3" width="5.3" height="5.9" fill="url(#dg10)"/>
<rect x="678.6" y="43.3" width="5" height="5" fill="url(#dg11)"/>
<rect x="683.6" y="39.1" width="4.5" height="4.2" fill="url(#dg12)"/>
<rect x="688.1" y="35.2" width="3.7" height="3.9" fill="url(#dg13)"/>
<rect x="691.8" y="32.3" width="2.7" height="2.9" fill="url(#dg14)"/>
<rect x="694.5" y="29.6" width="2.7" height="2.7" fill="url(#dg15)"/>
<rect x="697.2" y="27.5" width="2.3" height="2.1" fill="url(#dg16)"/>
<rect x="699.5" y="25.3" width="2.5" height="2.2" fill="url(#dg17)"/>
<line x1="436.6" y1="251.5" x2="436.6" y2="312.3" stroke="#fff8f0" stroke-width="0.9" opacity="0.3"/>
<line x1="421" y1="295.8" x2="480" y2="295.8" stroke="#fff8f0" stroke-width="0.9" opacity="0.3"/>
<line x1="421" y1="312.3" x2="702" y2="25.3" stroke="#e8603f" stroke-width="0.85"/>
<line x1="480.5" y1="25.3" x2="480.5" y2="312.3" class="dv"/>
<line x1="529" y1="25.3" x2="529" y2="312.3" class="dv"/>
<line x1="566.1" y1="25.3" x2="566.1" y2="312.3" class="dv"/>
<line x1="589.9" y1="25.3" x2="589.9" y2="312.3" class="dv"/>
<line x1="611.3" y1="25.3" x2="611.3" y2="312.3" class="dv"/>
<line x1="630.2" y1="25.3" x2="630.2" y2="312.3" class="dv"/>
<line x1="646.3" y1="25.3" x2="646.3" y2="312.3" class="dv"/>
<line x1="662.3" y1="25.3" x2="662.3" y2="312.3" class="dv"/>
<line x1="667.9" y1="25.3" x2="667.9" y2="312.3" class="dv"/>
<line x1="673.3" y1="25.3" x2="673.3" y2="312.3" class="dv"/>
<line x1="678.6" y1="25.3" x2="678.6" y2="312.3" class="dv"/>
<line x1="683.6" y1="25.3" x2="683.6" y2="312.3" class="dv"/>
<line x1="688.1" y1="25.3" x2="688.1" y2="312.3" class="dv"/>
<line x1="691.8" y1="25.3" x2="691.8" y2="312.3" class="dv"/>
<line x1="694.5" y1="25.3" x2="694.5" y2="312.3" class="dv"/>
<line x1="697.2" y1="25.3" x2="697.2" y2="312.3" class="dv"/>
<line x1="699.5" y1="25.3" x2="699.5" y2="312.3" class="dv"/>
<line x1="421" y1="251" x2="702" y2="251" class="dh"/>
<line x1="421" y1="200.7" x2="702" y2="200.7" class="dh"/>
<line x1="421" y1="163.7" x2="702" y2="163.7" class="dh"/>
<line x1="421" y1="139" x2="702" y2="139" class="dh"/>
<line x1="421" y1="116.8" x2="702" y2="116.8" class="dh"/>
<line x1="421" y1="97.8" x2="702" y2="97.8" class="dh"/>
<line x1="421" y1="81.4" x2="702" y2="81.4" class="dh"/>
<line x1="421" y1="66.2" x2="702" y2="66.2" class="dh"/>
<line x1="421" y1="60.2" x2="702" y2="60.2" class="dh"/>
<line x1="421" y1="54.2" x2="702" y2="54.2" class="dh"/>
<line x1="421" y1="48.3" x2="702" y2="48.3" class="dh"/>
<line x1="421" y1="43.3" x2="702" y2="43.3" class="dh"/>
<line x1="421" y1="39.1" x2="702" y2="39.1" class="dh"/>
<line x1="421" y1="35.2" x2="702" y2="35.2" class="dh"/>
<line x1="421" y1="32.3" x2="702" y2="32.3" class="dh"/>
<line x1="421" y1="29.6" x2="702" y2="29.6" class="dh"/>
<line x1="421" y1="27.5" x2="702" y2="27.5" class="dh"/>
<rect x="706" y="159" width="5" height="23" fill="url(#cb)"/>
<text x="420" y="285.2" text-anchor="end" class="hl">Chr01</text>
<text x="420" y="229.5" text-anchor="end" class="hl">Chr02</text>
<text x="420" y="187" text-anchor="end" class="hl">Chr03</text>
<text x="420" y="155.5" text-anchor="end" class="hl">Chr04</text>
<text x="420" y="131.5" text-anchor="end" class="hl">Chr05</text>
<text x="420" y="110.8" text-anchor="end" class="hl">Chr06</text>
<text x="420" y="94.1" text-anchor="end" class="hl">Chr07</text>
<text x="420" y="77.8" text-anchor="end" class="hl">Chr08</text>
<text x="420" y="67.2" text-anchor="end" class="hl">Chr09</text>
<text x="420" y="59.7" text-anchor="end" class="hl">Chr10</text>
<text x="420" y="54.3" text-anchor="end" class="hl">Chr11</text>
<text x="420" y="30" text-anchor="end" class="hl">Chr18</text>
<text transform="translate(455.6 316) rotate(-90)" text-anchor="end" class="hl">Chr01</text>
<text transform="translate(509.5 316) rotate(-90)" text-anchor="end" class="hl">Chr02</text>
<text transform="translate(551.6 316) rotate(-90)" text-anchor="end" class="hl">Chr03</text>
<text transform="translate(582.9 316) rotate(-90)" text-anchor="end" class="hl">Chr04</text>
<text transform="translate(605.2 316) rotate(-90)" text-anchor="end" class="hl">Chr05</text>
<text transform="translate(625.4 316) rotate(-90)" text-anchor="end" class="hl">Chr06</text>
<text transform="translate(642.4 316) rotate(-90)" text-anchor="end" class="hl">Chr07</text>
<text transform="translate(657.3 316) rotate(-90)" text-anchor="end" class="hl">Chr08</text>
<text transform="translate(666.8 316) rotate(-90)" text-anchor="end" class="hl">Chr09</text>
<text transform="translate(673.6 316) rotate(-90)" text-anchor="end" class="hl">Chr10</text>
<text transform="translate(678.9 316) rotate(-90)" text-anchor="end" class="hl">Chr11</text>
<text transform="translate(705.5 316) rotate(-90)" text-anchor="end" class="hl">Chr18</text>
</svg>
</body></html>
